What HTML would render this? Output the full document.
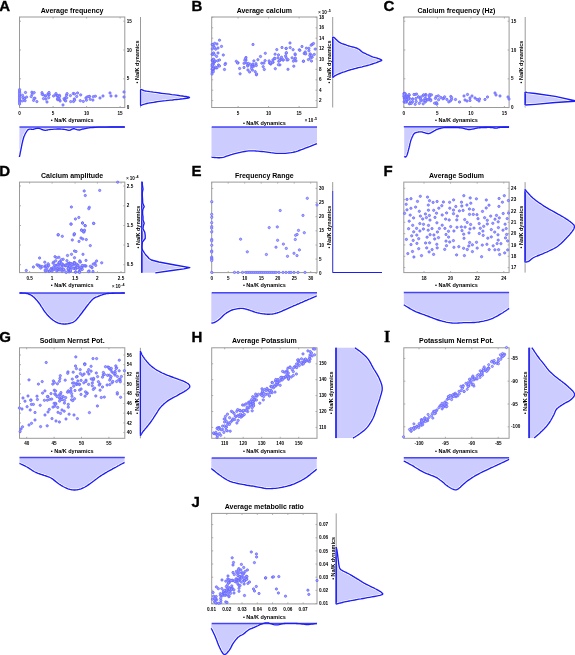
<!DOCTYPE html>
<html><head><meta charset="utf-8"><style>html,body{margin:0;padding:0;background:#fff;width:575px;height:655px;overflow:hidden}svg{display:block;will-change:transform}text{font-family:"Liberation Sans", sans-serif}</style></head>
<body><svg width="575" height="655" viewBox="0 0 575 655" font-family='"Liberation Sans", sans-serif'><text x="-0.80" y="10.80" font-size="15" font-weight="bold" text-anchor="start" fill="#000" stroke="#000" stroke-width="0.35">A</text>
<text x="72.15" y="12.60" font-size="7" font-weight="bold" text-anchor="middle" fill="#000">Average frequency</text>
<rect x="19.5" y="17" width="105.30" height="90.50" fill="none" stroke="#9a9a9a" stroke-width="1"/>
<line x1="19.5" y1="21.20" x2="21.0" y2="21.20" stroke="#9a9a9a" stroke-width="0.8"/>
<line x1="124.8" y1="21.20" x2="123.3" y2="21.20" stroke="#9a9a9a" stroke-width="0.8"/>
<text x="126.80" y="22.80" font-size="4.6" font-weight="bold" text-anchor="start" fill="#000">15</text>
<line x1="19.5" y1="50.00" x2="21.0" y2="50.00" stroke="#9a9a9a" stroke-width="0.8"/>
<line x1="124.8" y1="50.00" x2="123.3" y2="50.00" stroke="#9a9a9a" stroke-width="0.8"/>
<text x="126.80" y="51.60" font-size="4.6" font-weight="bold" text-anchor="start" fill="#000">10</text>
<line x1="19.5" y1="78.80" x2="21.0" y2="78.80" stroke="#9a9a9a" stroke-width="0.8"/>
<line x1="124.8" y1="78.80" x2="123.3" y2="78.80" stroke="#9a9a9a" stroke-width="0.8"/>
<text x="126.80" y="80.40" font-size="4.6" font-weight="bold" text-anchor="start" fill="#000">5</text>
<line x1="19.5" y1="107.60" x2="21.0" y2="107.60" stroke="#9a9a9a" stroke-width="0.8"/>
<line x1="124.8" y1="107.60" x2="123.3" y2="107.60" stroke="#9a9a9a" stroke-width="0.8"/>
<text x="126.80" y="109.20" font-size="4.6" font-weight="bold" text-anchor="start" fill="#000">0</text>
<line x1="19.60" y1="107.5" x2="19.60" y2="106.0" stroke="#9a9a9a" stroke-width="0.8"/>
<line x1="19.60" y1="17" x2="19.60" y2="18.5" stroke="#9a9a9a" stroke-width="0.8"/>
<text x="19.60" y="114.60" font-size="4.6" font-weight="bold" text-anchor="middle" fill="#000">0</text>
<line x1="53.10" y1="107.5" x2="53.10" y2="106.0" stroke="#9a9a9a" stroke-width="0.8"/>
<line x1="53.10" y1="17" x2="53.10" y2="18.5" stroke="#9a9a9a" stroke-width="0.8"/>
<text x="53.10" y="114.60" font-size="4.6" font-weight="bold" text-anchor="middle" fill="#000">5</text>
<line x1="86.60" y1="107.5" x2="86.60" y2="106.0" stroke="#9a9a9a" stroke-width="0.8"/>
<line x1="86.60" y1="17" x2="86.60" y2="18.5" stroke="#9a9a9a" stroke-width="0.8"/>
<text x="86.60" y="114.60" font-size="4.6" font-weight="bold" text-anchor="middle" fill="#000">10</text>
<line x1="120.10" y1="107.5" x2="120.10" y2="106.0" stroke="#9a9a9a" stroke-width="0.8"/>
<line x1="120.10" y1="17" x2="120.10" y2="18.5" stroke="#9a9a9a" stroke-width="0.8"/>
<text x="120.10" y="114.60" font-size="4.6" font-weight="bold" text-anchor="middle" fill="#000">15</text>
<text x="72.15" y="122.20" font-size="5.5" font-weight="bold" text-anchor="middle" fill="#000">• Na/K dynamics</text>
<text x="138.70" y="62.00" font-size="5.5" font-weight="bold" text-anchor="middle" fill="#000" transform="rotate(-90 138.70 62.00)">• Na/K dynamics</text>
<circle cx="19.6" cy="89.6" r="1.15" fill="#a0a0ff" stroke="#6464ff" stroke-width="0.75"/>
<circle cx="19.6" cy="91.0" r="1.15" fill="#a0a0ff" stroke="#6464ff" stroke-width="0.75"/>
<circle cx="19.6" cy="92.3" r="1.15" fill="#a0a0ff" stroke="#6464ff" stroke-width="0.75"/>
<circle cx="19.6" cy="93.6" r="1.15" fill="#a0a0ff" stroke="#6464ff" stroke-width="0.75"/>
<circle cx="19.6" cy="95.0" r="1.15" fill="#a0a0ff" stroke="#6464ff" stroke-width="0.75"/>
<circle cx="19.6" cy="96.2" r="1.15" fill="#a0a0ff" stroke="#6464ff" stroke-width="0.75"/>
<circle cx="19.6" cy="97.5" r="1.15" fill="#a0a0ff" stroke="#6464ff" stroke-width="0.75"/>
<circle cx="19.6" cy="98.8" r="1.15" fill="#a0a0ff" stroke="#6464ff" stroke-width="0.75"/>
<circle cx="19.6" cy="100.0" r="1.15" fill="#a0a0ff" stroke="#6464ff" stroke-width="0.75"/>
<circle cx="19.6" cy="101.3" r="1.15" fill="#a0a0ff" stroke="#6464ff" stroke-width="0.75"/>
<circle cx="19.6" cy="102.5" r="1.15" fill="#a0a0ff" stroke="#6464ff" stroke-width="0.75"/>
<circle cx="19.6" cy="104.0" r="1.15" fill="#a0a0ff" stroke="#6464ff" stroke-width="0.75"/>
<circle cx="24.3" cy="98.2" r="1.15" fill="#a0a0ff" stroke="#6464ff" stroke-width="0.75"/>
<circle cx="26.6" cy="97.1" r="1.15" fill="#a0a0ff" stroke="#6464ff" stroke-width="0.75"/>
<circle cx="24.5" cy="98.5" r="1.15" fill="#a0a0ff" stroke="#6464ff" stroke-width="0.75"/>
<circle cx="22.9" cy="97.6" r="1.15" fill="#a0a0ff" stroke="#6464ff" stroke-width="0.75"/>
<circle cx="25.1" cy="100.7" r="1.15" fill="#a0a0ff" stroke="#6464ff" stroke-width="0.75"/>
<circle cx="22.5" cy="95.3" r="1.15" fill="#a0a0ff" stroke="#6464ff" stroke-width="0.75"/>
<circle cx="22.5" cy="100.9" r="1.15" fill="#a0a0ff" stroke="#6464ff" stroke-width="0.75"/>
<circle cx="25.5" cy="92.5" r="1.15" fill="#a0a0ff" stroke="#6464ff" stroke-width="0.75"/>
<circle cx="36.9" cy="101.6" r="1.15" fill="#a0a0ff" stroke="#6464ff" stroke-width="0.75"/>
<circle cx="34.9" cy="98.2" r="1.15" fill="#a0a0ff" stroke="#6464ff" stroke-width="0.75"/>
<circle cx="31.9" cy="92.2" r="1.15" fill="#a0a0ff" stroke="#6464ff" stroke-width="0.75"/>
<circle cx="34.2" cy="92.6" r="1.15" fill="#a0a0ff" stroke="#6464ff" stroke-width="0.75"/>
<circle cx="32.1" cy="94.4" r="1.15" fill="#a0a0ff" stroke="#6464ff" stroke-width="0.75"/>
<circle cx="31.2" cy="96.6" r="1.15" fill="#a0a0ff" stroke="#6464ff" stroke-width="0.75"/>
<circle cx="33.6" cy="100.4" r="1.15" fill="#a0a0ff" stroke="#6464ff" stroke-width="0.75"/>
<circle cx="34.1" cy="98.4" r="1.15" fill="#a0a0ff" stroke="#6464ff" stroke-width="0.75"/>
<circle cx="43.5" cy="98.6" r="1.15" fill="#a0a0ff" stroke="#6464ff" stroke-width="0.75"/>
<circle cx="43.2" cy="94.8" r="1.15" fill="#a0a0ff" stroke="#6464ff" stroke-width="0.75"/>
<circle cx="47.0" cy="102.0" r="1.15" fill="#a0a0ff" stroke="#6464ff" stroke-width="0.75"/>
<circle cx="45.9" cy="99.1" r="1.15" fill="#a0a0ff" stroke="#6464ff" stroke-width="0.75"/>
<circle cx="42.2" cy="94.3" r="1.15" fill="#a0a0ff" stroke="#6464ff" stroke-width="0.75"/>
<circle cx="42.0" cy="92.7" r="1.15" fill="#a0a0ff" stroke="#6464ff" stroke-width="0.75"/>
<circle cx="45.4" cy="96.0" r="1.15" fill="#a0a0ff" stroke="#6464ff" stroke-width="0.75"/>
<circle cx="45.9" cy="95.9" r="1.15" fill="#a0a0ff" stroke="#6464ff" stroke-width="0.75"/>
<circle cx="57.6" cy="99.6" r="1.15" fill="#a0a0ff" stroke="#6464ff" stroke-width="0.75"/>
<circle cx="48.0" cy="93.9" r="1.15" fill="#a0a0ff" stroke="#6464ff" stroke-width="0.75"/>
<circle cx="57.1" cy="96.2" r="1.15" fill="#a0a0ff" stroke="#6464ff" stroke-width="0.75"/>
<circle cx="57.8" cy="95.6" r="1.15" fill="#a0a0ff" stroke="#6464ff" stroke-width="0.75"/>
<circle cx="48.7" cy="97.7" r="1.15" fill="#a0a0ff" stroke="#6464ff" stroke-width="0.75"/>
<circle cx="55.8" cy="94.4" r="1.15" fill="#a0a0ff" stroke="#6464ff" stroke-width="0.75"/>
<circle cx="48.9" cy="95.0" r="1.15" fill="#a0a0ff" stroke="#6464ff" stroke-width="0.75"/>
<circle cx="57.6" cy="98.8" r="1.15" fill="#a0a0ff" stroke="#6464ff" stroke-width="0.75"/>
<circle cx="49.2" cy="94.2" r="1.15" fill="#a0a0ff" stroke="#6464ff" stroke-width="0.75"/>
<circle cx="49.0" cy="92.5" r="1.15" fill="#a0a0ff" stroke="#6464ff" stroke-width="0.75"/>
<circle cx="56.0" cy="93.6" r="1.15" fill="#a0a0ff" stroke="#6464ff" stroke-width="0.75"/>
<circle cx="53.6" cy="96.0" r="1.15" fill="#a0a0ff" stroke="#6464ff" stroke-width="0.75"/>
<circle cx="59.3" cy="99.6" r="1.15" fill="#a0a0ff" stroke="#6464ff" stroke-width="0.75"/>
<circle cx="58.9" cy="98.8" r="1.15" fill="#a0a0ff" stroke="#6464ff" stroke-width="0.75"/>
<circle cx="58.8" cy="96.8" r="1.15" fill="#a0a0ff" stroke="#6464ff" stroke-width="0.75"/>
<circle cx="59.5" cy="95.4" r="1.15" fill="#a0a0ff" stroke="#6464ff" stroke-width="0.75"/>
<circle cx="64.8" cy="100.2" r="1.15" fill="#a0a0ff" stroke="#6464ff" stroke-width="0.75"/>
<circle cx="60.1" cy="101.0" r="1.15" fill="#a0a0ff" stroke="#6464ff" stroke-width="0.75"/>
<circle cx="59.5" cy="96.5" r="1.15" fill="#a0a0ff" stroke="#6464ff" stroke-width="0.75"/>
<circle cx="64.0" cy="98.8" r="1.15" fill="#a0a0ff" stroke="#6464ff" stroke-width="0.75"/>
<circle cx="63.0" cy="105.0" r="1.15" fill="#a0a0ff" stroke="#6464ff" stroke-width="0.75"/>
<circle cx="65.7" cy="100.9" r="1.15" fill="#a0a0ff" stroke="#6464ff" stroke-width="0.75"/>
<circle cx="66.5" cy="95.1" r="1.15" fill="#a0a0ff" stroke="#6464ff" stroke-width="0.75"/>
<circle cx="70.4" cy="95.6" r="1.15" fill="#a0a0ff" stroke="#6464ff" stroke-width="0.75"/>
<circle cx="67.1" cy="93.6" r="1.15" fill="#a0a0ff" stroke="#6464ff" stroke-width="0.75"/>
<circle cx="65.6" cy="97.7" r="1.15" fill="#a0a0ff" stroke="#6464ff" stroke-width="0.75"/>
<circle cx="66.7" cy="97.8" r="1.15" fill="#a0a0ff" stroke="#6464ff" stroke-width="0.75"/>
<circle cx="76.7" cy="96.5" r="1.15" fill="#a0a0ff" stroke="#6464ff" stroke-width="0.75"/>
<circle cx="87.3" cy="96.8" r="1.15" fill="#a0a0ff" stroke="#6464ff" stroke-width="0.75"/>
<circle cx="80.3" cy="100.7" r="1.15" fill="#a0a0ff" stroke="#6464ff" stroke-width="0.75"/>
<circle cx="73.3" cy="93.5" r="1.15" fill="#a0a0ff" stroke="#6464ff" stroke-width="0.75"/>
<circle cx="86.4" cy="100.2" r="1.15" fill="#a0a0ff" stroke="#6464ff" stroke-width="0.75"/>
<circle cx="74.5" cy="93.9" r="1.15" fill="#a0a0ff" stroke="#6464ff" stroke-width="0.75"/>
<circle cx="83.3" cy="101.4" r="1.15" fill="#a0a0ff" stroke="#6464ff" stroke-width="0.75"/>
<circle cx="73.5" cy="101.5" r="1.15" fill="#a0a0ff" stroke="#6464ff" stroke-width="0.75"/>
<circle cx="85.9" cy="98.0" r="1.15" fill="#a0a0ff" stroke="#6464ff" stroke-width="0.75"/>
<circle cx="77.6" cy="93.0" r="1.15" fill="#a0a0ff" stroke="#6464ff" stroke-width="0.75"/>
<circle cx="70.7" cy="101.6" r="1.15" fill="#a0a0ff" stroke="#6464ff" stroke-width="0.75"/>
<circle cx="74.3" cy="99.0" r="1.15" fill="#a0a0ff" stroke="#6464ff" stroke-width="0.75"/>
<circle cx="74.6" cy="100.2" r="1.15" fill="#a0a0ff" stroke="#6464ff" stroke-width="0.75"/>
<circle cx="80.7" cy="94.9" r="1.15" fill="#a0a0ff" stroke="#6464ff" stroke-width="0.75"/>
<circle cx="90.2" cy="99.3" r="1.15" fill="#a0a0ff" stroke="#6464ff" stroke-width="0.75"/>
<circle cx="89.5" cy="96.4" r="1.15" fill="#a0a0ff" stroke="#6464ff" stroke-width="0.75"/>
<circle cx="92.9" cy="100.1" r="1.15" fill="#a0a0ff" stroke="#6464ff" stroke-width="0.75"/>
<circle cx="93.3" cy="96.7" r="1.15" fill="#a0a0ff" stroke="#6464ff" stroke-width="0.75"/>
<circle cx="95.4" cy="96.2" r="1.15" fill="#a0a0ff" stroke="#6464ff" stroke-width="0.75"/>
<circle cx="89.1" cy="96.6" r="1.15" fill="#a0a0ff" stroke="#6464ff" stroke-width="0.75"/>
<circle cx="100.0" cy="98.0" r="1.15" fill="#a0a0ff" stroke="#6464ff" stroke-width="0.75"/>
<circle cx="103.0" cy="96.0" r="1.15" fill="#a0a0ff" stroke="#6464ff" stroke-width="0.75"/>
<circle cx="110.0" cy="93.0" r="1.15" fill="#a0a0ff" stroke="#6464ff" stroke-width="0.75"/>
<circle cx="111.0" cy="96.0" r="1.15" fill="#a0a0ff" stroke="#6464ff" stroke-width="0.75"/>
<circle cx="116.0" cy="96.0" r="1.15" fill="#a0a0ff" stroke="#6464ff" stroke-width="0.75"/>
<circle cx="124.0" cy="92.0" r="1.15" fill="#a0a0ff" stroke="#6464ff" stroke-width="0.75"/>
<circle cx="124.0" cy="97.0" r="1.15" fill="#a0a0ff" stroke="#6464ff" stroke-width="0.75"/>
<polygon points="140.5,89.4 140.5,89.4 140.6,89.4 140.8,89.5 141.1,89.6 141.3,89.6 141.6,89.7 141.9,89.8 142.2,89.9 142.5,90.0 142.8,90.1 142.9,90.2 143.1,90.3 143.2,90.4 143.5,90.5 144.0,90.7 144.6,90.8 145.5,91.0 146.7,91.2 148.1,91.4 149.7,91.7 151.5,91.9 153.4,92.2 155.4,92.4 157.4,92.7 159.5,93.0 161.7,93.3 164.1,93.6 166.6,93.9 169.2,94.2 171.7,94.6 174.2,94.9 176.5,95.2 178.5,95.5 180.4,95.8 182.4,96.0 184.3,96.3 186.0,96.5 187.5,96.8 188.6,97.0 189.3,97.3 189.5,97.5 189.1,97.8 188.0,98.0 186.6,98.3 184.8,98.5 182.7,98.8 180.6,99.0 178.5,99.3 176.5,99.5 174.5,99.7 172.5,100.0 170.3,100.2 168.1,100.4 165.8,100.7 163.6,100.9 161.5,101.1 159.5,101.4 157.5,101.7 155.6,102.0 153.6,102.3 151.8,102.6 150.0,102.9 148.3,103.2 146.8,103.5 145.5,103.8 144.4,104.1 143.5,104.3 142.7,104.6 142.1,104.8 141.6,105.1 141.2,105.3 140.8,105.5 140.5,105.6 140.5,105.6" fill="#ccccff" stroke="none"/>
<line x1="140.5" y1="17" x2="140.5" y2="107.5" stroke="#9a9a9a" stroke-width="1"/>
<line x1="140.5" y1="89.40" x2="140.5" y2="105.60" stroke="#1c1cf4" stroke-width="1.1"/>
<polyline points="140.5,89.4 140.6,89.4 140.8,89.5 141.1,89.6 141.3,89.6 141.6,89.7 141.9,89.8 142.2,89.9 142.5,90.0 142.8,90.1 142.9,90.2 143.1,90.3 143.2,90.4 143.5,90.5 144.0,90.7 144.6,90.8 145.5,91.0 146.7,91.2 148.1,91.4 149.7,91.7 151.5,91.9 153.4,92.2 155.4,92.4 157.4,92.7 159.5,93.0 161.7,93.3 164.1,93.6 166.6,93.9 169.2,94.2 171.7,94.6 174.2,94.9 176.5,95.2 178.5,95.5 180.4,95.8 182.4,96.0 184.3,96.3 186.0,96.5 187.5,96.8 188.6,97.0 189.3,97.3 189.5,97.5 189.1,97.8 188.0,98.0 186.6,98.3 184.8,98.5 182.7,98.8 180.6,99.0 178.5,99.3 176.5,99.5 174.5,99.7 172.5,100.0 170.3,100.2 168.1,100.4 165.8,100.7 163.6,100.9 161.5,101.1 159.5,101.4 157.5,101.7 155.6,102.0 153.6,102.3 151.8,102.6 150.0,102.9 148.3,103.2 146.8,103.5 145.5,103.8 144.4,104.1 143.5,104.3 142.7,104.6 142.1,104.8 141.6,105.1 141.2,105.3 140.8,105.5 140.5,105.6" fill="none" stroke="#fff" stroke-width="2.8" stroke-linejoin="round"/>
<line x1="140.5" y1="89.40" x2="140.5" y2="105.60" stroke="#1c1cf4" stroke-width="1.1"/>
<polyline points="140.5,89.4 140.6,89.4 140.8,89.5 141.1,89.6 141.3,89.6 141.6,89.7 141.9,89.8 142.2,89.9 142.5,90.0 142.8,90.1 142.9,90.2 143.1,90.3 143.2,90.4 143.5,90.5 144.0,90.7 144.6,90.8 145.5,91.0 146.7,91.2 148.1,91.4 149.7,91.7 151.5,91.9 153.4,92.2 155.4,92.4 157.4,92.7 159.5,93.0 161.7,93.3 164.1,93.6 166.6,93.9 169.2,94.2 171.7,94.6 174.2,94.9 176.5,95.2 178.5,95.5 180.4,95.8 182.4,96.0 184.3,96.3 186.0,96.5 187.5,96.8 188.6,97.0 189.3,97.3 189.5,97.5 189.1,97.8 188.0,98.0 186.6,98.3 184.8,98.5 182.7,98.8 180.6,99.0 178.5,99.3 176.5,99.5 174.5,99.7 172.5,100.0 170.3,100.2 168.1,100.4 165.8,100.7 163.6,100.9 161.5,101.1 159.5,101.4 157.5,101.7 155.6,102.0 153.6,102.3 151.8,102.6 150.0,102.9 148.3,103.2 146.8,103.5 145.5,103.8 144.4,104.1 143.5,104.3 142.7,104.6 142.1,104.8 141.6,105.1 141.2,105.3 140.8,105.5 140.5,105.6" fill="none" stroke="#1c1cf4" stroke-width="1.35" stroke-linejoin="round"/>
<polygon points="19.4,127.0 19.4,157.0 19.5,156.4 19.7,155.6 19.9,154.7 20.1,153.6 20.3,152.5 20.5,151.3 20.8,150.2 21.0,149.0 21.3,147.8 21.5,146.5 21.8,145.1 22.1,143.7 22.4,142.3 22.7,141.0 23.0,139.8 23.3,138.7 23.6,137.8 23.8,137.0 24.1,136.3 24.4,135.7 24.6,135.1 24.9,134.5 25.1,134.0 25.4,133.5 25.7,133.0 25.9,132.5 26.2,132.1 26.4,131.7 26.7,131.3 27.0,130.9 27.2,130.6 27.5,130.3 27.8,130.0 28.0,129.8 28.2,129.6 28.5,129.5 28.7,129.4 29.0,129.3 29.3,129.2 29.6,129.1 30.0,129.1 30.4,129.1 30.8,129.1 31.2,129.2 31.7,129.2 32.1,129.3 32.6,129.3 33.0,129.3 33.4,129.2 33.8,129.2 34.2,129.0 34.5,128.9 34.9,128.8 35.3,128.7 35.6,128.6 36.0,128.5 36.4,128.4 36.8,128.4 37.1,128.3 37.5,128.3 37.9,128.2 38.2,128.2 38.6,128.3 39.0,128.3 39.4,128.4 39.7,128.5 40.1,128.7 40.5,128.8 40.9,129.0 41.2,129.2 41.6,129.4 42.0,129.5 42.4,129.6 42.8,129.8 43.2,129.9 43.5,130.0 43.9,130.1 44.4,130.2 44.8,130.3 45.3,130.3 45.8,130.3 46.3,130.2 46.8,130.1 47.4,130.0 47.9,129.8 48.6,129.7 49.2,129.6 50.0,129.5 50.9,129.4 51.8,129.3 52.8,129.3 53.9,129.2 55.0,129.1 56.1,129.1 57.1,129.0 58.0,129.0 58.9,129.0 59.7,129.0 60.4,129.0 61.2,129.1 61.9,129.1 62.6,129.2 63.3,129.2 64.0,129.3 64.7,129.4 65.4,129.6 66.1,129.7 66.8,129.9 67.4,130.1 68.1,130.2 68.7,130.3 69.3,130.3 69.9,130.2 70.4,130.0 70.9,129.8 71.4,129.5 71.9,129.2 72.4,129.0 72.9,128.8 73.5,128.7 74.1,128.7 74.8,128.9 75.5,129.1 76.3,129.3 77.0,129.6 77.7,129.8 78.4,129.9 79.0,130.0 79.5,130.0 79.9,129.9 80.3,129.8 80.6,129.7 81.0,129.5 81.5,129.4 82.1,129.2 83.0,129.0 84.0,128.8 85.0,128.6 86.1,128.4 87.4,128.1 88.8,127.9 90.6,127.6 92.6,127.5 95.0,127.3 98.1,127.2 101.9,127.1 106.2,127.1 110.7,127.0 115.0,127.0 119.0,127.0 122.4,127.0 124.8,127.0 124.8,127.0" fill="#ccccff" stroke="none"/>
<polyline points="19.4,157.0 19.5,156.4 19.7,155.6 19.9,154.7 20.1,153.6 20.3,152.5 20.5,151.3 20.8,150.2 21.0,149.0 21.3,147.8 21.5,146.5 21.8,145.1 22.1,143.7 22.4,142.3 22.7,141.0 23.0,139.8 23.3,138.7 23.6,137.8 23.8,137.0 24.1,136.3 24.4,135.7 24.6,135.1 24.9,134.5 25.1,134.0 25.4,133.5 25.7,133.0 25.9,132.5 26.2,132.1 26.4,131.7 26.7,131.3 27.0,130.9 27.2,130.6 27.5,130.3 27.8,130.0 28.0,129.8 28.2,129.6 28.5,129.5 28.7,129.4 29.0,129.3 29.3,129.2 29.6,129.1 30.0,129.1 30.4,129.1 30.8,129.1 31.2,129.2 31.7,129.2 32.1,129.3 32.6,129.3 33.0,129.3 33.4,129.2 33.8,129.2 34.2,129.0 34.5,128.9 34.9,128.8 35.3,128.7 35.6,128.6 36.0,128.5 36.4,128.4 36.8,128.4 37.1,128.3 37.5,128.3 37.9,128.2 38.2,128.2 38.6,128.3 39.0,128.3 39.4,128.4 39.7,128.5 40.1,128.7 40.5,128.8 40.9,129.0 41.2,129.2 41.6,129.4 42.0,129.5 42.4,129.6 42.8,129.8 43.2,129.9 43.5,130.0 43.9,130.1 44.4,130.2 44.8,130.3 45.3,130.3 45.8,130.3 46.3,130.2 46.8,130.1 47.4,130.0 47.9,129.8 48.6,129.7 49.2,129.6 50.0,129.5 50.9,129.4 51.8,129.3 52.8,129.3 53.9,129.2 55.0,129.1 56.1,129.1 57.1,129.0 58.0,129.0 58.9,129.0 59.7,129.0 60.4,129.0 61.2,129.1 61.9,129.1 62.6,129.2 63.3,129.2 64.0,129.3 64.7,129.4 65.4,129.6 66.1,129.7 66.8,129.9 67.4,130.1 68.1,130.2 68.7,130.3 69.3,130.3 69.9,130.2 70.4,130.0 70.9,129.8 71.4,129.5 71.9,129.2 72.4,129.0 72.9,128.8 73.5,128.7 74.1,128.7 74.8,128.9 75.5,129.1 76.3,129.3 77.0,129.6 77.7,129.8 78.4,129.9 79.0,130.0 79.5,130.0 79.9,129.9 80.3,129.8 80.6,129.7 81.0,129.5 81.5,129.4 82.1,129.2 83.0,129.0 84.0,128.8 85.0,128.6 86.1,128.4 87.4,128.1 88.8,127.9 90.6,127.6 92.6,127.5 95.0,127.3 98.1,127.2 101.9,127.1 106.2,127.1 110.7,127.0 115.0,127.0 119.0,127.0 122.4,127.0 124.8,127.0" fill="none" stroke="#fff" stroke-width="2.8" stroke-linejoin="round"/>
<line x1="19.5" y1="127" x2="124.8" y2="127" stroke="#1c1cf4" stroke-width="1.5" opacity="0.8"/>
<polyline points="19.4,157.0 19.5,156.4 19.7,155.6 19.9,154.7 20.1,153.6 20.3,152.5 20.5,151.3 20.8,150.2 21.0,149.0 21.3,147.8 21.5,146.5 21.8,145.1 22.1,143.7 22.4,142.3 22.7,141.0 23.0,139.8 23.3,138.7 23.6,137.8 23.8,137.0 24.1,136.3 24.4,135.7 24.6,135.1 24.9,134.5 25.1,134.0 25.4,133.5 25.7,133.0 25.9,132.5 26.2,132.1 26.4,131.7 26.7,131.3 27.0,130.9 27.2,130.6 27.5,130.3 27.8,130.0 28.0,129.8 28.2,129.6 28.5,129.5 28.7,129.4 29.0,129.3 29.3,129.2 29.6,129.1 30.0,129.1 30.4,129.1 30.8,129.1 31.2,129.2 31.7,129.2 32.1,129.3 32.6,129.3 33.0,129.3 33.4,129.2 33.8,129.2 34.2,129.0 34.5,128.9 34.9,128.8 35.3,128.7 35.6,128.6 36.0,128.5 36.4,128.4 36.8,128.4 37.1,128.3 37.5,128.3 37.9,128.2 38.2,128.2 38.6,128.3 39.0,128.3 39.4,128.4 39.7,128.5 40.1,128.7 40.5,128.8 40.9,129.0 41.2,129.2 41.6,129.4 42.0,129.5 42.4,129.6 42.8,129.8 43.2,129.9 43.5,130.0 43.9,130.1 44.4,130.2 44.8,130.3 45.3,130.3 45.8,130.3 46.3,130.2 46.8,130.1 47.4,130.0 47.9,129.8 48.6,129.7 49.2,129.6 50.0,129.5 50.9,129.4 51.8,129.3 52.8,129.3 53.9,129.2 55.0,129.1 56.1,129.1 57.1,129.0 58.0,129.0 58.9,129.0 59.7,129.0 60.4,129.0 61.2,129.1 61.9,129.1 62.6,129.2 63.3,129.2 64.0,129.3 64.7,129.4 65.4,129.6 66.1,129.7 66.8,129.9 67.4,130.1 68.1,130.2 68.7,130.3 69.3,130.3 69.9,130.2 70.4,130.0 70.9,129.8 71.4,129.5 71.9,129.2 72.4,129.0 72.9,128.8 73.5,128.7 74.1,128.7 74.8,128.9 75.5,129.1 76.3,129.3 77.0,129.6 77.7,129.8 78.4,129.9 79.0,130.0 79.5,130.0 79.9,129.9 80.3,129.8 80.6,129.7 81.0,129.5 81.5,129.4 82.1,129.2 83.0,129.0 84.0,128.8 85.0,128.6 86.1,128.4 87.4,128.1 88.8,127.9 90.6,127.6 92.6,127.5 95.0,127.3 98.1,127.2 101.9,127.1 106.2,127.1 110.7,127.0 115.0,127.0 119.0,127.0 122.4,127.0 124.8,127.0" fill="none" stroke="#1c1cf4" stroke-width="1.35" stroke-linejoin="round"/>
<text x="191.40" y="10.80" font-size="15" font-weight="bold" text-anchor="start" fill="#000" stroke="#000" stroke-width="0.35">B</text>
<text x="264.35" y="12.60" font-size="7" font-weight="bold" text-anchor="middle" fill="#000">Average calcium</text>
<rect x="211.7" y="17" width="105.30" height="90.50" fill="none" stroke="#9a9a9a" stroke-width="1"/>
<line x1="211.7" y1="17.40" x2="213.2" y2="17.40" stroke="#9a9a9a" stroke-width="0.8"/>
<line x1="317.0" y1="17.40" x2="315.5" y2="17.40" stroke="#9a9a9a" stroke-width="0.8"/>
<text x="319.00" y="19.00" font-size="4.6" font-weight="bold" text-anchor="start" fill="#000">18</text>
<line x1="211.7" y1="27.80" x2="213.2" y2="27.80" stroke="#9a9a9a" stroke-width="0.8"/>
<line x1="317.0" y1="27.80" x2="315.5" y2="27.80" stroke="#9a9a9a" stroke-width="0.8"/>
<text x="319.00" y="29.40" font-size="4.6" font-weight="bold" text-anchor="start" fill="#000">16</text>
<line x1="211.7" y1="38.20" x2="213.2" y2="38.20" stroke="#9a9a9a" stroke-width="0.8"/>
<line x1="317.0" y1="38.20" x2="315.5" y2="38.20" stroke="#9a9a9a" stroke-width="0.8"/>
<text x="319.00" y="39.80" font-size="4.6" font-weight="bold" text-anchor="start" fill="#000">14</text>
<line x1="211.7" y1="48.60" x2="213.2" y2="48.60" stroke="#9a9a9a" stroke-width="0.8"/>
<line x1="317.0" y1="48.60" x2="315.5" y2="48.60" stroke="#9a9a9a" stroke-width="0.8"/>
<text x="319.00" y="50.20" font-size="4.6" font-weight="bold" text-anchor="start" fill="#000">12</text>
<line x1="211.7" y1="59.00" x2="213.2" y2="59.00" stroke="#9a9a9a" stroke-width="0.8"/>
<line x1="317.0" y1="59.00" x2="315.5" y2="59.00" stroke="#9a9a9a" stroke-width="0.8"/>
<text x="319.00" y="60.60" font-size="4.6" font-weight="bold" text-anchor="start" fill="#000">10</text>
<line x1="211.7" y1="69.40" x2="213.2" y2="69.40" stroke="#9a9a9a" stroke-width="0.8"/>
<line x1="317.0" y1="69.40" x2="315.5" y2="69.40" stroke="#9a9a9a" stroke-width="0.8"/>
<text x="319.00" y="71.00" font-size="4.6" font-weight="bold" text-anchor="start" fill="#000">8</text>
<line x1="211.7" y1="79.80" x2="213.2" y2="79.80" stroke="#9a9a9a" stroke-width="0.8"/>
<line x1="317.0" y1="79.80" x2="315.5" y2="79.80" stroke="#9a9a9a" stroke-width="0.8"/>
<text x="319.00" y="81.40" font-size="4.6" font-weight="bold" text-anchor="start" fill="#000">6</text>
<line x1="211.7" y1="90.20" x2="213.2" y2="90.20" stroke="#9a9a9a" stroke-width="0.8"/>
<line x1="317.0" y1="90.20" x2="315.5" y2="90.20" stroke="#9a9a9a" stroke-width="0.8"/>
<text x="319.00" y="91.80" font-size="4.6" font-weight="bold" text-anchor="start" fill="#000">4</text>
<line x1="211.7" y1="100.60" x2="213.2" y2="100.60" stroke="#9a9a9a" stroke-width="0.8"/>
<line x1="317.0" y1="100.60" x2="315.5" y2="100.60" stroke="#9a9a9a" stroke-width="0.8"/>
<text x="319.00" y="102.20" font-size="4.6" font-weight="bold" text-anchor="start" fill="#000">2</text>
<line x1="238.10" y1="107.5" x2="238.10" y2="106.0" stroke="#9a9a9a" stroke-width="0.8"/>
<line x1="238.10" y1="17" x2="238.10" y2="18.5" stroke="#9a9a9a" stroke-width="0.8"/>
<text x="238.10" y="114.60" font-size="4.6" font-weight="bold" text-anchor="middle" fill="#000">5</text>
<line x1="268.60" y1="107.5" x2="268.60" y2="106.0" stroke="#9a9a9a" stroke-width="0.8"/>
<line x1="268.60" y1="17" x2="268.60" y2="18.5" stroke="#9a9a9a" stroke-width="0.8"/>
<text x="268.60" y="114.60" font-size="4.6" font-weight="bold" text-anchor="middle" fill="#000">10</text>
<line x1="299.10" y1="107.5" x2="299.10" y2="106.0" stroke="#9a9a9a" stroke-width="0.8"/>
<line x1="299.10" y1="17" x2="299.10" y2="18.5" stroke="#9a9a9a" stroke-width="0.8"/>
<text x="299.10" y="114.60" font-size="4.6" font-weight="bold" text-anchor="middle" fill="#000">15</text>
<text x="264.35" y="125.20" font-size="5.5" font-weight="bold" text-anchor="middle" fill="#000">• Na/K dynamics</text>
<text x="330.90" y="62.00" font-size="5.5" font-weight="bold" text-anchor="middle" fill="#000" transform="rotate(-90 330.90 62.00)">• Na/K dynamics</text>
<circle cx="212.3" cy="48.9" r="1.15" fill="#a0a0ff" stroke="#6464ff" stroke-width="0.75"/>
<circle cx="212.1" cy="54.3" r="1.15" fill="#a0a0ff" stroke="#6464ff" stroke-width="0.75"/>
<circle cx="212.5" cy="54.1" r="1.15" fill="#a0a0ff" stroke="#6464ff" stroke-width="0.75"/>
<circle cx="212.2" cy="68.9" r="1.15" fill="#a0a0ff" stroke="#6464ff" stroke-width="0.75"/>
<circle cx="213.5" cy="63.4" r="1.15" fill="#a0a0ff" stroke="#6464ff" stroke-width="0.75"/>
<circle cx="212.2" cy="60.4" r="1.15" fill="#a0a0ff" stroke="#6464ff" stroke-width="0.75"/>
<circle cx="212.2" cy="44.5" r="1.15" fill="#a0a0ff" stroke="#6464ff" stroke-width="0.75"/>
<circle cx="212.2" cy="69.5" r="1.15" fill="#a0a0ff" stroke="#6464ff" stroke-width="0.75"/>
<circle cx="212.8" cy="44.6" r="1.15" fill="#a0a0ff" stroke="#6464ff" stroke-width="0.75"/>
<circle cx="214.4" cy="61.8" r="1.15" fill="#a0a0ff" stroke="#6464ff" stroke-width="0.75"/>
<circle cx="213.6" cy="52.9" r="1.15" fill="#a0a0ff" stroke="#6464ff" stroke-width="0.75"/>
<circle cx="212.2" cy="72.0" r="1.15" fill="#a0a0ff" stroke="#6464ff" stroke-width="0.75"/>
<circle cx="213.1" cy="64.6" r="1.15" fill="#a0a0ff" stroke="#6464ff" stroke-width="0.75"/>
<circle cx="212.6" cy="69.2" r="1.15" fill="#a0a0ff" stroke="#6464ff" stroke-width="0.75"/>
<circle cx="212.1" cy="66.2" r="1.15" fill="#a0a0ff" stroke="#6464ff" stroke-width="0.75"/>
<circle cx="213.6" cy="69.6" r="1.15" fill="#a0a0ff" stroke="#6464ff" stroke-width="0.75"/>
<circle cx="212.9" cy="69.2" r="1.15" fill="#a0a0ff" stroke="#6464ff" stroke-width="0.75"/>
<circle cx="213.2" cy="68.4" r="1.15" fill="#a0a0ff" stroke="#6464ff" stroke-width="0.75"/>
<circle cx="213.5" cy="68.2" r="1.15" fill="#a0a0ff" stroke="#6464ff" stroke-width="0.75"/>
<circle cx="212.9" cy="60.0" r="1.15" fill="#a0a0ff" stroke="#6464ff" stroke-width="0.75"/>
<circle cx="212.7" cy="60.3" r="1.15" fill="#a0a0ff" stroke="#6464ff" stroke-width="0.75"/>
<circle cx="212.7" cy="61.0" r="1.15" fill="#a0a0ff" stroke="#6464ff" stroke-width="0.75"/>
<circle cx="213.3" cy="71.8" r="1.15" fill="#a0a0ff" stroke="#6464ff" stroke-width="0.75"/>
<circle cx="212.7" cy="68.6" r="1.15" fill="#a0a0ff" stroke="#6464ff" stroke-width="0.75"/>
<circle cx="212.1" cy="64.6" r="1.15" fill="#a0a0ff" stroke="#6464ff" stroke-width="0.75"/>
<circle cx="213.0" cy="60.3" r="1.15" fill="#a0a0ff" stroke="#6464ff" stroke-width="0.75"/>
<circle cx="213.8" cy="46.3" r="1.15" fill="#a0a0ff" stroke="#6464ff" stroke-width="0.75"/>
<circle cx="212.7" cy="65.0" r="1.15" fill="#a0a0ff" stroke="#6464ff" stroke-width="0.75"/>
<circle cx="213.6" cy="59.2" r="1.15" fill="#a0a0ff" stroke="#6464ff" stroke-width="0.75"/>
<circle cx="215.7" cy="49.2" r="1.15" fill="#a0a0ff" stroke="#6464ff" stroke-width="0.75"/>
<circle cx="216.6" cy="56.4" r="1.15" fill="#a0a0ff" stroke="#6464ff" stroke-width="0.75"/>
<circle cx="216.3" cy="67.9" r="1.15" fill="#a0a0ff" stroke="#6464ff" stroke-width="0.75"/>
<circle cx="214.7" cy="43.3" r="1.15" fill="#a0a0ff" stroke="#6464ff" stroke-width="0.75"/>
<circle cx="214.9" cy="61.3" r="1.15" fill="#a0a0ff" stroke="#6464ff" stroke-width="0.75"/>
<circle cx="214.4" cy="47.6" r="1.15" fill="#a0a0ff" stroke="#6464ff" stroke-width="0.75"/>
<circle cx="217.6" cy="60.8" r="1.15" fill="#a0a0ff" stroke="#6464ff" stroke-width="0.75"/>
<circle cx="215.5" cy="67.1" r="1.15" fill="#a0a0ff" stroke="#6464ff" stroke-width="0.75"/>
<circle cx="215.0" cy="61.0" r="1.15" fill="#a0a0ff" stroke="#6464ff" stroke-width="0.75"/>
<circle cx="214.4" cy="54.6" r="1.15" fill="#a0a0ff" stroke="#6464ff" stroke-width="0.75"/>
<circle cx="217.1" cy="67.7" r="1.15" fill="#a0a0ff" stroke="#6464ff" stroke-width="0.75"/>
<circle cx="219.5" cy="40.2" r="1.15" fill="#a0a0ff" stroke="#6464ff" stroke-width="0.75"/>
<circle cx="221.5" cy="46.4" r="1.15" fill="#a0a0ff" stroke="#6464ff" stroke-width="0.75"/>
<circle cx="223.3" cy="55.0" r="1.15" fill="#a0a0ff" stroke="#6464ff" stroke-width="0.75"/>
<circle cx="224.5" cy="69.5" r="1.15" fill="#a0a0ff" stroke="#6464ff" stroke-width="0.75"/>
<circle cx="225.5" cy="63.5" r="1.15" fill="#a0a0ff" stroke="#6464ff" stroke-width="0.75"/>
<circle cx="225.0" cy="64.5" r="1.15" fill="#a0a0ff" stroke="#6464ff" stroke-width="0.75"/>
<circle cx="218.0" cy="53.0" r="1.15" fill="#a0a0ff" stroke="#6464ff" stroke-width="0.75"/>
<circle cx="219.5" cy="60.0" r="1.15" fill="#a0a0ff" stroke="#6464ff" stroke-width="0.75"/>
<circle cx="218.5" cy="65.0" r="1.15" fill="#a0a0ff" stroke="#6464ff" stroke-width="0.75"/>
<circle cx="219.5" cy="66.0" r="1.15" fill="#a0a0ff" stroke="#6464ff" stroke-width="0.75"/>
<circle cx="217.0" cy="44.0" r="1.15" fill="#a0a0ff" stroke="#6464ff" stroke-width="0.75"/>
<circle cx="218.0" cy="48.0" r="1.15" fill="#a0a0ff" stroke="#6464ff" stroke-width="0.75"/>
<circle cx="212.0" cy="74.0" r="1.15" fill="#a0a0ff" stroke="#6464ff" stroke-width="0.75"/>
<circle cx="306.4" cy="48.2" r="1.15" fill="#a0a0ff" stroke="#6464ff" stroke-width="0.75"/>
<circle cx="263.2" cy="66.7" r="1.15" fill="#a0a0ff" stroke="#6464ff" stroke-width="0.75"/>
<circle cx="246.0" cy="57.5" r="1.15" fill="#a0a0ff" stroke="#6464ff" stroke-width="0.75"/>
<circle cx="304.9" cy="53.4" r="1.15" fill="#a0a0ff" stroke="#6464ff" stroke-width="0.75"/>
<circle cx="294.7" cy="59.1" r="1.15" fill="#a0a0ff" stroke="#6464ff" stroke-width="0.75"/>
<circle cx="250.3" cy="64.3" r="1.15" fill="#a0a0ff" stroke="#6464ff" stroke-width="0.75"/>
<circle cx="272.9" cy="59.9" r="1.15" fill="#a0a0ff" stroke="#6464ff" stroke-width="0.75"/>
<circle cx="270.8" cy="64.1" r="1.15" fill="#a0a0ff" stroke="#6464ff" stroke-width="0.75"/>
<circle cx="286.2" cy="53.3" r="1.15" fill="#a0a0ff" stroke="#6464ff" stroke-width="0.75"/>
<circle cx="304.2" cy="53.5" r="1.15" fill="#a0a0ff" stroke="#6464ff" stroke-width="0.75"/>
<circle cx="315.2" cy="49.1" r="1.15" fill="#a0a0ff" stroke="#6464ff" stroke-width="0.75"/>
<circle cx="239.6" cy="68.5" r="1.15" fill="#a0a0ff" stroke="#6464ff" stroke-width="0.75"/>
<circle cx="308.4" cy="59.6" r="1.15" fill="#a0a0ff" stroke="#6464ff" stroke-width="0.75"/>
<circle cx="283.1" cy="60.0" r="1.15" fill="#a0a0ff" stroke="#6464ff" stroke-width="0.75"/>
<circle cx="261.8" cy="63.2" r="1.15" fill="#a0a0ff" stroke="#6464ff" stroke-width="0.75"/>
<circle cx="247.7" cy="65.2" r="1.15" fill="#a0a0ff" stroke="#6464ff" stroke-width="0.75"/>
<circle cx="275.3" cy="68.7" r="1.15" fill="#a0a0ff" stroke="#6464ff" stroke-width="0.75"/>
<circle cx="256.3" cy="65.5" r="1.15" fill="#a0a0ff" stroke="#6464ff" stroke-width="0.75"/>
<circle cx="249.6" cy="72.0" r="1.15" fill="#a0a0ff" stroke="#6464ff" stroke-width="0.75"/>
<circle cx="273.1" cy="62.3" r="1.15" fill="#a0a0ff" stroke="#6464ff" stroke-width="0.75"/>
<circle cx="286.4" cy="52.6" r="1.15" fill="#a0a0ff" stroke="#6464ff" stroke-width="0.75"/>
<circle cx="312.2" cy="44.5" r="1.15" fill="#a0a0ff" stroke="#6464ff" stroke-width="0.75"/>
<circle cx="292.1" cy="57.8" r="1.15" fill="#a0a0ff" stroke="#6464ff" stroke-width="0.75"/>
<circle cx="252.4" cy="70.1" r="1.15" fill="#a0a0ff" stroke="#6464ff" stroke-width="0.75"/>
<circle cx="236.3" cy="61.3" r="1.15" fill="#a0a0ff" stroke="#6464ff" stroke-width="0.75"/>
<circle cx="251.6" cy="66.5" r="1.15" fill="#a0a0ff" stroke="#6464ff" stroke-width="0.75"/>
<circle cx="257.9" cy="59.7" r="1.15" fill="#a0a0ff" stroke="#6464ff" stroke-width="0.75"/>
<circle cx="279.9" cy="64.9" r="1.15" fill="#a0a0ff" stroke="#6464ff" stroke-width="0.75"/>
<circle cx="286.2" cy="57.6" r="1.15" fill="#a0a0ff" stroke="#6464ff" stroke-width="0.75"/>
<circle cx="299.3" cy="49.8" r="1.15" fill="#a0a0ff" stroke="#6464ff" stroke-width="0.75"/>
<circle cx="311.5" cy="61.1" r="1.15" fill="#a0a0ff" stroke="#6464ff" stroke-width="0.75"/>
<circle cx="296.0" cy="60.9" r="1.15" fill="#a0a0ff" stroke="#6464ff" stroke-width="0.75"/>
<circle cx="246.0" cy="60.1" r="1.15" fill="#a0a0ff" stroke="#6464ff" stroke-width="0.75"/>
<circle cx="310.2" cy="53.9" r="1.15" fill="#a0a0ff" stroke="#6464ff" stroke-width="0.75"/>
<circle cx="265.3" cy="53.3" r="1.15" fill="#a0a0ff" stroke="#6464ff" stroke-width="0.75"/>
<circle cx="299.9" cy="50.3" r="1.15" fill="#a0a0ff" stroke="#6464ff" stroke-width="0.75"/>
<circle cx="311.1" cy="45.2" r="1.15" fill="#a0a0ff" stroke="#6464ff" stroke-width="0.75"/>
<circle cx="253.7" cy="66.3" r="1.15" fill="#a0a0ff" stroke="#6464ff" stroke-width="0.75"/>
<circle cx="295.4" cy="58.2" r="1.15" fill="#a0a0ff" stroke="#6464ff" stroke-width="0.75"/>
<circle cx="293.1" cy="49.7" r="1.15" fill="#a0a0ff" stroke="#6464ff" stroke-width="0.75"/>
<circle cx="256.4" cy="74.8" r="1.15" fill="#a0a0ff" stroke="#6464ff" stroke-width="0.75"/>
<circle cx="313.5" cy="43.5" r="1.15" fill="#a0a0ff" stroke="#6464ff" stroke-width="0.75"/>
<circle cx="280.2" cy="59.8" r="1.15" fill="#a0a0ff" stroke="#6464ff" stroke-width="0.75"/>
<circle cx="308.9" cy="48.3" r="1.15" fill="#a0a0ff" stroke="#6464ff" stroke-width="0.75"/>
<circle cx="305.2" cy="52.0" r="1.15" fill="#a0a0ff" stroke="#6464ff" stroke-width="0.75"/>
<circle cx="272.6" cy="62.1" r="1.15" fill="#a0a0ff" stroke="#6464ff" stroke-width="0.75"/>
<circle cx="281.2" cy="59.2" r="1.15" fill="#a0a0ff" stroke="#6464ff" stroke-width="0.75"/>
<circle cx="238.1" cy="62.8" r="1.15" fill="#a0a0ff" stroke="#6464ff" stroke-width="0.75"/>
<circle cx="303.4" cy="61.3" r="1.15" fill="#a0a0ff" stroke="#6464ff" stroke-width="0.75"/>
<circle cx="251.5" cy="68.5" r="1.15" fill="#a0a0ff" stroke="#6464ff" stroke-width="0.75"/>
<circle cx="263.9" cy="63.1" r="1.15" fill="#a0a0ff" stroke="#6464ff" stroke-width="0.75"/>
<circle cx="248.4" cy="63.4" r="1.15" fill="#a0a0ff" stroke="#6464ff" stroke-width="0.75"/>
<circle cx="278.0" cy="57.8" r="1.15" fill="#a0a0ff" stroke="#6464ff" stroke-width="0.75"/>
<circle cx="290.2" cy="47.6" r="1.15" fill="#a0a0ff" stroke="#6464ff" stroke-width="0.75"/>
<circle cx="244.0" cy="67.5" r="1.15" fill="#a0a0ff" stroke="#6464ff" stroke-width="0.75"/>
<circle cx="253.9" cy="60.9" r="1.15" fill="#a0a0ff" stroke="#6464ff" stroke-width="0.75"/>
<circle cx="295.2" cy="54.8" r="1.15" fill="#a0a0ff" stroke="#6464ff" stroke-width="0.75"/>
<circle cx="286.2" cy="48.4" r="1.15" fill="#a0a0ff" stroke="#6464ff" stroke-width="0.75"/>
<circle cx="281.5" cy="57.2" r="1.15" fill="#a0a0ff" stroke="#6464ff" stroke-width="0.75"/>
<circle cx="260.5" cy="56.5" r="1.15" fill="#a0a0ff" stroke="#6464ff" stroke-width="0.75"/>
<circle cx="310.4" cy="58.2" r="1.15" fill="#a0a0ff" stroke="#6464ff" stroke-width="0.75"/>
<circle cx="255.2" cy="71.7" r="1.15" fill="#a0a0ff" stroke="#6464ff" stroke-width="0.75"/>
<circle cx="276.8" cy="49.6" r="1.15" fill="#a0a0ff" stroke="#6464ff" stroke-width="0.75"/>
<circle cx="283.2" cy="59.9" r="1.15" fill="#a0a0ff" stroke="#6464ff" stroke-width="0.75"/>
<circle cx="278.4" cy="64.7" r="1.15" fill="#a0a0ff" stroke="#6464ff" stroke-width="0.75"/>
<circle cx="288.0" cy="69.3" r="1.15" fill="#a0a0ff" stroke="#6464ff" stroke-width="0.75"/>
<circle cx="278.7" cy="61.3" r="1.15" fill="#a0a0ff" stroke="#6464ff" stroke-width="0.75"/>
<circle cx="269.5" cy="63.1" r="1.15" fill="#a0a0ff" stroke="#6464ff" stroke-width="0.75"/>
<circle cx="275.1" cy="54.2" r="1.15" fill="#a0a0ff" stroke="#6464ff" stroke-width="0.75"/>
<circle cx="293.4" cy="61.2" r="1.15" fill="#a0a0ff" stroke="#6464ff" stroke-width="0.75"/>
<circle cx="270.6" cy="63.3" r="1.15" fill="#a0a0ff" stroke="#6464ff" stroke-width="0.75"/>
<circle cx="314.3" cy="54.4" r="1.15" fill="#a0a0ff" stroke="#6464ff" stroke-width="0.75"/>
<circle cx="274.5" cy="58.3" r="1.15" fill="#a0a0ff" stroke="#6464ff" stroke-width="0.75"/>
<circle cx="245.5" cy="58.7" r="1.15" fill="#a0a0ff" stroke="#6464ff" stroke-width="0.75"/>
<circle cx="309.8" cy="55.6" r="1.15" fill="#a0a0ff" stroke="#6464ff" stroke-width="0.75"/>
<circle cx="274.9" cy="58.7" r="1.15" fill="#a0a0ff" stroke="#6464ff" stroke-width="0.75"/>
<circle cx="287.0" cy="60.0" r="1.15" fill="#a0a0ff" stroke="#6464ff" stroke-width="0.75"/>
<circle cx="312.2" cy="57.2" r="1.15" fill="#a0a0ff" stroke="#6464ff" stroke-width="0.75"/>
<circle cx="240.1" cy="73.8" r="1.15" fill="#a0a0ff" stroke="#6464ff" stroke-width="0.75"/>
<circle cx="252.7" cy="66.0" r="1.15" fill="#a0a0ff" stroke="#6464ff" stroke-width="0.75"/>
<circle cx="264.3" cy="69.5" r="1.15" fill="#a0a0ff" stroke="#6464ff" stroke-width="0.75"/>
<circle cx="265.1" cy="60.6" r="1.15" fill="#a0a0ff" stroke="#6464ff" stroke-width="0.75"/>
<circle cx="295.1" cy="53.9" r="1.15" fill="#a0a0ff" stroke="#6464ff" stroke-width="0.75"/>
<circle cx="246.1" cy="62.9" r="1.15" fill="#a0a0ff" stroke="#6464ff" stroke-width="0.75"/>
<circle cx="252.8" cy="64.7" r="1.15" fill="#a0a0ff" stroke="#6464ff" stroke-width="0.75"/>
<circle cx="278.5" cy="54.9" r="1.15" fill="#a0a0ff" stroke="#6464ff" stroke-width="0.75"/>
<circle cx="270.5" cy="62.7" r="1.15" fill="#a0a0ff" stroke="#6464ff" stroke-width="0.75"/>
<circle cx="279.7" cy="60.6" r="1.15" fill="#a0a0ff" stroke="#6464ff" stroke-width="0.75"/>
<circle cx="288.1" cy="59.7" r="1.15" fill="#a0a0ff" stroke="#6464ff" stroke-width="0.75"/>
<circle cx="286.1" cy="48.4" r="1.15" fill="#a0a0ff" stroke="#6464ff" stroke-width="0.75"/>
<circle cx="285.6" cy="55.9" r="1.15" fill="#a0a0ff" stroke="#6464ff" stroke-width="0.75"/>
<circle cx="305.7" cy="53.9" r="1.15" fill="#a0a0ff" stroke="#6464ff" stroke-width="0.75"/>
<circle cx="303.5" cy="61.2" r="1.15" fill="#a0a0ff" stroke="#6464ff" stroke-width="0.75"/>
<circle cx="308.9" cy="50.7" r="1.15" fill="#a0a0ff" stroke="#6464ff" stroke-width="0.75"/>
<circle cx="311.6" cy="55.5" r="1.15" fill="#a0a0ff" stroke="#6464ff" stroke-width="0.75"/>
<circle cx="256.6" cy="74.0" r="1.15" fill="#a0a0ff" stroke="#6464ff" stroke-width="0.75"/>
<circle cx="247.7" cy="66.0" r="1.15" fill="#a0a0ff" stroke="#6464ff" stroke-width="0.75"/>
<circle cx="256.0" cy="63.7" r="1.15" fill="#a0a0ff" stroke="#6464ff" stroke-width="0.75"/>
<circle cx="244.0" cy="63.3" r="1.15" fill="#a0a0ff" stroke="#6464ff" stroke-width="0.75"/>
<circle cx="302.0" cy="46.5" r="1.15" fill="#a0a0ff" stroke="#6464ff" stroke-width="0.75"/>
<circle cx="247.9" cy="70.0" r="1.15" fill="#a0a0ff" stroke="#6464ff" stroke-width="0.75"/>
<circle cx="269.1" cy="60.9" r="1.15" fill="#a0a0ff" stroke="#6464ff" stroke-width="0.75"/>
<circle cx="252.9" cy="64.1" r="1.15" fill="#a0a0ff" stroke="#6464ff" stroke-width="0.75"/>
<circle cx="293.8" cy="66.2" r="1.15" fill="#a0a0ff" stroke="#6464ff" stroke-width="0.75"/>
<circle cx="244.8" cy="60.2" r="1.15" fill="#a0a0ff" stroke="#6464ff" stroke-width="0.75"/>
<circle cx="237.5" cy="63.0" r="1.15" fill="#a0a0ff" stroke="#6464ff" stroke-width="0.75"/>
<circle cx="253.0" cy="44.5" r="1.15" fill="#a0a0ff" stroke="#6464ff" stroke-width="0.75"/>
<circle cx="282.0" cy="47.5" r="1.15" fill="#a0a0ff" stroke="#6464ff" stroke-width="0.75"/>
<circle cx="290.0" cy="43.0" r="1.15" fill="#a0a0ff" stroke="#6464ff" stroke-width="0.75"/>
<polygon points="332.7,37.0 332.7,37.0 332.9,37.1 333.1,37.2 333.3,37.3 333.6,37.4 333.9,37.5 334.2,37.7 334.4,37.8 334.7,38.0 334.9,38.2 335.2,38.4 335.4,38.7 335.6,38.9 335.9,39.2 336.1,39.4 336.4,39.7 336.7,40.0 337.0,40.3 337.3,40.6 337.7,40.9 338.0,41.2 338.4,41.6 338.8,41.9 339.2,42.2 339.7,42.5 340.2,42.8 340.8,43.0 341.4,43.3 342.1,43.6 342.7,43.8 343.4,44.0 344.1,44.3 344.7,44.5 345.3,44.7 345.9,44.9 346.5,45.2 347.1,45.4 347.8,45.6 348.4,45.8 349.0,46.0 349.7,46.2 350.4,46.4 351.2,46.6 352.0,46.8 352.8,47.0 353.6,47.2 354.4,47.4 355.1,47.6 355.7,47.8 356.3,48.0 356.8,48.2 357.2,48.4 357.6,48.6 358.0,48.8 358.4,49.0 358.8,49.2 359.2,49.5 359.6,49.8 360.0,50.1 360.3,50.4 360.7,50.7 361.0,51.1 361.4,51.4 361.8,51.7 362.2,52.0 362.6,52.3 363.1,52.5 363.6,52.8 364.0,53.0 364.5,53.2 365.1,53.5 365.6,53.7 366.2,54.0 366.8,54.3 367.4,54.6 368.1,54.9 368.8,55.2 369.5,55.6 370.2,55.9 370.9,56.2 371.7,56.5 372.5,56.8 373.4,57.1 374.4,57.4 375.4,57.7 376.3,57.9 377.2,58.2 378.0,58.5 378.7,58.7 379.3,58.9 379.9,59.1 380.4,59.3 380.8,59.5 381.2,59.7 381.5,59.8 381.6,60.0 381.7,60.2 381.7,60.4 381.5,60.5 381.3,60.7 380.9,60.9 380.5,61.0 380.0,61.2 379.4,61.4 378.7,61.7 377.9,62.0 376.9,62.4 375.8,62.8 374.6,63.2 373.4,63.6 372.2,64.0 370.9,64.4 369.7,64.8 368.5,65.1 367.3,65.5 366.0,65.8 364.8,66.1 363.5,66.4 362.2,66.8 361.0,67.1 359.7,67.4 358.4,67.7 357.2,68.0 355.9,68.3 354.7,68.6 353.4,69.0 352.2,69.3 350.9,69.6 349.7,70.0 348.4,70.4 347.1,70.8 345.7,71.3 344.4,71.8 343.0,72.2 341.8,72.7 340.7,73.1 339.7,73.5 338.9,73.8 338.1,74.2 337.5,74.4 337.0,74.7 336.5,75.0 336.1,75.2 335.6,75.5 335.2,75.7 334.8,75.9 334.4,76.2 334.0,76.4 333.7,76.7 333.4,76.9 333.1,77.1 332.9,77.3 332.7,77.4 332.7,77.4" fill="#ccccff" stroke="none"/>
<line x1="332.7" y1="17" x2="332.7" y2="107.5" stroke="#9a9a9a" stroke-width="1"/>
<line x1="332.7" y1="37.00" x2="332.7" y2="77.40" stroke="#1c1cf4" stroke-width="1.1"/>
<polyline points="332.7,37.0 332.9,37.1 333.1,37.2 333.3,37.3 333.6,37.4 333.9,37.5 334.2,37.7 334.4,37.8 334.7,38.0 334.9,38.2 335.2,38.4 335.4,38.7 335.6,38.9 335.9,39.2 336.1,39.4 336.4,39.7 336.7,40.0 337.0,40.3 337.3,40.6 337.7,40.9 338.0,41.2 338.4,41.6 338.8,41.9 339.2,42.2 339.7,42.5 340.2,42.8 340.8,43.0 341.4,43.3 342.1,43.6 342.7,43.8 343.4,44.0 344.1,44.3 344.7,44.5 345.3,44.7 345.9,44.9 346.5,45.2 347.1,45.4 347.8,45.6 348.4,45.8 349.0,46.0 349.7,46.2 350.4,46.4 351.2,46.6 352.0,46.8 352.8,47.0 353.6,47.2 354.4,47.4 355.1,47.6 355.7,47.8 356.3,48.0 356.8,48.2 357.2,48.4 357.6,48.6 358.0,48.8 358.4,49.0 358.8,49.2 359.2,49.5 359.6,49.8 360.0,50.1 360.3,50.4 360.7,50.7 361.0,51.1 361.4,51.4 361.8,51.7 362.2,52.0 362.6,52.3 363.1,52.5 363.6,52.8 364.0,53.0 364.5,53.2 365.1,53.5 365.6,53.7 366.2,54.0 366.8,54.3 367.4,54.6 368.1,54.9 368.8,55.2 369.5,55.6 370.2,55.9 370.9,56.2 371.7,56.5 372.5,56.8 373.4,57.1 374.4,57.4 375.4,57.7 376.3,57.9 377.2,58.2 378.0,58.5 378.7,58.7 379.3,58.9 379.9,59.1 380.4,59.3 380.8,59.5 381.2,59.7 381.5,59.8 381.6,60.0 381.7,60.2 381.7,60.4 381.5,60.5 381.3,60.7 380.9,60.9 380.5,61.0 380.0,61.2 379.4,61.4 378.7,61.7 377.9,62.0 376.9,62.4 375.8,62.8 374.6,63.2 373.4,63.6 372.2,64.0 370.9,64.4 369.7,64.8 368.5,65.1 367.3,65.5 366.0,65.8 364.8,66.1 363.5,66.4 362.2,66.8 361.0,67.1 359.7,67.4 358.4,67.7 357.2,68.0 355.9,68.3 354.7,68.6 353.4,69.0 352.2,69.3 350.9,69.6 349.7,70.0 348.4,70.4 347.1,70.8 345.7,71.3 344.4,71.8 343.0,72.2 341.8,72.7 340.7,73.1 339.7,73.5 338.9,73.8 338.1,74.2 337.5,74.4 337.0,74.7 336.5,75.0 336.1,75.2 335.6,75.5 335.2,75.7 334.8,75.9 334.4,76.2 334.0,76.4 333.7,76.7 333.4,76.9 333.1,77.1 332.9,77.3 332.7,77.4" fill="none" stroke="#fff" stroke-width="2.8" stroke-linejoin="round"/>
<line x1="332.7" y1="37.00" x2="332.7" y2="77.40" stroke="#1c1cf4" stroke-width="1.1"/>
<polyline points="332.7,37.0 332.9,37.1 333.1,37.2 333.3,37.3 333.6,37.4 333.9,37.5 334.2,37.7 334.4,37.8 334.7,38.0 334.9,38.2 335.2,38.4 335.4,38.7 335.6,38.9 335.9,39.2 336.1,39.4 336.4,39.7 336.7,40.0 337.0,40.3 337.3,40.6 337.7,40.9 338.0,41.2 338.4,41.6 338.8,41.9 339.2,42.2 339.7,42.5 340.2,42.8 340.8,43.0 341.4,43.3 342.1,43.6 342.7,43.8 343.4,44.0 344.1,44.3 344.7,44.5 345.3,44.7 345.9,44.9 346.5,45.2 347.1,45.4 347.8,45.6 348.4,45.8 349.0,46.0 349.7,46.2 350.4,46.4 351.2,46.6 352.0,46.8 352.8,47.0 353.6,47.2 354.4,47.4 355.1,47.6 355.7,47.8 356.3,48.0 356.8,48.2 357.2,48.4 357.6,48.6 358.0,48.8 358.4,49.0 358.8,49.2 359.2,49.5 359.6,49.8 360.0,50.1 360.3,50.4 360.7,50.7 361.0,51.1 361.4,51.4 361.8,51.7 362.2,52.0 362.6,52.3 363.1,52.5 363.6,52.8 364.0,53.0 364.5,53.2 365.1,53.5 365.6,53.7 366.2,54.0 366.8,54.3 367.4,54.6 368.1,54.9 368.8,55.2 369.5,55.6 370.2,55.9 370.9,56.2 371.7,56.5 372.5,56.8 373.4,57.1 374.4,57.4 375.4,57.7 376.3,57.9 377.2,58.2 378.0,58.5 378.7,58.7 379.3,58.9 379.9,59.1 380.4,59.3 380.8,59.5 381.2,59.7 381.5,59.8 381.6,60.0 381.7,60.2 381.7,60.4 381.5,60.5 381.3,60.7 380.9,60.9 380.5,61.0 380.0,61.2 379.4,61.4 378.7,61.7 377.9,62.0 376.9,62.4 375.8,62.8 374.6,63.2 373.4,63.6 372.2,64.0 370.9,64.4 369.7,64.8 368.5,65.1 367.3,65.5 366.0,65.8 364.8,66.1 363.5,66.4 362.2,66.8 361.0,67.1 359.7,67.4 358.4,67.7 357.2,68.0 355.9,68.3 354.7,68.6 353.4,69.0 352.2,69.3 350.9,69.6 349.7,70.0 348.4,70.4 347.1,70.8 345.7,71.3 344.4,71.8 343.0,72.2 341.8,72.7 340.7,73.1 339.7,73.5 338.9,73.8 338.1,74.2 337.5,74.4 337.0,74.7 336.5,75.0 336.1,75.2 335.6,75.5 335.2,75.7 334.8,75.9 334.4,76.2 334.0,76.4 333.7,76.7 333.4,76.9 333.1,77.1 332.9,77.3 332.7,77.4" fill="none" stroke="#1c1cf4" stroke-width="1.35" stroke-linejoin="round"/>
<polygon points="211.5,126.9 211.5,157.2 212.3,157.3 213.3,157.4 214.6,157.5 216.0,157.6 217.4,157.7 218.9,157.7 220.3,157.7 221.7,157.6 222.9,157.4 224.1,157.1 225.3,156.7 226.5,156.2 227.7,155.8 229.1,155.3 230.5,154.8 232.1,154.4 233.9,153.9 235.9,153.4 238.0,152.9 240.2,152.4 242.4,151.9 244.6,151.5 246.8,151.1 248.8,150.9 250.7,150.8 252.6,150.8 254.5,150.8 256.3,151.0 258.1,151.1 259.9,151.3 261.7,151.5 263.5,151.7 265.3,151.9 267.1,152.1 268.9,152.4 270.8,152.7 272.6,152.9 274.4,153.1 276.2,153.3 278.0,153.4 279.8,153.4 281.7,153.4 283.6,153.4 285.5,153.3 287.3,153.1 289.2,152.9 291.0,152.7 292.7,152.4 294.4,152.0 296.0,151.6 297.6,151.1 299.1,150.5 300.7,149.9 302.2,149.4 303.7,148.8 305.2,148.2 306.8,147.6 308.5,147.0 310.2,146.3 311.9,145.6 313.5,145.0 314.9,144.4 316.1,144.0 317.0,143.6 317.0,126.9" fill="#ccccff" stroke="none"/>
<polyline points="211.5,157.2 212.3,157.3 213.3,157.4 214.6,157.5 216.0,157.6 217.4,157.7 218.9,157.7 220.3,157.7 221.7,157.6 222.9,157.4 224.1,157.1 225.3,156.7 226.5,156.2 227.7,155.8 229.1,155.3 230.5,154.8 232.1,154.4 233.9,153.9 235.9,153.4 238.0,152.9 240.2,152.4 242.4,151.9 244.6,151.5 246.8,151.1 248.8,150.9 250.7,150.8 252.6,150.8 254.5,150.8 256.3,151.0 258.1,151.1 259.9,151.3 261.7,151.5 263.5,151.7 265.3,151.9 267.1,152.1 268.9,152.4 270.8,152.7 272.6,152.9 274.4,153.1 276.2,153.3 278.0,153.4 279.8,153.4 281.7,153.4 283.6,153.4 285.5,153.3 287.3,153.1 289.2,152.9 291.0,152.7 292.7,152.4 294.4,152.0 296.0,151.6 297.6,151.1 299.1,150.5 300.7,149.9 302.2,149.4 303.7,148.8 305.2,148.2 306.8,147.6 308.5,147.0 310.2,146.3 311.9,145.6 313.5,145.0 314.9,144.4 316.1,144.0 317.0,143.6" fill="none" stroke="#fff" stroke-width="2.8" stroke-linejoin="round"/>
<line x1="211.7" y1="126.9" x2="317.0" y2="126.9" stroke="#1c1cf4" stroke-width="1.5" opacity="0.8"/>
<polyline points="211.5,157.2 212.3,157.3 213.3,157.4 214.6,157.5 216.0,157.6 217.4,157.7 218.9,157.7 220.3,157.7 221.7,157.6 222.9,157.4 224.1,157.1 225.3,156.7 226.5,156.2 227.7,155.8 229.1,155.3 230.5,154.8 232.1,154.4 233.9,153.9 235.9,153.4 238.0,152.9 240.2,152.4 242.4,151.9 244.6,151.5 246.8,151.1 248.8,150.9 250.7,150.8 252.6,150.8 254.5,150.8 256.3,151.0 258.1,151.1 259.9,151.3 261.7,151.5 263.5,151.7 265.3,151.9 267.1,152.1 268.9,152.4 270.8,152.7 272.6,152.9 274.4,153.1 276.2,153.3 278.0,153.4 279.8,153.4 281.7,153.4 283.6,153.4 285.5,153.3 287.3,153.1 289.2,152.9 291.0,152.7 292.7,152.4 294.4,152.0 296.0,151.6 297.6,151.1 299.1,150.5 300.7,149.9 302.2,149.4 303.7,148.8 305.2,148.2 306.8,147.6 308.5,147.0 310.2,146.3 311.9,145.6 313.5,145.0 314.9,144.4 316.1,144.0 317.0,143.6" fill="none" stroke="#1c1cf4" stroke-width="1.35" stroke-linejoin="round"/>
<text x="318.10" y="14.00" font-size="5.0" font-weight="normal" text-anchor="start" fill="#000">×</text>
<text x="321.80" y="14.00" font-size="4.6" font-weight="bold" text-anchor="start" fill="#000">10</text>
<text x="327.50" y="11.60" font-size="3.6" font-weight="bold" text-anchor="start" fill="#000">-5</text>
<text x="304.50" y="122.30" font-size="5.0" font-weight="normal" text-anchor="start" fill="#000">×</text>
<text x="308.20" y="122.30" font-size="4.6" font-weight="bold" text-anchor="start" fill="#000">10</text>
<text x="313.90" y="119.90" font-size="3.6" font-weight="bold" text-anchor="start" fill="#000">-5</text>
<text x="383.50" y="10.80" font-size="15" font-weight="bold" text-anchor="start" fill="#000" stroke="#000" stroke-width="0.35">C</text>
<text x="456.45" y="12.60" font-size="7" font-weight="bold" text-anchor="middle" fill="#000">Calcium frequency (Hz)</text>
<rect x="403.8" y="17" width="105.30" height="90.50" fill="none" stroke="#9a9a9a" stroke-width="1"/>
<line x1="403.8" y1="21.20" x2="405.3" y2="21.20" stroke="#9a9a9a" stroke-width="0.8"/>
<line x1="509.1" y1="21.20" x2="507.6" y2="21.20" stroke="#9a9a9a" stroke-width="0.8"/>
<text x="511.10" y="22.80" font-size="4.6" font-weight="bold" text-anchor="start" fill="#000">15</text>
<line x1="403.8" y1="50.00" x2="405.3" y2="50.00" stroke="#9a9a9a" stroke-width="0.8"/>
<line x1="509.1" y1="50.00" x2="507.6" y2="50.00" stroke="#9a9a9a" stroke-width="0.8"/>
<text x="511.10" y="51.60" font-size="4.6" font-weight="bold" text-anchor="start" fill="#000">10</text>
<line x1="403.8" y1="78.80" x2="405.3" y2="78.80" stroke="#9a9a9a" stroke-width="0.8"/>
<line x1="509.1" y1="78.80" x2="507.6" y2="78.80" stroke="#9a9a9a" stroke-width="0.8"/>
<text x="511.10" y="80.40" font-size="4.6" font-weight="bold" text-anchor="start" fill="#000">5</text>
<line x1="403.8" y1="107.60" x2="405.3" y2="107.60" stroke="#9a9a9a" stroke-width="0.8"/>
<line x1="509.1" y1="107.60" x2="507.6" y2="107.60" stroke="#9a9a9a" stroke-width="0.8"/>
<text x="511.10" y="109.20" font-size="4.6" font-weight="bold" text-anchor="start" fill="#000">0</text>
<line x1="403.90" y1="107.5" x2="403.90" y2="106.0" stroke="#9a9a9a" stroke-width="0.8"/>
<line x1="403.90" y1="17" x2="403.90" y2="18.5" stroke="#9a9a9a" stroke-width="0.8"/>
<text x="403.90" y="114.60" font-size="4.6" font-weight="bold" text-anchor="middle" fill="#000">0</text>
<line x1="437.40" y1="107.5" x2="437.40" y2="106.0" stroke="#9a9a9a" stroke-width="0.8"/>
<line x1="437.40" y1="17" x2="437.40" y2="18.5" stroke="#9a9a9a" stroke-width="0.8"/>
<text x="437.40" y="114.60" font-size="4.6" font-weight="bold" text-anchor="middle" fill="#000">5</text>
<line x1="470.90" y1="107.5" x2="470.90" y2="106.0" stroke="#9a9a9a" stroke-width="0.8"/>
<line x1="470.90" y1="17" x2="470.90" y2="18.5" stroke="#9a9a9a" stroke-width="0.8"/>
<text x="470.90" y="114.60" font-size="4.6" font-weight="bold" text-anchor="middle" fill="#000">10</text>
<line x1="504.40" y1="107.5" x2="504.40" y2="106.0" stroke="#9a9a9a" stroke-width="0.8"/>
<line x1="504.40" y1="17" x2="504.40" y2="18.5" stroke="#9a9a9a" stroke-width="0.8"/>
<text x="504.40" y="114.60" font-size="4.6" font-weight="bold" text-anchor="middle" fill="#000">15</text>
<text x="456.45" y="122.20" font-size="5.5" font-weight="bold" text-anchor="middle" fill="#000">• Na/K dynamics</text>
<text x="523.30" y="62.00" font-size="5.5" font-weight="bold" text-anchor="middle" fill="#000" transform="rotate(-90 523.30 62.00)">• Na/K dynamics</text>
<circle cx="405.8" cy="100.1" r="1.15" fill="#a0a0ff" stroke="#6464ff" stroke-width="0.75"/>
<circle cx="406.0" cy="99.5" r="1.15" fill="#a0a0ff" stroke="#6464ff" stroke-width="0.75"/>
<circle cx="404.4" cy="98.3" r="1.15" fill="#a0a0ff" stroke="#6464ff" stroke-width="0.75"/>
<circle cx="406.1" cy="100.9" r="1.15" fill="#a0a0ff" stroke="#6464ff" stroke-width="0.75"/>
<circle cx="406.4" cy="98.4" r="1.15" fill="#a0a0ff" stroke="#6464ff" stroke-width="0.75"/>
<circle cx="410.5" cy="101.8" r="1.15" fill="#a0a0ff" stroke="#6464ff" stroke-width="0.75"/>
<circle cx="404.4" cy="102.0" r="1.15" fill="#a0a0ff" stroke="#6464ff" stroke-width="0.75"/>
<circle cx="405.2" cy="98.7" r="1.15" fill="#a0a0ff" stroke="#6464ff" stroke-width="0.75"/>
<circle cx="404.2" cy="93.5" r="1.15" fill="#a0a0ff" stroke="#6464ff" stroke-width="0.75"/>
<circle cx="406.5" cy="102.0" r="1.15" fill="#a0a0ff" stroke="#6464ff" stroke-width="0.75"/>
<circle cx="405.3" cy="95.9" r="1.15" fill="#a0a0ff" stroke="#6464ff" stroke-width="0.75"/>
<circle cx="405.9" cy="100.7" r="1.15" fill="#a0a0ff" stroke="#6464ff" stroke-width="0.75"/>
<circle cx="405.1" cy="99.0" r="1.15" fill="#a0a0ff" stroke="#6464ff" stroke-width="0.75"/>
<circle cx="408.6" cy="95.6" r="1.15" fill="#a0a0ff" stroke="#6464ff" stroke-width="0.75"/>
<circle cx="404.3" cy="93.3" r="1.15" fill="#a0a0ff" stroke="#6464ff" stroke-width="0.75"/>
<circle cx="404.0" cy="96.8" r="1.15" fill="#a0a0ff" stroke="#6464ff" stroke-width="0.75"/>
<circle cx="409.5" cy="98.4" r="1.15" fill="#a0a0ff" stroke="#6464ff" stroke-width="0.75"/>
<circle cx="405.4" cy="93.8" r="1.15" fill="#a0a0ff" stroke="#6464ff" stroke-width="0.75"/>
<circle cx="406.4" cy="96.2" r="1.15" fill="#a0a0ff" stroke="#6464ff" stroke-width="0.75"/>
<circle cx="409.1" cy="95.3" r="1.15" fill="#a0a0ff" stroke="#6464ff" stroke-width="0.75"/>
<circle cx="404.2" cy="94.2" r="1.15" fill="#a0a0ff" stroke="#6464ff" stroke-width="0.75"/>
<circle cx="405.7" cy="96.0" r="1.15" fill="#a0a0ff" stroke="#6464ff" stroke-width="0.75"/>
<circle cx="405.4" cy="97.9" r="1.15" fill="#a0a0ff" stroke="#6464ff" stroke-width="0.75"/>
<circle cx="404.2" cy="101.8" r="1.15" fill="#a0a0ff" stroke="#6464ff" stroke-width="0.75"/>
<circle cx="407.6" cy="99.2" r="1.15" fill="#a0a0ff" stroke="#6464ff" stroke-width="0.75"/>
<circle cx="404.5" cy="96.6" r="1.15" fill="#a0a0ff" stroke="#6464ff" stroke-width="0.75"/>
<circle cx="404.0" cy="95.7" r="1.15" fill="#a0a0ff" stroke="#6464ff" stroke-width="0.75"/>
<circle cx="408.7" cy="99.0" r="1.15" fill="#a0a0ff" stroke="#6464ff" stroke-width="0.75"/>
<circle cx="404.4" cy="94.2" r="1.15" fill="#a0a0ff" stroke="#6464ff" stroke-width="0.75"/>
<circle cx="406.0" cy="98.9" r="1.15" fill="#a0a0ff" stroke="#6464ff" stroke-width="0.75"/>
<circle cx="405.4" cy="102.0" r="1.15" fill="#a0a0ff" stroke="#6464ff" stroke-width="0.75"/>
<circle cx="406.9" cy="99.6" r="1.15" fill="#a0a0ff" stroke="#6464ff" stroke-width="0.75"/>
<circle cx="404.8" cy="100.0" r="1.15" fill="#a0a0ff" stroke="#6464ff" stroke-width="0.75"/>
<circle cx="408.3" cy="98.2" r="1.15" fill="#a0a0ff" stroke="#6464ff" stroke-width="0.75"/>
<circle cx="408.6" cy="98.9" r="1.15" fill="#a0a0ff" stroke="#6464ff" stroke-width="0.75"/>
<circle cx="431.5" cy="94.8" r="1.15" fill="#a0a0ff" stroke="#6464ff" stroke-width="0.75"/>
<circle cx="425.3" cy="102.0" r="1.15" fill="#a0a0ff" stroke="#6464ff" stroke-width="0.75"/>
<circle cx="409.3" cy="103.8" r="1.15" fill="#a0a0ff" stroke="#6464ff" stroke-width="0.75"/>
<circle cx="412.6" cy="99.0" r="1.15" fill="#a0a0ff" stroke="#6464ff" stroke-width="0.75"/>
<circle cx="412.9" cy="99.2" r="1.15" fill="#a0a0ff" stroke="#6464ff" stroke-width="0.75"/>
<circle cx="425.7" cy="94.6" r="1.15" fill="#a0a0ff" stroke="#6464ff" stroke-width="0.75"/>
<circle cx="435.4" cy="98.4" r="1.15" fill="#a0a0ff" stroke="#6464ff" stroke-width="0.75"/>
<circle cx="423.3" cy="100.3" r="1.15" fill="#a0a0ff" stroke="#6464ff" stroke-width="0.75"/>
<circle cx="418.6" cy="97.0" r="1.15" fill="#a0a0ff" stroke="#6464ff" stroke-width="0.75"/>
<circle cx="427.0" cy="99.9" r="1.15" fill="#a0a0ff" stroke="#6464ff" stroke-width="0.75"/>
<circle cx="416.2" cy="101.5" r="1.15" fill="#a0a0ff" stroke="#6464ff" stroke-width="0.75"/>
<circle cx="416.6" cy="94.1" r="1.15" fill="#a0a0ff" stroke="#6464ff" stroke-width="0.75"/>
<circle cx="415.1" cy="94.4" r="1.15" fill="#a0a0ff" stroke="#6464ff" stroke-width="0.75"/>
<circle cx="412.5" cy="101.9" r="1.15" fill="#a0a0ff" stroke="#6464ff" stroke-width="0.75"/>
<circle cx="419.3" cy="103.4" r="1.15" fill="#a0a0ff" stroke="#6464ff" stroke-width="0.75"/>
<circle cx="429.7" cy="94.5" r="1.15" fill="#a0a0ff" stroke="#6464ff" stroke-width="0.75"/>
<circle cx="436.7" cy="103.9" r="1.15" fill="#a0a0ff" stroke="#6464ff" stroke-width="0.75"/>
<circle cx="410.1" cy="103.5" r="1.15" fill="#a0a0ff" stroke="#6464ff" stroke-width="0.75"/>
<circle cx="420.5" cy="99.0" r="1.15" fill="#a0a0ff" stroke="#6464ff" stroke-width="0.75"/>
<circle cx="436.2" cy="96.6" r="1.15" fill="#a0a0ff" stroke="#6464ff" stroke-width="0.75"/>
<circle cx="423.2" cy="103.8" r="1.15" fill="#a0a0ff" stroke="#6464ff" stroke-width="0.75"/>
<circle cx="429.0" cy="98.9" r="1.15" fill="#a0a0ff" stroke="#6464ff" stroke-width="0.75"/>
<circle cx="436.4" cy="102.6" r="1.15" fill="#a0a0ff" stroke="#6464ff" stroke-width="0.75"/>
<circle cx="425.5" cy="95.2" r="1.15" fill="#a0a0ff" stroke="#6464ff" stroke-width="0.75"/>
<circle cx="426.1" cy="98.8" r="1.15" fill="#a0a0ff" stroke="#6464ff" stroke-width="0.75"/>
<circle cx="413.9" cy="94.5" r="1.15" fill="#a0a0ff" stroke="#6464ff" stroke-width="0.75"/>
<circle cx="423.3" cy="95.3" r="1.15" fill="#a0a0ff" stroke="#6464ff" stroke-width="0.75"/>
<circle cx="420.8" cy="101.0" r="1.15" fill="#a0a0ff" stroke="#6464ff" stroke-width="0.75"/>
<circle cx="421.2" cy="96.8" r="1.15" fill="#a0a0ff" stroke="#6464ff" stroke-width="0.75"/>
<circle cx="424.9" cy="98.4" r="1.15" fill="#a0a0ff" stroke="#6464ff" stroke-width="0.75"/>
<circle cx="430.6" cy="99.6" r="1.15" fill="#a0a0ff" stroke="#6464ff" stroke-width="0.75"/>
<circle cx="436.9" cy="104.0" r="1.15" fill="#a0a0ff" stroke="#6464ff" stroke-width="0.75"/>
<circle cx="429.3" cy="96.5" r="1.15" fill="#a0a0ff" stroke="#6464ff" stroke-width="0.75"/>
<circle cx="411.3" cy="103.4" r="1.15" fill="#a0a0ff" stroke="#6464ff" stroke-width="0.75"/>
<circle cx="430.7" cy="100.6" r="1.15" fill="#a0a0ff" stroke="#6464ff" stroke-width="0.75"/>
<circle cx="418.4" cy="96.9" r="1.15" fill="#a0a0ff" stroke="#6464ff" stroke-width="0.75"/>
<circle cx="427.9" cy="99.9" r="1.15" fill="#a0a0ff" stroke="#6464ff" stroke-width="0.75"/>
<circle cx="425.2" cy="100.6" r="1.15" fill="#a0a0ff" stroke="#6464ff" stroke-width="0.75"/>
<circle cx="429.8" cy="96.0" r="1.15" fill="#a0a0ff" stroke="#6464ff" stroke-width="0.75"/>
<circle cx="415.2" cy="104.3" r="1.15" fill="#a0a0ff" stroke="#6464ff" stroke-width="0.75"/>
<circle cx="434.6" cy="103.2" r="1.15" fill="#a0a0ff" stroke="#6464ff" stroke-width="0.75"/>
<circle cx="409.1" cy="94.6" r="1.15" fill="#a0a0ff" stroke="#6464ff" stroke-width="0.75"/>
<circle cx="415.9" cy="98.5" r="1.15" fill="#a0a0ff" stroke="#6464ff" stroke-width="0.75"/>
<circle cx="426.1" cy="95.1" r="1.15" fill="#a0a0ff" stroke="#6464ff" stroke-width="0.75"/>
<circle cx="423.7" cy="94.8" r="1.15" fill="#a0a0ff" stroke="#6464ff" stroke-width="0.75"/>
<circle cx="438.6" cy="99.7" r="1.15" fill="#a0a0ff" stroke="#6464ff" stroke-width="0.75"/>
<circle cx="446.9" cy="99.4" r="1.15" fill="#a0a0ff" stroke="#6464ff" stroke-width="0.75"/>
<circle cx="443.7" cy="98.3" r="1.15" fill="#a0a0ff" stroke="#6464ff" stroke-width="0.75"/>
<circle cx="440.8" cy="97.4" r="1.15" fill="#a0a0ff" stroke="#6464ff" stroke-width="0.75"/>
<circle cx="450.4" cy="100.9" r="1.15" fill="#a0a0ff" stroke="#6464ff" stroke-width="0.75"/>
<circle cx="438.3" cy="95.8" r="1.15" fill="#a0a0ff" stroke="#6464ff" stroke-width="0.75"/>
<circle cx="451.6" cy="99.4" r="1.15" fill="#a0a0ff" stroke="#6464ff" stroke-width="0.75"/>
<circle cx="450.8" cy="96.5" r="1.15" fill="#a0a0ff" stroke="#6464ff" stroke-width="0.75"/>
<circle cx="444.6" cy="96.8" r="1.15" fill="#a0a0ff" stroke="#6464ff" stroke-width="0.75"/>
<circle cx="451.6" cy="97.6" r="1.15" fill="#a0a0ff" stroke="#6464ff" stroke-width="0.75"/>
<circle cx="448.8" cy="101.9" r="1.15" fill="#a0a0ff" stroke="#6464ff" stroke-width="0.75"/>
<circle cx="442.9" cy="98.8" r="1.15" fill="#a0a0ff" stroke="#6464ff" stroke-width="0.75"/>
<circle cx="455.5" cy="99.5" r="1.15" fill="#a0a0ff" stroke="#6464ff" stroke-width="0.75"/>
<circle cx="459.5" cy="102.0" r="1.15" fill="#a0a0ff" stroke="#6464ff" stroke-width="0.75"/>
<circle cx="464.0" cy="96.0" r="1.15" fill="#a0a0ff" stroke="#6464ff" stroke-width="0.75"/>
<circle cx="465.0" cy="100.0" r="1.15" fill="#a0a0ff" stroke="#6464ff" stroke-width="0.75"/>
<circle cx="467.0" cy="101.0" r="1.15" fill="#a0a0ff" stroke="#6464ff" stroke-width="0.75"/>
<circle cx="467.5" cy="94.5" r="1.15" fill="#a0a0ff" stroke="#6464ff" stroke-width="0.75"/>
<circle cx="470.0" cy="98.0" r="1.15" fill="#a0a0ff" stroke="#6464ff" stroke-width="0.75"/>
<circle cx="472.0" cy="96.0" r="1.15" fill="#a0a0ff" stroke="#6464ff" stroke-width="0.75"/>
<circle cx="470.0" cy="100.5" r="1.15" fill="#a0a0ff" stroke="#6464ff" stroke-width="0.75"/>
<circle cx="475.0" cy="98.0" r="1.15" fill="#a0a0ff" stroke="#6464ff" stroke-width="0.75"/>
<circle cx="477.0" cy="99.5" r="1.15" fill="#a0a0ff" stroke="#6464ff" stroke-width="0.75"/>
<circle cx="479.0" cy="101.0" r="1.15" fill="#a0a0ff" stroke="#6464ff" stroke-width="0.75"/>
<circle cx="479.5" cy="99.0" r="1.15" fill="#a0a0ff" stroke="#6464ff" stroke-width="0.75"/>
<circle cx="485.0" cy="99.5" r="1.15" fill="#a0a0ff" stroke="#6464ff" stroke-width="0.75"/>
<circle cx="487.5" cy="97.0" r="1.15" fill="#a0a0ff" stroke="#6464ff" stroke-width="0.75"/>
<circle cx="495.0" cy="93.0" r="1.15" fill="#a0a0ff" stroke="#6464ff" stroke-width="0.75"/>
<circle cx="496.0" cy="95.0" r="1.15" fill="#a0a0ff" stroke="#6464ff" stroke-width="0.75"/>
<circle cx="500.0" cy="96.0" r="1.15" fill="#a0a0ff" stroke="#6464ff" stroke-width="0.75"/>
<circle cx="508.0" cy="97.0" r="1.15" fill="#a0a0ff" stroke="#6464ff" stroke-width="0.75"/>
<circle cx="509.0" cy="99.0" r="1.15" fill="#a0a0ff" stroke="#6464ff" stroke-width="0.75"/>
<polygon points="525.2,92.0 525.2,92.0 527.2,92.6 535.2,93.5 555.2,96.3 575.2,100.8 575.2,101.2 555.2,102.5 535.2,104.3 525.2,105.0 525.2,105.0" fill="#ccccff" stroke="none"/>
<line x1="525.2" y1="17" x2="525.2" y2="107.5" stroke="#9a9a9a" stroke-width="1"/>
<line x1="525.2" y1="92.00" x2="525.2" y2="105.00" stroke="#1c1cf4" stroke-width="1.1"/>
<polyline points="525.2,92.0 527.2,92.6 535.2,93.5 555.2,96.3 575.2,100.8 575.2,101.2 555.2,102.5 535.2,104.3 525.2,105.0" fill="none" stroke="#fff" stroke-width="2.8" stroke-linejoin="round"/>
<line x1="525.2" y1="92.00" x2="525.2" y2="105.00" stroke="#1c1cf4" stroke-width="1.1"/>
<polyline points="525.2,92.0 527.2,92.6 535.2,93.5 555.2,96.3 575.2,100.8 575.2,101.2 555.2,102.5 535.2,104.3 525.2,105.0" fill="none" stroke="#1c1cf4" stroke-width="1.35" stroke-linejoin="round"/>
<polygon points="404.2,126.7 404.2,156.4 404.3,156.5 404.4,156.6 404.6,156.7 404.8,156.8 404.9,156.9 405.1,157.0 405.3,157.0 405.5,157.0 405.7,156.9 405.8,156.8 406.0,156.7 406.2,156.5 406.4,156.2 406.6,155.9 406.8,155.5 407.0,155.0 407.2,154.4 407.5,153.6 407.7,152.8 408.0,151.9 408.2,150.9 408.5,149.9 408.7,149.0 409.0,148.0 409.2,147.0 409.5,146.0 409.7,145.0 409.9,143.9 410.2,142.9 410.4,141.9 410.7,140.9 411.0,140.0 411.3,139.1 411.7,138.2 412.0,137.4 412.4,136.5 412.8,135.8 413.1,135.1 413.5,134.4 413.9,133.9 414.3,133.5 414.6,133.2 415.0,132.9 415.4,132.8 415.8,132.6 416.2,132.5 416.6,132.4 417.0,132.3 417.5,132.2 417.9,132.1 418.4,132.0 418.9,131.9 419.4,131.8 419.9,131.8 420.4,131.8 420.9,131.8 421.4,131.8 421.8,131.9 422.3,132.0 422.7,132.2 423.1,132.3 423.6,132.4 424.0,132.6 424.5,132.7 425.0,132.8 425.5,133.0 426.0,133.1 426.5,133.3 427.0,133.4 427.5,133.5 428.0,133.6 428.5,133.6 429.0,133.5 429.4,133.4 429.8,133.3 430.2,133.1 430.7,132.9 431.1,132.7 431.5,132.4 432.0,132.2 432.5,131.9 433.0,131.6 433.5,131.3 434.1,130.9 434.6,130.6 435.2,130.3 435.7,130.0 436.2,129.7 436.7,129.5 437.2,129.3 437.6,129.1 438.1,129.0 438.5,128.9 439.0,128.7 439.5,128.6 440.0,128.5 440.5,128.4 440.9,128.2 441.4,128.1 441.8,128.0 442.3,127.9 442.9,127.8 443.6,127.7 444.5,127.6 445.5,127.5 446.8,127.5 448.2,127.5 449.6,127.5 451.1,127.5 452.5,127.5 453.8,127.5 455.0,127.5 456.0,127.5 457.0,127.6 457.9,127.6 458.8,127.7 459.6,127.7 460.4,127.8 461.2,127.9 462.0,128.0 462.8,128.2 463.6,128.4 464.4,128.6 465.2,128.8 466.0,129.0 466.8,129.2 467.5,129.4 468.2,129.5 468.9,129.5 469.5,129.5 470.1,129.5 470.7,129.4 471.2,129.3 471.8,129.2 472.4,129.1 473.0,129.0 473.6,128.9 474.2,128.8 474.8,128.6 475.4,128.4 476.0,128.3 476.6,128.1 477.3,128.0 478.0,127.9 478.8,127.8 479.6,127.7 480.5,127.7 481.4,127.6 482.4,127.6 483.3,127.6 484.2,127.5 485.0,127.5 485.8,127.5 486.6,127.5 487.4,127.4 488.1,127.4 488.9,127.4 489.6,127.4 490.3,127.5 491.0,127.5 491.7,127.6 492.3,127.6 492.9,127.7 493.6,127.9 494.2,128.0 494.8,128.0 495.4,128.1 496.0,128.1 496.6,128.1 497.2,128.0 497.7,127.9 498.3,127.7 498.9,127.6 499.5,127.5 500.2,127.4 501.0,127.3 501.9,127.3 503.0,127.2 504.1,127.2 505.3,127.2 506.5,127.2 507.5,127.2 508.4,127.2 509.0,127.2 509.0,126.7" fill="#ccccff" stroke="none"/>
<polyline points="404.2,156.4 404.3,156.5 404.4,156.6 404.6,156.7 404.8,156.8 404.9,156.9 405.1,157.0 405.3,157.0 405.5,157.0 405.7,156.9 405.8,156.8 406.0,156.7 406.2,156.5 406.4,156.2 406.6,155.9 406.8,155.5 407.0,155.0 407.2,154.4 407.5,153.6 407.7,152.8 408.0,151.9 408.2,150.9 408.5,149.9 408.7,149.0 409.0,148.0 409.2,147.0 409.5,146.0 409.7,145.0 409.9,143.9 410.2,142.9 410.4,141.9 410.7,140.9 411.0,140.0 411.3,139.1 411.7,138.2 412.0,137.4 412.4,136.5 412.8,135.8 413.1,135.1 413.5,134.4 413.9,133.9 414.3,133.5 414.6,133.2 415.0,132.9 415.4,132.8 415.8,132.6 416.2,132.5 416.6,132.4 417.0,132.3 417.5,132.2 417.9,132.1 418.4,132.0 418.9,131.9 419.4,131.8 419.9,131.8 420.4,131.8 420.9,131.8 421.4,131.8 421.8,131.9 422.3,132.0 422.7,132.2 423.1,132.3 423.6,132.4 424.0,132.6 424.5,132.7 425.0,132.8 425.5,133.0 426.0,133.1 426.5,133.3 427.0,133.4 427.5,133.5 428.0,133.6 428.5,133.6 429.0,133.5 429.4,133.4 429.8,133.3 430.2,133.1 430.7,132.9 431.1,132.7 431.5,132.4 432.0,132.2 432.5,131.9 433.0,131.6 433.5,131.3 434.1,130.9 434.6,130.6 435.2,130.3 435.7,130.0 436.2,129.7 436.7,129.5 437.2,129.3 437.6,129.1 438.1,129.0 438.5,128.9 439.0,128.7 439.5,128.6 440.0,128.5 440.5,128.4 440.9,128.2 441.4,128.1 441.8,128.0 442.3,127.9 442.9,127.8 443.6,127.7 444.5,127.6 445.5,127.5 446.8,127.5 448.2,127.5 449.6,127.5 451.1,127.5 452.5,127.5 453.8,127.5 455.0,127.5 456.0,127.5 457.0,127.6 457.9,127.6 458.8,127.7 459.6,127.7 460.4,127.8 461.2,127.9 462.0,128.0 462.8,128.2 463.6,128.4 464.4,128.6 465.2,128.8 466.0,129.0 466.8,129.2 467.5,129.4 468.2,129.5 468.9,129.5 469.5,129.5 470.1,129.5 470.7,129.4 471.2,129.3 471.8,129.2 472.4,129.1 473.0,129.0 473.6,128.9 474.2,128.8 474.8,128.6 475.4,128.4 476.0,128.3 476.6,128.1 477.3,128.0 478.0,127.9 478.8,127.8 479.6,127.7 480.5,127.7 481.4,127.6 482.4,127.6 483.3,127.6 484.2,127.5 485.0,127.5 485.8,127.5 486.6,127.5 487.4,127.4 488.1,127.4 488.9,127.4 489.6,127.4 490.3,127.5 491.0,127.5 491.7,127.6 492.3,127.6 492.9,127.7 493.6,127.9 494.2,128.0 494.8,128.0 495.4,128.1 496.0,128.1 496.6,128.1 497.2,128.0 497.7,127.9 498.3,127.7 498.9,127.6 499.5,127.5 500.2,127.4 501.0,127.3 501.9,127.3 503.0,127.2 504.1,127.2 505.3,127.2 506.5,127.2 507.5,127.2 508.4,127.2 509.0,127.2" fill="none" stroke="#fff" stroke-width="2.8" stroke-linejoin="round"/>
<line x1="403.8" y1="126.7" x2="509.1" y2="126.7" stroke="#1c1cf4" stroke-width="1.5" opacity="0.8"/>
<polyline points="404.2,156.4 404.3,156.5 404.4,156.6 404.6,156.7 404.8,156.8 404.9,156.9 405.1,157.0 405.3,157.0 405.5,157.0 405.7,156.9 405.8,156.8 406.0,156.7 406.2,156.5 406.4,156.2 406.6,155.9 406.8,155.5 407.0,155.0 407.2,154.4 407.5,153.6 407.7,152.8 408.0,151.9 408.2,150.9 408.5,149.9 408.7,149.0 409.0,148.0 409.2,147.0 409.5,146.0 409.7,145.0 409.9,143.9 410.2,142.9 410.4,141.9 410.7,140.9 411.0,140.0 411.3,139.1 411.7,138.2 412.0,137.4 412.4,136.5 412.8,135.8 413.1,135.1 413.5,134.4 413.9,133.9 414.3,133.5 414.6,133.2 415.0,132.9 415.4,132.8 415.8,132.6 416.2,132.5 416.6,132.4 417.0,132.3 417.5,132.2 417.9,132.1 418.4,132.0 418.9,131.9 419.4,131.8 419.9,131.8 420.4,131.8 420.9,131.8 421.4,131.8 421.8,131.9 422.3,132.0 422.7,132.2 423.1,132.3 423.6,132.4 424.0,132.6 424.5,132.7 425.0,132.8 425.5,133.0 426.0,133.1 426.5,133.3 427.0,133.4 427.5,133.5 428.0,133.6 428.5,133.6 429.0,133.5 429.4,133.4 429.8,133.3 430.2,133.1 430.7,132.9 431.1,132.7 431.5,132.4 432.0,132.2 432.5,131.9 433.0,131.6 433.5,131.3 434.1,130.9 434.6,130.6 435.2,130.3 435.7,130.0 436.2,129.7 436.7,129.5 437.2,129.3 437.6,129.1 438.1,129.0 438.5,128.9 439.0,128.7 439.5,128.6 440.0,128.5 440.5,128.4 440.9,128.2 441.4,128.1 441.8,128.0 442.3,127.9 442.9,127.8 443.6,127.7 444.5,127.6 445.5,127.5 446.8,127.5 448.2,127.5 449.6,127.5 451.1,127.5 452.5,127.5 453.8,127.5 455.0,127.5 456.0,127.5 457.0,127.6 457.9,127.6 458.8,127.7 459.6,127.7 460.4,127.8 461.2,127.9 462.0,128.0 462.8,128.2 463.6,128.4 464.4,128.6 465.2,128.8 466.0,129.0 466.8,129.2 467.5,129.4 468.2,129.5 468.9,129.5 469.5,129.5 470.1,129.5 470.7,129.4 471.2,129.3 471.8,129.2 472.4,129.1 473.0,129.0 473.6,128.9 474.2,128.8 474.8,128.6 475.4,128.4 476.0,128.3 476.6,128.1 477.3,128.0 478.0,127.9 478.8,127.8 479.6,127.7 480.5,127.7 481.4,127.6 482.4,127.6 483.3,127.6 484.2,127.5 485.0,127.5 485.8,127.5 486.6,127.5 487.4,127.4 488.1,127.4 488.9,127.4 489.6,127.4 490.3,127.5 491.0,127.5 491.7,127.6 492.3,127.6 492.9,127.7 493.6,127.9 494.2,128.0 494.8,128.0 495.4,128.1 496.0,128.1 496.6,128.1 497.2,128.0 497.7,127.9 498.3,127.7 498.9,127.6 499.5,127.5 500.2,127.4 501.0,127.3 501.9,127.3 503.0,127.2 504.1,127.2 505.3,127.2 506.5,127.2 507.5,127.2 508.4,127.2 509.0,127.2" fill="none" stroke="#1c1cf4" stroke-width="1.35" stroke-linejoin="round"/>
<text x="-0.80" y="175.90" font-size="15" font-weight="bold" text-anchor="start" fill="#000" stroke="#000" stroke-width="0.35">D</text>
<text x="72.15" y="177.70" font-size="7" font-weight="bold" text-anchor="middle" fill="#000">Calcium amplitude</text>
<rect x="19.5" y="182.1" width="105.30" height="90.50" fill="none" stroke="#9a9a9a" stroke-width="1"/>
<line x1="19.5" y1="186.00" x2="21.0" y2="186.00" stroke="#9a9a9a" stroke-width="0.8"/>
<line x1="124.8" y1="186.00" x2="123.3" y2="186.00" stroke="#9a9a9a" stroke-width="0.8"/>
<text x="126.80" y="187.60" font-size="4.6" font-weight="bold" text-anchor="start" fill="#000">2.5</text>
<line x1="19.5" y1="205.80" x2="21.0" y2="205.80" stroke="#9a9a9a" stroke-width="0.8"/>
<line x1="124.8" y1="205.80" x2="123.3" y2="205.80" stroke="#9a9a9a" stroke-width="0.8"/>
<text x="126.80" y="207.40" font-size="4.6" font-weight="bold" text-anchor="start" fill="#000">2</text>
<line x1="19.5" y1="225.50" x2="21.0" y2="225.50" stroke="#9a9a9a" stroke-width="0.8"/>
<line x1="124.8" y1="225.50" x2="123.3" y2="225.50" stroke="#9a9a9a" stroke-width="0.8"/>
<text x="126.80" y="227.10" font-size="4.6" font-weight="bold" text-anchor="start" fill="#000">1.5</text>
<line x1="19.5" y1="245.00" x2="21.0" y2="245.00" stroke="#9a9a9a" stroke-width="0.8"/>
<line x1="124.8" y1="245.00" x2="123.3" y2="245.00" stroke="#9a9a9a" stroke-width="0.8"/>
<text x="126.80" y="246.60" font-size="4.6" font-weight="bold" text-anchor="start" fill="#000">1</text>
<line x1="19.5" y1="264.70" x2="21.0" y2="264.70" stroke="#9a9a9a" stroke-width="0.8"/>
<line x1="124.8" y1="264.70" x2="123.3" y2="264.70" stroke="#9a9a9a" stroke-width="0.8"/>
<text x="126.80" y="266.30" font-size="4.6" font-weight="bold" text-anchor="start" fill="#000">0.5</text>
<line x1="29.60" y1="272.6" x2="29.60" y2="271.1" stroke="#9a9a9a" stroke-width="0.8"/>
<line x1="29.60" y1="182.1" x2="29.60" y2="183.6" stroke="#9a9a9a" stroke-width="0.8"/>
<text x="29.60" y="279.70" font-size="4.6" font-weight="bold" text-anchor="middle" fill="#000">0.5</text>
<line x1="52.10" y1="272.6" x2="52.10" y2="271.1" stroke="#9a9a9a" stroke-width="0.8"/>
<line x1="52.10" y1="182.1" x2="52.10" y2="183.6" stroke="#9a9a9a" stroke-width="0.8"/>
<text x="52.10" y="279.70" font-size="4.6" font-weight="bold" text-anchor="middle" fill="#000">1</text>
<line x1="75.10" y1="272.6" x2="75.10" y2="271.1" stroke="#9a9a9a" stroke-width="0.8"/>
<line x1="75.10" y1="182.1" x2="75.10" y2="183.6" stroke="#9a9a9a" stroke-width="0.8"/>
<text x="75.10" y="279.70" font-size="4.6" font-weight="bold" text-anchor="middle" fill="#000">1.5</text>
<line x1="97.40" y1="272.6" x2="97.40" y2="271.1" stroke="#9a9a9a" stroke-width="0.8"/>
<line x1="97.40" y1="182.1" x2="97.40" y2="183.6" stroke="#9a9a9a" stroke-width="0.8"/>
<text x="97.40" y="279.70" font-size="4.6" font-weight="bold" text-anchor="middle" fill="#000">2</text>
<line x1="121.00" y1="272.6" x2="121.00" y2="271.1" stroke="#9a9a9a" stroke-width="0.8"/>
<line x1="121.00" y1="182.1" x2="121.00" y2="183.6" stroke="#9a9a9a" stroke-width="0.8"/>
<text x="121.00" y="279.70" font-size="4.6" font-weight="bold" text-anchor="middle" fill="#000">2.5</text>
<text x="72.15" y="287.30" font-size="5.5" font-weight="bold" text-anchor="middle" fill="#000">• Na/K dynamics</text>
<text x="140.20" y="227.10" font-size="5.5" font-weight="bold" text-anchor="middle" fill="#000" transform="rotate(-90 140.20 227.10)">• Na/K dynamics</text>
<circle cx="63.2" cy="259.3" r="1.15" fill="#a0a0ff" stroke="#6464ff" stroke-width="0.75"/>
<circle cx="51.1" cy="268.4" r="1.15" fill="#a0a0ff" stroke="#6464ff" stroke-width="0.75"/>
<circle cx="89.1" cy="271.0" r="1.15" fill="#a0a0ff" stroke="#6464ff" stroke-width="0.75"/>
<circle cx="69.5" cy="267.7" r="1.15" fill="#a0a0ff" stroke="#6464ff" stroke-width="0.75"/>
<circle cx="48.1" cy="265.5" r="1.15" fill="#a0a0ff" stroke="#6464ff" stroke-width="0.75"/>
<circle cx="59.0" cy="264.4" r="1.15" fill="#a0a0ff" stroke="#6464ff" stroke-width="0.75"/>
<circle cx="65.0" cy="265.7" r="1.15" fill="#a0a0ff" stroke="#6464ff" stroke-width="0.75"/>
<circle cx="69.1" cy="271.9" r="1.15" fill="#a0a0ff" stroke="#6464ff" stroke-width="0.75"/>
<circle cx="75.1" cy="268.4" r="1.15" fill="#a0a0ff" stroke="#6464ff" stroke-width="0.75"/>
<circle cx="60.4" cy="261.8" r="1.15" fill="#a0a0ff" stroke="#6464ff" stroke-width="0.75"/>
<circle cx="62.3" cy="268.8" r="1.15" fill="#a0a0ff" stroke="#6464ff" stroke-width="0.75"/>
<circle cx="48.9" cy="271.3" r="1.15" fill="#a0a0ff" stroke="#6464ff" stroke-width="0.75"/>
<circle cx="59.0" cy="268.3" r="1.15" fill="#a0a0ff" stroke="#6464ff" stroke-width="0.75"/>
<circle cx="59.1" cy="262.7" r="1.15" fill="#a0a0ff" stroke="#6464ff" stroke-width="0.75"/>
<circle cx="95.0" cy="263.1" r="1.15" fill="#a0a0ff" stroke="#6464ff" stroke-width="0.75"/>
<circle cx="77.8" cy="265.1" r="1.15" fill="#a0a0ff" stroke="#6464ff" stroke-width="0.75"/>
<circle cx="68.2" cy="264.3" r="1.15" fill="#a0a0ff" stroke="#6464ff" stroke-width="0.75"/>
<circle cx="57.8" cy="270.1" r="1.15" fill="#a0a0ff" stroke="#6464ff" stroke-width="0.75"/>
<circle cx="93.2" cy="264.1" r="1.15" fill="#a0a0ff" stroke="#6464ff" stroke-width="0.75"/>
<circle cx="64.2" cy="270.2" r="1.15" fill="#a0a0ff" stroke="#6464ff" stroke-width="0.75"/>
<circle cx="54.5" cy="269.4" r="1.15" fill="#a0a0ff" stroke="#6464ff" stroke-width="0.75"/>
<circle cx="52.2" cy="269.1" r="1.15" fill="#a0a0ff" stroke="#6464ff" stroke-width="0.75"/>
<circle cx="70.5" cy="271.1" r="1.15" fill="#a0a0ff" stroke="#6464ff" stroke-width="0.75"/>
<circle cx="69.5" cy="262.9" r="1.15" fill="#a0a0ff" stroke="#6464ff" stroke-width="0.75"/>
<circle cx="74.0" cy="263.3" r="1.15" fill="#a0a0ff" stroke="#6464ff" stroke-width="0.75"/>
<circle cx="75.3" cy="272.1" r="1.15" fill="#a0a0ff" stroke="#6464ff" stroke-width="0.75"/>
<circle cx="72.9" cy="265.1" r="1.15" fill="#a0a0ff" stroke="#6464ff" stroke-width="0.75"/>
<circle cx="81.9" cy="267.6" r="1.15" fill="#a0a0ff" stroke="#6464ff" stroke-width="0.75"/>
<circle cx="45.3" cy="265.8" r="1.15" fill="#a0a0ff" stroke="#6464ff" stroke-width="0.75"/>
<circle cx="85.3" cy="266.0" r="1.15" fill="#a0a0ff" stroke="#6464ff" stroke-width="0.75"/>
<circle cx="65.8" cy="265.8" r="1.15" fill="#a0a0ff" stroke="#6464ff" stroke-width="0.75"/>
<circle cx="38.7" cy="265.3" r="1.15" fill="#a0a0ff" stroke="#6464ff" stroke-width="0.75"/>
<circle cx="69.3" cy="267.7" r="1.15" fill="#a0a0ff" stroke="#6464ff" stroke-width="0.75"/>
<circle cx="61.4" cy="259.7" r="1.15" fill="#a0a0ff" stroke="#6464ff" stroke-width="0.75"/>
<circle cx="82.3" cy="269.4" r="1.15" fill="#a0a0ff" stroke="#6464ff" stroke-width="0.75"/>
<circle cx="79.4" cy="271.4" r="1.15" fill="#a0a0ff" stroke="#6464ff" stroke-width="0.75"/>
<circle cx="57.3" cy="264.9" r="1.15" fill="#a0a0ff" stroke="#6464ff" stroke-width="0.75"/>
<circle cx="38.7" cy="266.2" r="1.15" fill="#a0a0ff" stroke="#6464ff" stroke-width="0.75"/>
<circle cx="53.3" cy="268.9" r="1.15" fill="#a0a0ff" stroke="#6464ff" stroke-width="0.75"/>
<circle cx="86.0" cy="266.0" r="1.15" fill="#a0a0ff" stroke="#6464ff" stroke-width="0.75"/>
<circle cx="45.4" cy="267.2" r="1.15" fill="#a0a0ff" stroke="#6464ff" stroke-width="0.75"/>
<circle cx="59.7" cy="261.8" r="1.15" fill="#a0a0ff" stroke="#6464ff" stroke-width="0.75"/>
<circle cx="77.3" cy="265.2" r="1.15" fill="#a0a0ff" stroke="#6464ff" stroke-width="0.75"/>
<circle cx="74.2" cy="262.5" r="1.15" fill="#a0a0ff" stroke="#6464ff" stroke-width="0.75"/>
<circle cx="80.4" cy="262.1" r="1.15" fill="#a0a0ff" stroke="#6464ff" stroke-width="0.75"/>
<circle cx="79.8" cy="260.8" r="1.15" fill="#a0a0ff" stroke="#6464ff" stroke-width="0.75"/>
<circle cx="84.7" cy="265.7" r="1.15" fill="#a0a0ff" stroke="#6464ff" stroke-width="0.75"/>
<circle cx="40.7" cy="266.2" r="1.15" fill="#a0a0ff" stroke="#6464ff" stroke-width="0.75"/>
<circle cx="69.1" cy="263.6" r="1.15" fill="#a0a0ff" stroke="#6464ff" stroke-width="0.75"/>
<circle cx="56.6" cy="267.9" r="1.15" fill="#a0a0ff" stroke="#6464ff" stroke-width="0.75"/>
<circle cx="57.6" cy="268.5" r="1.15" fill="#a0a0ff" stroke="#6464ff" stroke-width="0.75"/>
<circle cx="68.5" cy="270.4" r="1.15" fill="#a0a0ff" stroke="#6464ff" stroke-width="0.75"/>
<circle cx="76.0" cy="268.1" r="1.15" fill="#a0a0ff" stroke="#6464ff" stroke-width="0.75"/>
<circle cx="80.3" cy="270.2" r="1.15" fill="#a0a0ff" stroke="#6464ff" stroke-width="0.75"/>
<circle cx="65.5" cy="264.9" r="1.15" fill="#a0a0ff" stroke="#6464ff" stroke-width="0.75"/>
<circle cx="79.4" cy="268.4" r="1.15" fill="#a0a0ff" stroke="#6464ff" stroke-width="0.75"/>
<circle cx="71.0" cy="267.4" r="1.15" fill="#a0a0ff" stroke="#6464ff" stroke-width="0.75"/>
<circle cx="68.2" cy="269.2" r="1.15" fill="#a0a0ff" stroke="#6464ff" stroke-width="0.75"/>
<circle cx="66.2" cy="272.4" r="1.15" fill="#a0a0ff" stroke="#6464ff" stroke-width="0.75"/>
<circle cx="55.2" cy="265.6" r="1.15" fill="#a0a0ff" stroke="#6464ff" stroke-width="0.75"/>
<circle cx="68.8" cy="269.5" r="1.15" fill="#a0a0ff" stroke="#6464ff" stroke-width="0.75"/>
<circle cx="75.8" cy="272.1" r="1.15" fill="#a0a0ff" stroke="#6464ff" stroke-width="0.75"/>
<circle cx="56.8" cy="271.0" r="1.15" fill="#a0a0ff" stroke="#6464ff" stroke-width="0.75"/>
<circle cx="71.0" cy="263.5" r="1.15" fill="#a0a0ff" stroke="#6464ff" stroke-width="0.75"/>
<circle cx="75.8" cy="265.4" r="1.15" fill="#a0a0ff" stroke="#6464ff" stroke-width="0.75"/>
<circle cx="53.5" cy="267.3" r="1.15" fill="#a0a0ff" stroke="#6464ff" stroke-width="0.75"/>
<circle cx="68.7" cy="263.8" r="1.15" fill="#a0a0ff" stroke="#6464ff" stroke-width="0.75"/>
<circle cx="46.2" cy="266.3" r="1.15" fill="#a0a0ff" stroke="#6464ff" stroke-width="0.75"/>
<circle cx="57.9" cy="264.9" r="1.15" fill="#a0a0ff" stroke="#6464ff" stroke-width="0.75"/>
<circle cx="80.9" cy="267.3" r="1.15" fill="#a0a0ff" stroke="#6464ff" stroke-width="0.75"/>
<circle cx="45.5" cy="271.4" r="1.15" fill="#a0a0ff" stroke="#6464ff" stroke-width="0.75"/>
<circle cx="59.3" cy="262.5" r="1.15" fill="#a0a0ff" stroke="#6464ff" stroke-width="0.75"/>
<circle cx="68.8" cy="268.7" r="1.15" fill="#a0a0ff" stroke="#6464ff" stroke-width="0.75"/>
<circle cx="58.9" cy="269.4" r="1.15" fill="#a0a0ff" stroke="#6464ff" stroke-width="0.75"/>
<circle cx="76.3" cy="264.0" r="1.15" fill="#a0a0ff" stroke="#6464ff" stroke-width="0.75"/>
<circle cx="62.1" cy="271.2" r="1.15" fill="#a0a0ff" stroke="#6464ff" stroke-width="0.75"/>
<circle cx="79.0" cy="271.7" r="1.15" fill="#a0a0ff" stroke="#6464ff" stroke-width="0.75"/>
<circle cx="91.8" cy="267.1" r="1.15" fill="#a0a0ff" stroke="#6464ff" stroke-width="0.75"/>
<circle cx="79.8" cy="261.8" r="1.15" fill="#a0a0ff" stroke="#6464ff" stroke-width="0.75"/>
<circle cx="74.3" cy="268.3" r="1.15" fill="#a0a0ff" stroke="#6464ff" stroke-width="0.75"/>
<circle cx="62.6" cy="265.5" r="1.15" fill="#a0a0ff" stroke="#6464ff" stroke-width="0.75"/>
<circle cx="47.3" cy="267.5" r="1.15" fill="#a0a0ff" stroke="#6464ff" stroke-width="0.75"/>
<circle cx="83.2" cy="265.8" r="1.15" fill="#a0a0ff" stroke="#6464ff" stroke-width="0.75"/>
<circle cx="72.0" cy="264.7" r="1.15" fill="#a0a0ff" stroke="#6464ff" stroke-width="0.75"/>
<circle cx="67.8" cy="263.6" r="1.15" fill="#a0a0ff" stroke="#6464ff" stroke-width="0.75"/>
<circle cx="69.7" cy="266.3" r="1.15" fill="#a0a0ff" stroke="#6464ff" stroke-width="0.75"/>
<circle cx="68.7" cy="264.9" r="1.15" fill="#a0a0ff" stroke="#6464ff" stroke-width="0.75"/>
<circle cx="46.4" cy="265.9" r="1.15" fill="#a0a0ff" stroke="#6464ff" stroke-width="0.75"/>
<circle cx="79.5" cy="272.4" r="1.15" fill="#a0a0ff" stroke="#6464ff" stroke-width="0.75"/>
<circle cx="59.1" cy="269.7" r="1.15" fill="#a0a0ff" stroke="#6464ff" stroke-width="0.75"/>
<circle cx="75.4" cy="268.3" r="1.15" fill="#a0a0ff" stroke="#6464ff" stroke-width="0.75"/>
<circle cx="40.7" cy="268.1" r="1.15" fill="#a0a0ff" stroke="#6464ff" stroke-width="0.75"/>
<circle cx="49.5" cy="271.0" r="1.15" fill="#a0a0ff" stroke="#6464ff" stroke-width="0.75"/>
<circle cx="75.8" cy="269.1" r="1.15" fill="#a0a0ff" stroke="#6464ff" stroke-width="0.75"/>
<circle cx="74.5" cy="262.7" r="1.15" fill="#a0a0ff" stroke="#6464ff" stroke-width="0.75"/>
<circle cx="78.6" cy="267.3" r="1.15" fill="#a0a0ff" stroke="#6464ff" stroke-width="0.75"/>
<circle cx="61.3" cy="264.6" r="1.15" fill="#a0a0ff" stroke="#6464ff" stroke-width="0.75"/>
<circle cx="48.7" cy="265.5" r="1.15" fill="#a0a0ff" stroke="#6464ff" stroke-width="0.75"/>
<circle cx="67.1" cy="264.8" r="1.15" fill="#a0a0ff" stroke="#6464ff" stroke-width="0.75"/>
<circle cx="54.7" cy="265.1" r="1.15" fill="#a0a0ff" stroke="#6464ff" stroke-width="0.75"/>
<circle cx="50.7" cy="270.0" r="1.15" fill="#a0a0ff" stroke="#6464ff" stroke-width="0.75"/>
<circle cx="59.9" cy="269.9" r="1.15" fill="#a0a0ff" stroke="#6464ff" stroke-width="0.75"/>
<circle cx="46.7" cy="270.2" r="1.15" fill="#a0a0ff" stroke="#6464ff" stroke-width="0.75"/>
<circle cx="63.6" cy="269.3" r="1.15" fill="#a0a0ff" stroke="#6464ff" stroke-width="0.75"/>
<circle cx="62.4" cy="264.0" r="1.15" fill="#a0a0ff" stroke="#6464ff" stroke-width="0.75"/>
<circle cx="82.2" cy="265.5" r="1.15" fill="#a0a0ff" stroke="#6464ff" stroke-width="0.75"/>
<circle cx="61.8" cy="264.0" r="1.15" fill="#a0a0ff" stroke="#6464ff" stroke-width="0.75"/>
<circle cx="67.1" cy="265.7" r="1.15" fill="#a0a0ff" stroke="#6464ff" stroke-width="0.75"/>
<circle cx="68.2" cy="268.2" r="1.15" fill="#a0a0ff" stroke="#6464ff" stroke-width="0.75"/>
<circle cx="53.7" cy="262.2" r="1.15" fill="#a0a0ff" stroke="#6464ff" stroke-width="0.75"/>
<circle cx="70.5" cy="270.1" r="1.15" fill="#a0a0ff" stroke="#6464ff" stroke-width="0.75"/>
<circle cx="74.4" cy="263.1" r="1.15" fill="#a0a0ff" stroke="#6464ff" stroke-width="0.75"/>
<circle cx="73.1" cy="268.3" r="1.15" fill="#a0a0ff" stroke="#6464ff" stroke-width="0.75"/>
<circle cx="68.3" cy="268.5" r="1.15" fill="#a0a0ff" stroke="#6464ff" stroke-width="0.75"/>
<circle cx="59.1" cy="267.7" r="1.15" fill="#a0a0ff" stroke="#6464ff" stroke-width="0.75"/>
<circle cx="77.9" cy="265.3" r="1.15" fill="#a0a0ff" stroke="#6464ff" stroke-width="0.75"/>
<circle cx="42.4" cy="266.6" r="1.15" fill="#a0a0ff" stroke="#6464ff" stroke-width="0.75"/>
<circle cx="66.9" cy="260.7" r="1.15" fill="#a0a0ff" stroke="#6464ff" stroke-width="0.75"/>
<circle cx="53.9" cy="269.0" r="1.15" fill="#a0a0ff" stroke="#6464ff" stroke-width="0.75"/>
<circle cx="61.7" cy="267.3" r="1.15" fill="#a0a0ff" stroke="#6464ff" stroke-width="0.75"/>
<circle cx="45.1" cy="270.1" r="1.15" fill="#a0a0ff" stroke="#6464ff" stroke-width="0.75"/>
<circle cx="90.3" cy="266.3" r="1.15" fill="#a0a0ff" stroke="#6464ff" stroke-width="0.75"/>
<circle cx="53.0" cy="263.1" r="1.15" fill="#a0a0ff" stroke="#6464ff" stroke-width="0.75"/>
<circle cx="77.4" cy="267.4" r="1.15" fill="#a0a0ff" stroke="#6464ff" stroke-width="0.75"/>
<circle cx="52.1" cy="271.1" r="1.15" fill="#a0a0ff" stroke="#6464ff" stroke-width="0.75"/>
<circle cx="26.3" cy="270.5" r="1.15" fill="#a0a0ff" stroke="#6464ff" stroke-width="0.75"/>
<circle cx="33.4" cy="267.0" r="1.15" fill="#a0a0ff" stroke="#6464ff" stroke-width="0.75"/>
<circle cx="37.0" cy="264.8" r="1.15" fill="#a0a0ff" stroke="#6464ff" stroke-width="0.75"/>
<circle cx="39.6" cy="258.0" r="1.15" fill="#a0a0ff" stroke="#6464ff" stroke-width="0.75"/>
<circle cx="44.8" cy="262.2" r="1.15" fill="#a0a0ff" stroke="#6464ff" stroke-width="0.75"/>
<circle cx="48.2" cy="263.8" r="1.15" fill="#a0a0ff" stroke="#6464ff" stroke-width="0.75"/>
<circle cx="55.0" cy="256.7" r="1.15" fill="#a0a0ff" stroke="#6464ff" stroke-width="0.75"/>
<circle cx="56.7" cy="257.7" r="1.15" fill="#a0a0ff" stroke="#6464ff" stroke-width="0.75"/>
<circle cx="58.9" cy="257.3" r="1.15" fill="#a0a0ff" stroke="#6464ff" stroke-width="0.75"/>
<circle cx="55.7" cy="260.8" r="1.15" fill="#a0a0ff" stroke="#6464ff" stroke-width="0.75"/>
<circle cx="58.1" cy="235.0" r="1.15" fill="#a0a0ff" stroke="#6464ff" stroke-width="0.75"/>
<circle cx="62.3" cy="236.3" r="1.15" fill="#a0a0ff" stroke="#6464ff" stroke-width="0.75"/>
<circle cx="72.3" cy="240.0" r="1.15" fill="#a0a0ff" stroke="#6464ff" stroke-width="0.75"/>
<circle cx="74.0" cy="235.0" r="1.15" fill="#a0a0ff" stroke="#6464ff" stroke-width="0.75"/>
<circle cx="71.0" cy="224.0" r="1.15" fill="#a0a0ff" stroke="#6464ff" stroke-width="0.75"/>
<circle cx="82.5" cy="223.0" r="1.15" fill="#a0a0ff" stroke="#6464ff" stroke-width="0.75"/>
<circle cx="85.0" cy="225.5" r="1.15" fill="#a0a0ff" stroke="#6464ff" stroke-width="0.75"/>
<circle cx="93.7" cy="223.4" r="1.15" fill="#a0a0ff" stroke="#6464ff" stroke-width="0.75"/>
<circle cx="81.5" cy="230.0" r="1.15" fill="#a0a0ff" stroke="#6464ff" stroke-width="0.75"/>
<circle cx="84.0" cy="231.0" r="1.15" fill="#a0a0ff" stroke="#6464ff" stroke-width="0.75"/>
<circle cx="84.0" cy="232.0" r="1.15" fill="#a0a0ff" stroke="#6464ff" stroke-width="0.75"/>
<circle cx="74.3" cy="234.0" r="1.15" fill="#a0a0ff" stroke="#6464ff" stroke-width="0.75"/>
<circle cx="81.0" cy="238.0" r="1.15" fill="#a0a0ff" stroke="#6464ff" stroke-width="0.75"/>
<circle cx="82.8" cy="239.0" r="1.15" fill="#a0a0ff" stroke="#6464ff" stroke-width="0.75"/>
<circle cx="79.0" cy="241.4" r="1.15" fill="#a0a0ff" stroke="#6464ff" stroke-width="0.75"/>
<circle cx="86.3" cy="239.6" r="1.15" fill="#a0a0ff" stroke="#6464ff" stroke-width="0.75"/>
<circle cx="90.3" cy="245.6" r="1.15" fill="#a0a0ff" stroke="#6464ff" stroke-width="0.75"/>
<circle cx="74.5" cy="251.0" r="1.15" fill="#a0a0ff" stroke="#6464ff" stroke-width="0.75"/>
<circle cx="76.0" cy="251.5" r="1.15" fill="#a0a0ff" stroke="#6464ff" stroke-width="0.75"/>
<circle cx="67.5" cy="255.5" r="1.15" fill="#a0a0ff" stroke="#6464ff" stroke-width="0.75"/>
<circle cx="71.5" cy="254.3" r="1.15" fill="#a0a0ff" stroke="#6464ff" stroke-width="0.75"/>
<circle cx="83.0" cy="254.3" r="1.15" fill="#a0a0ff" stroke="#6464ff" stroke-width="0.75"/>
<circle cx="74.5" cy="257.7" r="1.15" fill="#a0a0ff" stroke="#6464ff" stroke-width="0.75"/>
<circle cx="86.0" cy="260.4" r="1.15" fill="#a0a0ff" stroke="#6464ff" stroke-width="0.75"/>
<circle cx="96.6" cy="261.0" r="1.15" fill="#a0a0ff" stroke="#6464ff" stroke-width="0.75"/>
<circle cx="101.7" cy="262.8" r="1.15" fill="#a0a0ff" stroke="#6464ff" stroke-width="0.75"/>
<circle cx="95.7" cy="265.4" r="1.15" fill="#a0a0ff" stroke="#6464ff" stroke-width="0.75"/>
<circle cx="92.0" cy="267.8" r="1.15" fill="#a0a0ff" stroke="#6464ff" stroke-width="0.75"/>
<circle cx="93.0" cy="271.5" r="1.15" fill="#a0a0ff" stroke="#6464ff" stroke-width="0.75"/>
<circle cx="88.5" cy="271.5" r="1.15" fill="#a0a0ff" stroke="#6464ff" stroke-width="0.75"/>
<circle cx="84.2" cy="191.0" r="1.15" fill="#a0a0ff" stroke="#6464ff" stroke-width="0.75"/>
<circle cx="85.3" cy="195.5" r="1.15" fill="#a0a0ff" stroke="#6464ff" stroke-width="0.75"/>
<circle cx="99.7" cy="190.4" r="1.15" fill="#a0a0ff" stroke="#6464ff" stroke-width="0.75"/>
<circle cx="117.7" cy="182.2" r="1.15" fill="#a0a0ff" stroke="#6464ff" stroke-width="0.75"/>
<circle cx="71.4" cy="207.0" r="1.15" fill="#a0a0ff" stroke="#6464ff" stroke-width="0.75"/>
<circle cx="89.3" cy="207.3" r="1.15" fill="#a0a0ff" stroke="#6464ff" stroke-width="0.75"/>
<circle cx="88.8" cy="208.7" r="1.15" fill="#a0a0ff" stroke="#6464ff" stroke-width="0.75"/>
<circle cx="75.4" cy="219.0" r="1.15" fill="#a0a0ff" stroke="#6464ff" stroke-width="0.75"/>
<circle cx="78.8" cy="217.5" r="1.15" fill="#a0a0ff" stroke="#6464ff" stroke-width="0.75"/>
<circle cx="71.1" cy="224.2" r="1.15" fill="#a0a0ff" stroke="#6464ff" stroke-width="0.75"/>
<circle cx="82.5" cy="223.0" r="1.15" fill="#a0a0ff" stroke="#6464ff" stroke-width="0.75"/>
<circle cx="85.3" cy="225.8" r="1.15" fill="#a0a0ff" stroke="#6464ff" stroke-width="0.75"/>
<circle cx="93.6" cy="223.4" r="1.15" fill="#a0a0ff" stroke="#6464ff" stroke-width="0.75"/>
<circle cx="81.5" cy="230.3" r="1.15" fill="#a0a0ff" stroke="#6464ff" stroke-width="0.75"/>
<circle cx="84.5" cy="230.2" r="1.15" fill="#a0a0ff" stroke="#6464ff" stroke-width="0.75"/>
<circle cx="83.3" cy="231.8" r="1.15" fill="#a0a0ff" stroke="#6464ff" stroke-width="0.75"/>
<circle cx="58.3" cy="234.6" r="1.15" fill="#a0a0ff" stroke="#6464ff" stroke-width="0.75"/>
<circle cx="74.4" cy="233.8" r="1.15" fill="#a0a0ff" stroke="#6464ff" stroke-width="0.75"/>
<polygon points="141.8,181.8 142.2,181.8 142.4,185.0 143.0,189.0 142.4,192.0 142.3,195.0 142.6,200.0 142.7,203.0 144.2,206.8 143.0,209.0 142.6,211.0 142.6,214.0 143.0,216.6 143.0,220.0 144.2,223.3 143.3,226.0 143.0,228.8 144.8,232.4 145.2,235.5 145.2,238.5 143.6,240.5 142.4,242.2 142.1,245.0 142.0,248.3 142.7,250.5 143.8,252.0 145.4,254.5 147.6,256.8 149.0,258.5 151.3,260.0 158.8,262.0 174.8,265.0 189.8,267.6 183.8,268.8 171.8,270.5 155.3,272.8 141.8,272.8" fill="#ccccff" stroke="none"/>
<line x1="141.8" y1="182.1" x2="141.8" y2="272.6" stroke="#9a9a9a" stroke-width="1"/>
<line x1="141.8" y1="181.80" x2="141.8" y2="272.80" stroke="#1c1cf4" stroke-width="1.1"/>
<polyline points="142.2,181.8 142.4,185.0 143.0,189.0 142.4,192.0 142.3,195.0 142.6,200.0 142.7,203.0 144.2,206.8 143.0,209.0 142.6,211.0 142.6,214.0 143.0,216.6 143.0,220.0 144.2,223.3 143.3,226.0 143.0,228.8 144.8,232.4 145.2,235.5 145.2,238.5 143.6,240.5 142.4,242.2 142.1,245.0 142.0,248.3 142.7,250.5 143.8,252.0 145.4,254.5 147.6,256.8 149.0,258.5 151.3,260.0 158.8,262.0 174.8,265.0 189.8,267.6 183.8,268.8 171.8,270.5 155.3,272.8" fill="none" stroke="#fff" stroke-width="2.8" stroke-linejoin="round"/>
<line x1="141.8" y1="181.80" x2="141.8" y2="272.80" stroke="#1c1cf4" stroke-width="1.1"/>
<polyline points="142.2,181.8 142.4,185.0 143.0,189.0 142.4,192.0 142.3,195.0 142.6,200.0 142.7,203.0 144.2,206.8 143.0,209.0 142.6,211.0 142.6,214.0 143.0,216.6 143.0,220.0 144.2,223.3 143.3,226.0 143.0,228.8 144.8,232.4 145.2,235.5 145.2,238.5 143.6,240.5 142.4,242.2 142.1,245.0 142.0,248.3 142.7,250.5 143.8,252.0 145.4,254.5 147.6,256.8 149.0,258.5 151.3,260.0 158.8,262.0 174.8,265.0 189.8,267.6 183.8,268.8 171.8,270.5 155.3,272.8" fill="none" stroke="#1c1cf4" stroke-width="1.35" stroke-linejoin="round"/>
<polygon points="19.5,293.0 19.5,293.0 20.1,293.0 20.9,293.0 21.8,293.0 22.9,293.1 24.0,293.1 25.1,293.2 26.1,293.3 27.0,293.5 27.8,293.7 28.6,294.0 29.4,294.3 30.1,294.6 30.8,295.0 31.5,295.4 32.3,295.9 33.0,296.5 33.8,297.1 34.5,297.8 35.2,298.6 36.0,299.4 36.8,300.2 37.5,301.1 38.2,302.0 39.0,303.0 39.8,304.0 40.5,305.1 41.2,306.3 42.0,307.5 42.8,308.7 43.5,309.9 44.2,311.0 45.0,312.0 45.8,312.9 46.5,313.9 47.2,314.7 48.0,315.6 48.8,316.4 49.5,317.1 50.2,317.8 51.0,318.5 51.8,319.1 52.5,319.7 53.2,320.3 54.0,320.8 54.8,321.3 55.5,321.7 56.2,322.1 57.0,322.5 57.8,322.8 58.5,323.1 59.2,323.3 60.0,323.5 60.8,323.7 61.5,323.8 62.2,323.9 63.0,324.0 63.8,324.0 64.5,324.1 65.2,324.0 66.0,324.0 66.8,323.9 67.5,323.8 68.2,323.7 69.0,323.5 69.8,323.3 70.5,323.1 71.2,322.9 72.0,322.7 72.8,322.4 73.5,322.0 74.2,321.5 75.0,321.0 75.8,320.3 76.5,319.6 77.2,318.7 78.0,317.8 78.8,316.9 79.5,315.9 80.2,315.0 81.0,314.0 81.8,313.0 82.5,312.0 83.2,311.0 84.0,310.0 84.8,309.0 85.5,308.0 86.2,307.0 87.0,306.0 87.8,305.0 88.5,304.1 89.2,303.1 90.0,302.2 90.8,301.3 91.5,300.4 92.2,299.7 93.0,299.0 93.8,298.4 94.5,297.9 95.2,297.5 96.0,297.2 96.8,296.9 97.5,296.6 98.2,296.3 99.0,296.0 99.8,295.7 100.5,295.4 101.2,295.1 102.0,294.9 102.8,294.6 103.5,294.4 104.2,294.2 105.0,294.0 105.7,293.8 106.3,293.7 106.9,293.6 107.5,293.5 108.2,293.5 109.0,293.4 109.9,293.4 111.0,293.3 112.4,293.2 114.2,293.2 116.2,293.1 118.3,293.1 120.3,293.1 122.1,293.0 123.7,293.0 124.8,293.0 124.8,293.0" fill="#ccccff" stroke="none"/>
<polyline points="19.5,293.0 20.1,293.0 20.9,293.0 21.8,293.0 22.9,293.1 24.0,293.1 25.1,293.2 26.1,293.3 27.0,293.5 27.8,293.7 28.6,294.0 29.4,294.3 30.1,294.6 30.8,295.0 31.5,295.4 32.3,295.9 33.0,296.5 33.8,297.1 34.5,297.8 35.2,298.6 36.0,299.4 36.8,300.2 37.5,301.1 38.2,302.0 39.0,303.0 39.8,304.0 40.5,305.1 41.2,306.3 42.0,307.5 42.8,308.7 43.5,309.9 44.2,311.0 45.0,312.0 45.8,312.9 46.5,313.9 47.2,314.7 48.0,315.6 48.8,316.4 49.5,317.1 50.2,317.8 51.0,318.5 51.8,319.1 52.5,319.7 53.2,320.3 54.0,320.8 54.8,321.3 55.5,321.7 56.2,322.1 57.0,322.5 57.8,322.8 58.5,323.1 59.2,323.3 60.0,323.5 60.8,323.7 61.5,323.8 62.2,323.9 63.0,324.0 63.8,324.0 64.5,324.1 65.2,324.0 66.0,324.0 66.8,323.9 67.5,323.8 68.2,323.7 69.0,323.5 69.8,323.3 70.5,323.1 71.2,322.9 72.0,322.7 72.8,322.4 73.5,322.0 74.2,321.5 75.0,321.0 75.8,320.3 76.5,319.6 77.2,318.7 78.0,317.8 78.8,316.9 79.5,315.9 80.2,315.0 81.0,314.0 81.8,313.0 82.5,312.0 83.2,311.0 84.0,310.0 84.8,309.0 85.5,308.0 86.2,307.0 87.0,306.0 87.8,305.0 88.5,304.1 89.2,303.1 90.0,302.2 90.8,301.3 91.5,300.4 92.2,299.7 93.0,299.0 93.8,298.4 94.5,297.9 95.2,297.5 96.0,297.2 96.8,296.9 97.5,296.6 98.2,296.3 99.0,296.0 99.8,295.7 100.5,295.4 101.2,295.1 102.0,294.9 102.8,294.6 103.5,294.4 104.2,294.2 105.0,294.0 105.7,293.8 106.3,293.7 106.9,293.6 107.5,293.5 108.2,293.5 109.0,293.4 109.9,293.4 111.0,293.3 112.4,293.2 114.2,293.2 116.2,293.1 118.3,293.1 120.3,293.1 122.1,293.0 123.7,293.0 124.8,293.0" fill="none" stroke="#fff" stroke-width="2.8" stroke-linejoin="round"/>
<line x1="19.5" y1="293.0" x2="124.8" y2="293.0" stroke="#1c1cf4" stroke-width="1.5" opacity="0.8"/>
<polyline points="19.5,293.0 20.1,293.0 20.9,293.0 21.8,293.0 22.9,293.1 24.0,293.1 25.1,293.2 26.1,293.3 27.0,293.5 27.8,293.7 28.6,294.0 29.4,294.3 30.1,294.6 30.8,295.0 31.5,295.4 32.3,295.9 33.0,296.5 33.8,297.1 34.5,297.8 35.2,298.6 36.0,299.4 36.8,300.2 37.5,301.1 38.2,302.0 39.0,303.0 39.8,304.0 40.5,305.1 41.2,306.3 42.0,307.5 42.8,308.7 43.5,309.9 44.2,311.0 45.0,312.0 45.8,312.9 46.5,313.9 47.2,314.7 48.0,315.6 48.8,316.4 49.5,317.1 50.2,317.8 51.0,318.5 51.8,319.1 52.5,319.7 53.2,320.3 54.0,320.8 54.8,321.3 55.5,321.7 56.2,322.1 57.0,322.5 57.8,322.8 58.5,323.1 59.2,323.3 60.0,323.5 60.8,323.7 61.5,323.8 62.2,323.9 63.0,324.0 63.8,324.0 64.5,324.1 65.2,324.0 66.0,324.0 66.8,323.9 67.5,323.8 68.2,323.7 69.0,323.5 69.8,323.3 70.5,323.1 71.2,322.9 72.0,322.7 72.8,322.4 73.5,322.0 74.2,321.5 75.0,321.0 75.8,320.3 76.5,319.6 77.2,318.7 78.0,317.8 78.8,316.9 79.5,315.9 80.2,315.0 81.0,314.0 81.8,313.0 82.5,312.0 83.2,311.0 84.0,310.0 84.8,309.0 85.5,308.0 86.2,307.0 87.0,306.0 87.8,305.0 88.5,304.1 89.2,303.1 90.0,302.2 90.8,301.3 91.5,300.4 92.2,299.7 93.0,299.0 93.8,298.4 94.5,297.9 95.2,297.5 96.0,297.2 96.8,296.9 97.5,296.6 98.2,296.3 99.0,296.0 99.8,295.7 100.5,295.4 101.2,295.1 102.0,294.9 102.8,294.6 103.5,294.4 104.2,294.2 105.0,294.0 105.7,293.8 106.3,293.7 106.9,293.6 107.5,293.5 108.2,293.5 109.0,293.4 109.9,293.4 111.0,293.3 112.4,293.2 114.2,293.2 116.2,293.1 118.3,293.1 120.3,293.1 122.1,293.0 123.7,293.0 124.8,293.0" fill="none" stroke="#1c1cf4" stroke-width="1.35" stroke-linejoin="round"/>
<text x="126.00" y="180.40" font-size="5.0" font-weight="normal" text-anchor="start" fill="#000">×</text>
<text x="129.70" y="180.40" font-size="4.6" font-weight="bold" text-anchor="start" fill="#000">10</text>
<text x="135.40" y="178.00" font-size="3.6" font-weight="bold" text-anchor="start" fill="#000">-4</text>
<text x="111.80" y="288.00" font-size="5.0" font-weight="normal" text-anchor="start" fill="#000">×</text>
<text x="115.50" y="288.00" font-size="4.6" font-weight="bold" text-anchor="start" fill="#000">10</text>
<text x="121.20" y="285.60" font-size="3.6" font-weight="bold" text-anchor="start" fill="#000">-4</text>
<text x="191.40" y="175.90" font-size="15" font-weight="bold" text-anchor="start" fill="#000" stroke="#000" stroke-width="0.35">E</text>
<text x="264.35" y="177.70" font-size="7" font-weight="bold" text-anchor="middle" fill="#000">Frequency Range</text>
<rect x="211.7" y="182.1" width="105.30" height="90.50" fill="none" stroke="#9a9a9a" stroke-width="1"/>
<line x1="211.7" y1="188.40" x2="213.2" y2="188.40" stroke="#9a9a9a" stroke-width="0.8"/>
<line x1="317.0" y1="188.40" x2="315.5" y2="188.40" stroke="#9a9a9a" stroke-width="0.8"/>
<text x="319.00" y="190.00" font-size="4.6" font-weight="bold" text-anchor="start" fill="#000">30</text>
<line x1="211.7" y1="202.55" x2="213.2" y2="202.55" stroke="#9a9a9a" stroke-width="0.8"/>
<line x1="317.0" y1="202.55" x2="315.5" y2="202.55" stroke="#9a9a9a" stroke-width="0.8"/>
<text x="319.00" y="204.15" font-size="4.6" font-weight="bold" text-anchor="start" fill="#000">25</text>
<line x1="211.7" y1="216.70" x2="213.2" y2="216.70" stroke="#9a9a9a" stroke-width="0.8"/>
<line x1="317.0" y1="216.70" x2="315.5" y2="216.70" stroke="#9a9a9a" stroke-width="0.8"/>
<text x="319.00" y="218.30" font-size="4.6" font-weight="bold" text-anchor="start" fill="#000">20</text>
<line x1="211.7" y1="230.85" x2="213.2" y2="230.85" stroke="#9a9a9a" stroke-width="0.8"/>
<line x1="317.0" y1="230.85" x2="315.5" y2="230.85" stroke="#9a9a9a" stroke-width="0.8"/>
<text x="319.00" y="232.45" font-size="4.6" font-weight="bold" text-anchor="start" fill="#000">15</text>
<line x1="211.7" y1="245.00" x2="213.2" y2="245.00" stroke="#9a9a9a" stroke-width="0.8"/>
<line x1="317.0" y1="245.00" x2="315.5" y2="245.00" stroke="#9a9a9a" stroke-width="0.8"/>
<text x="319.00" y="246.60" font-size="4.6" font-weight="bold" text-anchor="start" fill="#000">10</text>
<line x1="211.7" y1="259.15" x2="213.2" y2="259.15" stroke="#9a9a9a" stroke-width="0.8"/>
<line x1="317.0" y1="259.15" x2="315.5" y2="259.15" stroke="#9a9a9a" stroke-width="0.8"/>
<text x="319.00" y="260.75" font-size="4.6" font-weight="bold" text-anchor="start" fill="#000">5</text>
<line x1="211.7" y1="273.30" x2="213.2" y2="273.30" stroke="#9a9a9a" stroke-width="0.8"/>
<line x1="317.0" y1="273.30" x2="315.5" y2="273.30" stroke="#9a9a9a" stroke-width="0.8"/>
<text x="319.00" y="274.90" font-size="4.6" font-weight="bold" text-anchor="start" fill="#000">0</text>
<line x1="211.70" y1="272.6" x2="211.70" y2="271.1" stroke="#9a9a9a" stroke-width="0.8"/>
<line x1="211.70" y1="182.1" x2="211.70" y2="183.6" stroke="#9a9a9a" stroke-width="0.8"/>
<text x="211.70" y="279.70" font-size="4.6" font-weight="bold" text-anchor="middle" fill="#000">0</text>
<line x1="228.20" y1="272.6" x2="228.20" y2="271.1" stroke="#9a9a9a" stroke-width="0.8"/>
<line x1="228.20" y1="182.1" x2="228.20" y2="183.6" stroke="#9a9a9a" stroke-width="0.8"/>
<text x="228.20" y="279.70" font-size="4.6" font-weight="bold" text-anchor="middle" fill="#000">5</text>
<line x1="244.70" y1="272.6" x2="244.70" y2="271.1" stroke="#9a9a9a" stroke-width="0.8"/>
<line x1="244.70" y1="182.1" x2="244.70" y2="183.6" stroke="#9a9a9a" stroke-width="0.8"/>
<text x="244.70" y="279.70" font-size="4.6" font-weight="bold" text-anchor="middle" fill="#000">10</text>
<line x1="261.20" y1="272.6" x2="261.20" y2="271.1" stroke="#9a9a9a" stroke-width="0.8"/>
<line x1="261.20" y1="182.1" x2="261.20" y2="183.6" stroke="#9a9a9a" stroke-width="0.8"/>
<text x="261.20" y="279.70" font-size="4.6" font-weight="bold" text-anchor="middle" fill="#000">15</text>
<line x1="277.70" y1="272.6" x2="277.70" y2="271.1" stroke="#9a9a9a" stroke-width="0.8"/>
<line x1="277.70" y1="182.1" x2="277.70" y2="183.6" stroke="#9a9a9a" stroke-width="0.8"/>
<text x="277.70" y="279.70" font-size="4.6" font-weight="bold" text-anchor="middle" fill="#000">20</text>
<line x1="294.20" y1="272.6" x2="294.20" y2="271.1" stroke="#9a9a9a" stroke-width="0.8"/>
<line x1="294.20" y1="182.1" x2="294.20" y2="183.6" stroke="#9a9a9a" stroke-width="0.8"/>
<text x="294.20" y="279.70" font-size="4.6" font-weight="bold" text-anchor="middle" fill="#000">25</text>
<line x1="310.70" y1="272.6" x2="310.70" y2="271.1" stroke="#9a9a9a" stroke-width="0.8"/>
<line x1="310.70" y1="182.1" x2="310.70" y2="183.6" stroke="#9a9a9a" stroke-width="0.8"/>
<text x="310.70" y="279.70" font-size="4.6" font-weight="bold" text-anchor="middle" fill="#000">30</text>
<text x="264.35" y="287.30" font-size="5.5" font-weight="bold" text-anchor="middle" fill="#000">• Na/K dynamics</text>
<text x="331.10" y="227.10" font-size="5.5" font-weight="bold" text-anchor="middle" fill="#000" transform="rotate(-90 331.10 227.10)">• Na/K dynamics</text>
<circle cx="211.7" cy="201.7" r="1.15" fill="#b0b0ff" stroke="#6464ff" stroke-width="0.75"/>
<circle cx="211.7" cy="214.4" r="1.15" fill="#b0b0ff" stroke="#6464ff" stroke-width="0.75"/>
<circle cx="211.7" cy="217.4" r="1.15" fill="#b0b0ff" stroke="#6464ff" stroke-width="0.75"/>
<circle cx="211.7" cy="222.7" r="1.15" fill="#b0b0ff" stroke="#6464ff" stroke-width="0.75"/>
<circle cx="211.7" cy="226.6" r="1.15" fill="#b0b0ff" stroke="#6464ff" stroke-width="0.75"/>
<circle cx="211.7" cy="228.1" r="1.15" fill="#b0b0ff" stroke="#6464ff" stroke-width="0.75"/>
<circle cx="211.7" cy="231.9" r="1.15" fill="#b0b0ff" stroke="#6464ff" stroke-width="0.75"/>
<circle cx="211.7" cy="239.5" r="1.15" fill="#b0b0ff" stroke="#6464ff" stroke-width="0.75"/>
<circle cx="211.7" cy="240.8" r="1.15" fill="#b0b0ff" stroke="#6464ff" stroke-width="0.75"/>
<circle cx="211.7" cy="245.3" r="1.15" fill="#b0b0ff" stroke="#6464ff" stroke-width="0.75"/>
<circle cx="211.7" cy="251.0" r="1.15" fill="#b0b0ff" stroke="#6464ff" stroke-width="0.75"/>
<circle cx="211.7" cy="252.0" r="1.15" fill="#b0b0ff" stroke="#6464ff" stroke-width="0.75"/>
<circle cx="211.7" cy="257.1" r="1.15" fill="#b0b0ff" stroke="#6464ff" stroke-width="0.75"/>
<circle cx="211.7" cy="258.2" r="1.15" fill="#b0b0ff" stroke="#6464ff" stroke-width="0.75"/>
<circle cx="211.7" cy="259.4" r="1.15" fill="#b0b0ff" stroke="#6464ff" stroke-width="0.75"/>
<circle cx="211.7" cy="260.6" r="1.15" fill="#b0b0ff" stroke="#6464ff" stroke-width="0.75"/>
<circle cx="211.7" cy="272.4" r="1.15" fill="#b0b0ff" stroke="#6464ff" stroke-width="0.75"/>
<circle cx="234.5" cy="272.4" r="1.15" fill="#b0b0ff" stroke="#6464ff" stroke-width="0.75"/>
<circle cx="238.0" cy="272.4" r="1.15" fill="#b0b0ff" stroke="#6464ff" stroke-width="0.75"/>
<circle cx="242.5" cy="272.4" r="1.15" fill="#b0b0ff" stroke="#6464ff" stroke-width="0.75"/>
<circle cx="246.0" cy="272.4" r="1.15" fill="#b0b0ff" stroke="#6464ff" stroke-width="0.75"/>
<circle cx="248.0" cy="272.4" r="1.15" fill="#b0b0ff" stroke="#6464ff" stroke-width="0.75"/>
<circle cx="250.0" cy="272.4" r="1.15" fill="#b0b0ff" stroke="#6464ff" stroke-width="0.75"/>
<circle cx="252.0" cy="272.4" r="1.15" fill="#b0b0ff" stroke="#6464ff" stroke-width="0.75"/>
<circle cx="254.0" cy="272.4" r="1.15" fill="#b0b0ff" stroke="#6464ff" stroke-width="0.75"/>
<circle cx="256.0" cy="272.4" r="1.15" fill="#b0b0ff" stroke="#6464ff" stroke-width="0.75"/>
<circle cx="258.0" cy="272.4" r="1.15" fill="#b0b0ff" stroke="#6464ff" stroke-width="0.75"/>
<circle cx="260.0" cy="272.4" r="1.15" fill="#b0b0ff" stroke="#6464ff" stroke-width="0.75"/>
<circle cx="262.0" cy="272.4" r="1.15" fill="#b0b0ff" stroke="#6464ff" stroke-width="0.75"/>
<circle cx="264.0" cy="272.4" r="1.15" fill="#b0b0ff" stroke="#6464ff" stroke-width="0.75"/>
<circle cx="266.0" cy="272.4" r="1.15" fill="#b0b0ff" stroke="#6464ff" stroke-width="0.75"/>
<circle cx="268.0" cy="272.4" r="1.15" fill="#b0b0ff" stroke="#6464ff" stroke-width="0.75"/>
<circle cx="270.0" cy="272.4" r="1.15" fill="#b0b0ff" stroke="#6464ff" stroke-width="0.75"/>
<circle cx="272.0" cy="272.4" r="1.15" fill="#b0b0ff" stroke="#6464ff" stroke-width="0.75"/>
<circle cx="274.0" cy="272.4" r="1.15" fill="#b0b0ff" stroke="#6464ff" stroke-width="0.75"/>
<circle cx="276.0" cy="272.4" r="1.15" fill="#b0b0ff" stroke="#6464ff" stroke-width="0.75"/>
<circle cx="279.0" cy="272.4" r="1.15" fill="#b0b0ff" stroke="#6464ff" stroke-width="0.75"/>
<circle cx="283.0" cy="272.4" r="1.15" fill="#b0b0ff" stroke="#6464ff" stroke-width="0.75"/>
<circle cx="286.0" cy="272.4" r="1.15" fill="#b0b0ff" stroke="#6464ff" stroke-width="0.75"/>
<circle cx="289.0" cy="272.4" r="1.15" fill="#b0b0ff" stroke="#6464ff" stroke-width="0.75"/>
<circle cx="291.0" cy="272.4" r="1.15" fill="#b0b0ff" stroke="#6464ff" stroke-width="0.75"/>
<circle cx="294.0" cy="272.4" r="1.15" fill="#b0b0ff" stroke="#6464ff" stroke-width="0.75"/>
<circle cx="298.0" cy="272.4" r="1.15" fill="#b0b0ff" stroke="#6464ff" stroke-width="0.75"/>
<circle cx="305.0" cy="272.4" r="1.15" fill="#b0b0ff" stroke="#6464ff" stroke-width="0.75"/>
<circle cx="240.6" cy="239.2" r="1.15" fill="#b0b0ff" stroke="#6464ff" stroke-width="0.75"/>
<circle cx="247.3" cy="251.8" r="1.15" fill="#b0b0ff" stroke="#6464ff" stroke-width="0.75"/>
<circle cx="269.2" cy="227.6" r="1.15" fill="#b0b0ff" stroke="#6464ff" stroke-width="0.75"/>
<circle cx="266.4" cy="254.5" r="1.15" fill="#b0b0ff" stroke="#6464ff" stroke-width="0.75"/>
<circle cx="277.3" cy="226.9" r="1.15" fill="#b0b0ff" stroke="#6464ff" stroke-width="0.75"/>
<circle cx="280.2" cy="210.5" r="1.15" fill="#b0b0ff" stroke="#6464ff" stroke-width="0.75"/>
<circle cx="277.6" cy="240.3" r="1.15" fill="#b0b0ff" stroke="#6464ff" stroke-width="0.75"/>
<circle cx="276.0" cy="247.2" r="1.15" fill="#b0b0ff" stroke="#6464ff" stroke-width="0.75"/>
<circle cx="283.4" cy="244.1" r="1.15" fill="#b0b0ff" stroke="#6464ff" stroke-width="0.75"/>
<circle cx="286.3" cy="248.4" r="1.15" fill="#b0b0ff" stroke="#6464ff" stroke-width="0.75"/>
<circle cx="287.5" cy="256.3" r="1.15" fill="#b0b0ff" stroke="#6464ff" stroke-width="0.75"/>
<circle cx="294.0" cy="253.3" r="1.15" fill="#b0b0ff" stroke="#6464ff" stroke-width="0.75"/>
<circle cx="297.0" cy="255.6" r="1.15" fill="#b0b0ff" stroke="#6464ff" stroke-width="0.75"/>
<circle cx="299.4" cy="249.9" r="1.15" fill="#b0b0ff" stroke="#6464ff" stroke-width="0.75"/>
<circle cx="295.3" cy="239.5" r="1.15" fill="#b0b0ff" stroke="#6464ff" stroke-width="0.75"/>
<circle cx="295.6" cy="235.3" r="1.15" fill="#b0b0ff" stroke="#6464ff" stroke-width="0.75"/>
<circle cx="297.1" cy="234.5" r="1.15" fill="#b0b0ff" stroke="#6464ff" stroke-width="0.75"/>
<circle cx="298.5" cy="230.4" r="1.15" fill="#b0b0ff" stroke="#6464ff" stroke-width="0.75"/>
<circle cx="304.3" cy="232.7" r="1.15" fill="#b0b0ff" stroke="#6464ff" stroke-width="0.75"/>
<circle cx="303.0" cy="215.4" r="1.15" fill="#b0b0ff" stroke="#6464ff" stroke-width="0.75"/>
<circle cx="307.3" cy="198.3" r="1.15" fill="#b0b0ff" stroke="#6464ff" stroke-width="0.75"/>
<circle cx="317.0" cy="204.9" r="1.15" fill="#b0b0ff" stroke="#6464ff" stroke-width="0.75"/>
<line x1="332.7" y1="182.1" x2="332.7" y2="272.6" stroke="#9a9a9a" stroke-width="1"/>
<polygon points="211.3,292.7 211.3,323.2 211.6,323.1 211.9,323.1 212.4,323.0 212.8,322.9 213.4,322.8 213.9,322.6 214.5,322.5 215.0,322.2 215.6,321.9 216.2,321.5 216.8,321.1 217.4,320.7 218.1,320.2 218.7,319.7 219.4,319.2 220.0,318.7 220.6,318.2 221.2,317.6 221.8,317.0 222.4,316.4 223.0,315.8 223.6,315.2 224.3,314.6 225.0,314.0 225.8,313.5 226.6,312.9 227.4,312.3 228.3,311.8 229.2,311.3 230.1,310.8 231.1,310.4 232.1,310.0 233.2,309.7 234.4,309.4 235.6,309.1 236.8,308.9 238.1,308.7 239.3,308.5 240.4,308.4 241.5,308.4 242.4,308.4 243.3,308.5 244.1,308.6 244.9,308.8 245.6,309.0 246.4,309.2 247.2,309.5 248.0,309.7 248.9,310.0 249.7,310.2 250.6,310.6 251.5,310.9 252.4,311.2 253.3,311.5 254.2,311.8 255.1,312.1 256.0,312.3 256.8,312.6 257.7,312.8 258.5,313.0 259.4,313.2 260.2,313.4 261.1,313.6 262.0,313.7 262.9,313.8 263.9,313.9 264.8,314.0 265.8,314.1 266.8,314.2 267.8,314.2 268.8,314.2 269.7,314.2 270.6,314.1 271.6,314.1 272.5,314.0 273.4,313.8 274.3,313.7 275.2,313.5 276.1,313.2 277.0,313.0 277.9,312.7 278.8,312.4 279.7,312.0 280.6,311.7 281.5,311.3 282.4,310.8 283.3,310.4 284.3,310.0 285.3,309.6 286.4,309.1 287.5,308.6 288.6,308.1 289.7,307.6 290.8,307.1 291.9,306.7 293.0,306.2 294.0,305.7 295.0,305.3 296.1,304.9 297.0,304.4 298.0,304.0 299.0,303.6 300.0,303.1 301.0,302.7 302.0,302.3 303.0,301.8 304.0,301.4 305.0,300.9 306.0,300.5 307.0,300.1 308.0,299.6 309.0,299.2 310.0,298.8 311.1,298.3 312.2,297.8 313.4,297.3 314.4,296.9 315.3,296.5 316.1,296.2 316.7,295.9 316.7,292.7" fill="#ccccff" stroke="none"/>
<polyline points="211.3,323.2 211.6,323.1 211.9,323.1 212.4,323.0 212.8,322.9 213.4,322.8 213.9,322.6 214.5,322.5 215.0,322.2 215.6,321.9 216.2,321.5 216.8,321.1 217.4,320.7 218.1,320.2 218.7,319.7 219.4,319.2 220.0,318.7 220.6,318.2 221.2,317.6 221.8,317.0 222.4,316.4 223.0,315.8 223.6,315.2 224.3,314.6 225.0,314.0 225.8,313.5 226.6,312.9 227.4,312.3 228.3,311.8 229.2,311.3 230.1,310.8 231.1,310.4 232.1,310.0 233.2,309.7 234.4,309.4 235.6,309.1 236.8,308.9 238.1,308.7 239.3,308.5 240.4,308.4 241.5,308.4 242.4,308.4 243.3,308.5 244.1,308.6 244.9,308.8 245.6,309.0 246.4,309.2 247.2,309.5 248.0,309.7 248.9,310.0 249.7,310.2 250.6,310.6 251.5,310.9 252.4,311.2 253.3,311.5 254.2,311.8 255.1,312.1 256.0,312.3 256.8,312.6 257.7,312.8 258.5,313.0 259.4,313.2 260.2,313.4 261.1,313.6 262.0,313.7 262.9,313.8 263.9,313.9 264.8,314.0 265.8,314.1 266.8,314.2 267.8,314.2 268.8,314.2 269.7,314.2 270.6,314.1 271.6,314.1 272.5,314.0 273.4,313.8 274.3,313.7 275.2,313.5 276.1,313.2 277.0,313.0 277.9,312.7 278.8,312.4 279.7,312.0 280.6,311.7 281.5,311.3 282.4,310.8 283.3,310.4 284.3,310.0 285.3,309.6 286.4,309.1 287.5,308.6 288.6,308.1 289.7,307.6 290.8,307.1 291.9,306.7 293.0,306.2 294.0,305.7 295.0,305.3 296.1,304.9 297.0,304.4 298.0,304.0 299.0,303.6 300.0,303.1 301.0,302.7 302.0,302.3 303.0,301.8 304.0,301.4 305.0,300.9 306.0,300.5 307.0,300.1 308.0,299.6 309.0,299.2 310.0,298.8 311.1,298.3 312.2,297.8 313.4,297.3 314.4,296.9 315.3,296.5 316.1,296.2 316.7,295.9" fill="none" stroke="#fff" stroke-width="2.8" stroke-linejoin="round"/>
<line x1="211.7" y1="292.7" x2="317.0" y2="292.7" stroke="#1c1cf4" stroke-width="1.5" opacity="0.8"/>
<polyline points="211.3,323.2 211.6,323.1 211.9,323.1 212.4,323.0 212.8,322.9 213.4,322.8 213.9,322.6 214.5,322.5 215.0,322.2 215.6,321.9 216.2,321.5 216.8,321.1 217.4,320.7 218.1,320.2 218.7,319.7 219.4,319.2 220.0,318.7 220.6,318.2 221.2,317.6 221.8,317.0 222.4,316.4 223.0,315.8 223.6,315.2 224.3,314.6 225.0,314.0 225.8,313.5 226.6,312.9 227.4,312.3 228.3,311.8 229.2,311.3 230.1,310.8 231.1,310.4 232.1,310.0 233.2,309.7 234.4,309.4 235.6,309.1 236.8,308.9 238.1,308.7 239.3,308.5 240.4,308.4 241.5,308.4 242.4,308.4 243.3,308.5 244.1,308.6 244.9,308.8 245.6,309.0 246.4,309.2 247.2,309.5 248.0,309.7 248.9,310.0 249.7,310.2 250.6,310.6 251.5,310.9 252.4,311.2 253.3,311.5 254.2,311.8 255.1,312.1 256.0,312.3 256.8,312.6 257.7,312.8 258.5,313.0 259.4,313.2 260.2,313.4 261.1,313.6 262.0,313.7 262.9,313.8 263.9,313.9 264.8,314.0 265.8,314.1 266.8,314.2 267.8,314.2 268.8,314.2 269.7,314.2 270.6,314.1 271.6,314.1 272.5,314.0 273.4,313.8 274.3,313.7 275.2,313.5 276.1,313.2 277.0,313.0 277.9,312.7 278.8,312.4 279.7,312.0 280.6,311.7 281.5,311.3 282.4,310.8 283.3,310.4 284.3,310.0 285.3,309.6 286.4,309.1 287.5,308.6 288.6,308.1 289.7,307.6 290.8,307.1 291.9,306.7 293.0,306.2 294.0,305.7 295.0,305.3 296.1,304.9 297.0,304.4 298.0,304.0 299.0,303.6 300.0,303.1 301.0,302.7 302.0,302.3 303.0,301.8 304.0,301.4 305.0,300.9 306.0,300.5 307.0,300.1 308.0,299.6 309.0,299.2 310.0,298.8 311.1,298.3 312.2,297.8 313.4,297.3 314.4,296.9 315.3,296.5 316.1,296.2 316.7,295.9" fill="none" stroke="#1c1cf4" stroke-width="1.35" stroke-linejoin="round"/>
<polyline points="332.7,191 332.7,272.5" fill="none" stroke="#1c1cf4" stroke-width="0.9" opacity="0.8"/>
<polyline points="332.7,272.5 382,272.5" fill="none" stroke="#1c1cf4" stroke-width="1.0"/>
<text x="383.50" y="175.90" font-size="15" font-weight="bold" text-anchor="start" fill="#000" stroke="#000" stroke-width="0.35">F</text>
<text x="456.45" y="177.70" font-size="7" font-weight="bold" text-anchor="middle" fill="#000">Average Sodium</text>
<rect x="403.8" y="182.1" width="105.30" height="90.50" fill="none" stroke="#9a9a9a" stroke-width="1"/>
<line x1="403.8" y1="188.30" x2="405.3" y2="188.30" stroke="#9a9a9a" stroke-width="0.8"/>
<line x1="509.1" y1="188.30" x2="507.6" y2="188.30" stroke="#9a9a9a" stroke-width="0.8"/>
<text x="511.10" y="189.90" font-size="4.6" font-weight="bold" text-anchor="start" fill="#000">24</text>
<line x1="403.8" y1="199.63" x2="405.3" y2="199.63" stroke="#9a9a9a" stroke-width="0.8"/>
<line x1="509.1" y1="199.63" x2="507.6" y2="199.63" stroke="#9a9a9a" stroke-width="0.8"/>
<text x="511.10" y="201.23" font-size="4.6" font-weight="bold" text-anchor="start" fill="#000">23</text>
<line x1="403.8" y1="210.96" x2="405.3" y2="210.96" stroke="#9a9a9a" stroke-width="0.8"/>
<line x1="509.1" y1="210.96" x2="507.6" y2="210.96" stroke="#9a9a9a" stroke-width="0.8"/>
<text x="511.10" y="212.56" font-size="4.6" font-weight="bold" text-anchor="start" fill="#000">22</text>
<line x1="403.8" y1="222.29" x2="405.3" y2="222.29" stroke="#9a9a9a" stroke-width="0.8"/>
<line x1="509.1" y1="222.29" x2="507.6" y2="222.29" stroke="#9a9a9a" stroke-width="0.8"/>
<text x="511.10" y="223.89" font-size="4.6" font-weight="bold" text-anchor="start" fill="#000">21</text>
<line x1="403.8" y1="233.62" x2="405.3" y2="233.62" stroke="#9a9a9a" stroke-width="0.8"/>
<line x1="509.1" y1="233.62" x2="507.6" y2="233.62" stroke="#9a9a9a" stroke-width="0.8"/>
<text x="511.10" y="235.22" font-size="4.6" font-weight="bold" text-anchor="start" fill="#000">20</text>
<line x1="403.8" y1="244.95" x2="405.3" y2="244.95" stroke="#9a9a9a" stroke-width="0.8"/>
<line x1="509.1" y1="244.95" x2="507.6" y2="244.95" stroke="#9a9a9a" stroke-width="0.8"/>
<text x="511.10" y="246.55" font-size="4.6" font-weight="bold" text-anchor="start" fill="#000">19</text>
<line x1="403.8" y1="256.28" x2="405.3" y2="256.28" stroke="#9a9a9a" stroke-width="0.8"/>
<line x1="509.1" y1="256.28" x2="507.6" y2="256.28" stroke="#9a9a9a" stroke-width="0.8"/>
<text x="511.10" y="257.88" font-size="4.6" font-weight="bold" text-anchor="start" fill="#000">18</text>
<line x1="403.8" y1="267.61" x2="405.3" y2="267.61" stroke="#9a9a9a" stroke-width="0.8"/>
<line x1="509.1" y1="267.61" x2="507.6" y2="267.61" stroke="#9a9a9a" stroke-width="0.8"/>
<text x="511.10" y="269.21" font-size="4.6" font-weight="bold" text-anchor="start" fill="#000">17</text>
<line x1="424.00" y1="272.6" x2="424.00" y2="271.1" stroke="#9a9a9a" stroke-width="0.8"/>
<line x1="424.00" y1="182.1" x2="424.00" y2="183.6" stroke="#9a9a9a" stroke-width="0.8"/>
<text x="424.00" y="279.70" font-size="4.6" font-weight="bold" text-anchor="middle" fill="#000">18</text>
<line x1="450.60" y1="272.6" x2="450.60" y2="271.1" stroke="#9a9a9a" stroke-width="0.8"/>
<line x1="450.60" y1="182.1" x2="450.60" y2="183.6" stroke="#9a9a9a" stroke-width="0.8"/>
<text x="450.60" y="279.70" font-size="4.6" font-weight="bold" text-anchor="middle" fill="#000">20</text>
<line x1="477.20" y1="272.6" x2="477.20" y2="271.1" stroke="#9a9a9a" stroke-width="0.8"/>
<line x1="477.20" y1="182.1" x2="477.20" y2="183.6" stroke="#9a9a9a" stroke-width="0.8"/>
<text x="477.20" y="279.70" font-size="4.6" font-weight="bold" text-anchor="middle" fill="#000">22</text>
<line x1="503.80" y1="272.6" x2="503.80" y2="271.1" stroke="#9a9a9a" stroke-width="0.8"/>
<line x1="503.80" y1="182.1" x2="503.80" y2="183.6" stroke="#9a9a9a" stroke-width="0.8"/>
<text x="503.80" y="279.70" font-size="4.6" font-weight="bold" text-anchor="middle" fill="#000">24</text>
<text x="456.45" y="287.30" font-size="5.5" font-weight="bold" text-anchor="middle" fill="#000">• Na/K dynamics</text>
<text x="522.80" y="227.10" font-size="5.5" font-weight="bold" text-anchor="middle" fill="#000" transform="rotate(-90 522.80 227.10)">• Na/K dynamics</text>
<circle cx="415.6" cy="207.1" r="1.15" fill="#a0a0ff" stroke="#6464ff" stroke-width="0.75"/>
<circle cx="486.9" cy="244.3" r="1.15" fill="#a0a0ff" stroke="#6464ff" stroke-width="0.75"/>
<circle cx="490.7" cy="216.1" r="1.15" fill="#a0a0ff" stroke="#6464ff" stroke-width="0.75"/>
<circle cx="484.6" cy="217.7" r="1.15" fill="#a0a0ff" stroke="#6464ff" stroke-width="0.75"/>
<circle cx="498.9" cy="206.4" r="1.15" fill="#a0a0ff" stroke="#6464ff" stroke-width="0.75"/>
<circle cx="456.8" cy="219.9" r="1.15" fill="#a0a0ff" stroke="#6464ff" stroke-width="0.75"/>
<circle cx="419.3" cy="211.3" r="1.15" fill="#a0a0ff" stroke="#6464ff" stroke-width="0.75"/>
<circle cx="479.3" cy="233.5" r="1.15" fill="#a0a0ff" stroke="#6464ff" stroke-width="0.75"/>
<circle cx="503.2" cy="213.5" r="1.15" fill="#a0a0ff" stroke="#6464ff" stroke-width="0.75"/>
<circle cx="470.0" cy="228.9" r="1.15" fill="#a0a0ff" stroke="#6464ff" stroke-width="0.75"/>
<circle cx="430.1" cy="234.7" r="1.15" fill="#a0a0ff" stroke="#6464ff" stroke-width="0.75"/>
<circle cx="464.7" cy="219.6" r="1.15" fill="#a0a0ff" stroke="#6464ff" stroke-width="0.75"/>
<circle cx="442.2" cy="215.0" r="1.15" fill="#a0a0ff" stroke="#6464ff" stroke-width="0.75"/>
<circle cx="506.2" cy="228.6" r="1.15" fill="#a0a0ff" stroke="#6464ff" stroke-width="0.75"/>
<circle cx="418.7" cy="248.7" r="1.15" fill="#a0a0ff" stroke="#6464ff" stroke-width="0.75"/>
<circle cx="463.1" cy="210.4" r="1.15" fill="#a0a0ff" stroke="#6464ff" stroke-width="0.75"/>
<circle cx="434.7" cy="239.0" r="1.15" fill="#a0a0ff" stroke="#6464ff" stroke-width="0.75"/>
<circle cx="491.3" cy="236.9" r="1.15" fill="#a0a0ff" stroke="#6464ff" stroke-width="0.75"/>
<circle cx="412.5" cy="251.5" r="1.15" fill="#a0a0ff" stroke="#6464ff" stroke-width="0.75"/>
<circle cx="407.8" cy="253.6" r="1.15" fill="#a0a0ff" stroke="#6464ff" stroke-width="0.75"/>
<circle cx="473.3" cy="214.4" r="1.15" fill="#a0a0ff" stroke="#6464ff" stroke-width="0.75"/>
<circle cx="481.6" cy="256.7" r="1.15" fill="#a0a0ff" stroke="#6464ff" stroke-width="0.75"/>
<circle cx="406.2" cy="204.3" r="1.15" fill="#a0a0ff" stroke="#6464ff" stroke-width="0.75"/>
<circle cx="425.4" cy="214.0" r="1.15" fill="#a0a0ff" stroke="#6464ff" stroke-width="0.75"/>
<circle cx="444.9" cy="228.4" r="1.15" fill="#a0a0ff" stroke="#6464ff" stroke-width="0.75"/>
<circle cx="464.0" cy="238.3" r="1.15" fill="#a0a0ff" stroke="#6464ff" stroke-width="0.75"/>
<circle cx="432.1" cy="249.6" r="1.15" fill="#a0a0ff" stroke="#6464ff" stroke-width="0.75"/>
<circle cx="453.6" cy="199.9" r="1.15" fill="#a0a0ff" stroke="#6464ff" stroke-width="0.75"/>
<circle cx="476.5" cy="242.3" r="1.15" fill="#a0a0ff" stroke="#6464ff" stroke-width="0.75"/>
<circle cx="483.7" cy="226.3" r="1.15" fill="#a0a0ff" stroke="#6464ff" stroke-width="0.75"/>
<circle cx="508.4" cy="200.6" r="1.15" fill="#a0a0ff" stroke="#6464ff" stroke-width="0.75"/>
<circle cx="449.8" cy="208.2" r="1.15" fill="#a0a0ff" stroke="#6464ff" stroke-width="0.75"/>
<circle cx="463.6" cy="248.3" r="1.15" fill="#a0a0ff" stroke="#6464ff" stroke-width="0.75"/>
<circle cx="459.4" cy="210.9" r="1.15" fill="#a0a0ff" stroke="#6464ff" stroke-width="0.75"/>
<circle cx="449.7" cy="242.0" r="1.15" fill="#a0a0ff" stroke="#6464ff" stroke-width="0.75"/>
<circle cx="410.2" cy="215.1" r="1.15" fill="#a0a0ff" stroke="#6464ff" stroke-width="0.75"/>
<circle cx="466.9" cy="205.0" r="1.15" fill="#a0a0ff" stroke="#6464ff" stroke-width="0.75"/>
<circle cx="417.5" cy="201.4" r="1.15" fill="#a0a0ff" stroke="#6464ff" stroke-width="0.75"/>
<circle cx="446.0" cy="234.5" r="1.15" fill="#a0a0ff" stroke="#6464ff" stroke-width="0.75"/>
<circle cx="429.5" cy="200.7" r="1.15" fill="#a0a0ff" stroke="#6464ff" stroke-width="0.75"/>
<circle cx="436.5" cy="213.2" r="1.15" fill="#a0a0ff" stroke="#6464ff" stroke-width="0.75"/>
<circle cx="411.7" cy="235.8" r="1.15" fill="#a0a0ff" stroke="#6464ff" stroke-width="0.75"/>
<circle cx="495.0" cy="219.2" r="1.15" fill="#a0a0ff" stroke="#6464ff" stroke-width="0.75"/>
<circle cx="448.5" cy="231.3" r="1.15" fill="#a0a0ff" stroke="#6464ff" stroke-width="0.75"/>
<circle cx="482.5" cy="211.4" r="1.15" fill="#a0a0ff" stroke="#6464ff" stroke-width="0.75"/>
<circle cx="463.7" cy="234.2" r="1.15" fill="#a0a0ff" stroke="#6464ff" stroke-width="0.75"/>
<circle cx="487.3" cy="220.3" r="1.15" fill="#a0a0ff" stroke="#6464ff" stroke-width="0.75"/>
<circle cx="404.6" cy="213.4" r="1.15" fill="#a0a0ff" stroke="#6464ff" stroke-width="0.75"/>
<circle cx="430.0" cy="220.1" r="1.15" fill="#a0a0ff" stroke="#6464ff" stroke-width="0.75"/>
<circle cx="411.0" cy="244.6" r="1.15" fill="#a0a0ff" stroke="#6464ff" stroke-width="0.75"/>
<circle cx="498.0" cy="234.8" r="1.15" fill="#a0a0ff" stroke="#6464ff" stroke-width="0.75"/>
<circle cx="441.8" cy="205.7" r="1.15" fill="#a0a0ff" stroke="#6464ff" stroke-width="0.75"/>
<circle cx="498.4" cy="227.6" r="1.15" fill="#a0a0ff" stroke="#6464ff" stroke-width="0.75"/>
<circle cx="453.9" cy="231.0" r="1.15" fill="#a0a0ff" stroke="#6464ff" stroke-width="0.75"/>
<circle cx="500.9" cy="243.7" r="1.15" fill="#a0a0ff" stroke="#6464ff" stroke-width="0.75"/>
<circle cx="498.2" cy="240.1" r="1.15" fill="#a0a0ff" stroke="#6464ff" stroke-width="0.75"/>
<circle cx="453.9" cy="247.3" r="1.15" fill="#a0a0ff" stroke="#6464ff" stroke-width="0.75"/>
<circle cx="496.5" cy="215.4" r="1.15" fill="#a0a0ff" stroke="#6464ff" stroke-width="0.75"/>
<circle cx="437.2" cy="247.9" r="1.15" fill="#a0a0ff" stroke="#6464ff" stroke-width="0.75"/>
<circle cx="498.6" cy="249.7" r="1.15" fill="#a0a0ff" stroke="#6464ff" stroke-width="0.75"/>
<circle cx="477.2" cy="248.1" r="1.15" fill="#a0a0ff" stroke="#6464ff" stroke-width="0.75"/>
<circle cx="423.4" cy="229.0" r="1.15" fill="#a0a0ff" stroke="#6464ff" stroke-width="0.75"/>
<circle cx="443.4" cy="202.0" r="1.15" fill="#a0a0ff" stroke="#6464ff" stroke-width="0.75"/>
<circle cx="428.4" cy="210.2" r="1.15" fill="#a0a0ff" stroke="#6464ff" stroke-width="0.75"/>
<circle cx="507.2" cy="218.6" r="1.15" fill="#a0a0ff" stroke="#6464ff" stroke-width="0.75"/>
<circle cx="409.2" cy="221.2" r="1.15" fill="#a0a0ff" stroke="#6464ff" stroke-width="0.75"/>
<circle cx="467.2" cy="222.4" r="1.15" fill="#a0a0ff" stroke="#6464ff" stroke-width="0.75"/>
<circle cx="413.6" cy="217.9" r="1.15" fill="#a0a0ff" stroke="#6464ff" stroke-width="0.75"/>
<circle cx="498.2" cy="221.8" r="1.15" fill="#a0a0ff" stroke="#6464ff" stroke-width="0.75"/>
<circle cx="507.7" cy="249.9" r="1.15" fill="#a0a0ff" stroke="#6464ff" stroke-width="0.75"/>
<circle cx="482.9" cy="231.1" r="1.15" fill="#a0a0ff" stroke="#6464ff" stroke-width="0.75"/>
<circle cx="444.7" cy="249.4" r="1.15" fill="#a0a0ff" stroke="#6464ff" stroke-width="0.75"/>
<circle cx="473.3" cy="209.6" r="1.15" fill="#a0a0ff" stroke="#6464ff" stroke-width="0.75"/>
<circle cx="486.3" cy="200.0" r="1.15" fill="#a0a0ff" stroke="#6464ff" stroke-width="0.75"/>
<circle cx="492.8" cy="223.3" r="1.15" fill="#a0a0ff" stroke="#6464ff" stroke-width="0.75"/>
<circle cx="422.7" cy="219.0" r="1.15" fill="#a0a0ff" stroke="#6464ff" stroke-width="0.75"/>
<circle cx="429.1" cy="251.9" r="1.15" fill="#a0a0ff" stroke="#6464ff" stroke-width="0.75"/>
<circle cx="465.1" cy="227.1" r="1.15" fill="#a0a0ff" stroke="#6464ff" stroke-width="0.75"/>
<circle cx="456.6" cy="254.9" r="1.15" fill="#a0a0ff" stroke="#6464ff" stroke-width="0.75"/>
<circle cx="420.4" cy="216.1" r="1.15" fill="#a0a0ff" stroke="#6464ff" stroke-width="0.75"/>
<circle cx="450.7" cy="226.6" r="1.15" fill="#a0a0ff" stroke="#6464ff" stroke-width="0.75"/>
<circle cx="432.0" cy="228.6" r="1.15" fill="#a0a0ff" stroke="#6464ff" stroke-width="0.75"/>
<circle cx="499.3" cy="217.9" r="1.15" fill="#a0a0ff" stroke="#6464ff" stroke-width="0.75"/>
<circle cx="429.4" cy="215.5" r="1.15" fill="#a0a0ff" stroke="#6464ff" stroke-width="0.75"/>
<circle cx="419.8" cy="223.6" r="1.15" fill="#a0a0ff" stroke="#6464ff" stroke-width="0.75"/>
<circle cx="437.4" cy="232.0" r="1.15" fill="#a0a0ff" stroke="#6464ff" stroke-width="0.75"/>
<circle cx="469.4" cy="209.0" r="1.15" fill="#a0a0ff" stroke="#6464ff" stroke-width="0.75"/>
<circle cx="413.7" cy="231.8" r="1.15" fill="#a0a0ff" stroke="#6464ff" stroke-width="0.75"/>
<circle cx="410.9" cy="208.3" r="1.15" fill="#a0a0ff" stroke="#6464ff" stroke-width="0.75"/>
<circle cx="427.1" cy="237.2" r="1.15" fill="#a0a0ff" stroke="#6464ff" stroke-width="0.75"/>
<circle cx="507.6" cy="240.9" r="1.15" fill="#a0a0ff" stroke="#6464ff" stroke-width="0.75"/>
<circle cx="482.3" cy="245.1" r="1.15" fill="#a0a0ff" stroke="#6464ff" stroke-width="0.75"/>
<circle cx="408.6" cy="228.7" r="1.15" fill="#a0a0ff" stroke="#6464ff" stroke-width="0.75"/>
<circle cx="445.6" cy="219.1" r="1.15" fill="#a0a0ff" stroke="#6464ff" stroke-width="0.75"/>
<circle cx="428.5" cy="225.4" r="1.15" fill="#a0a0ff" stroke="#6464ff" stroke-width="0.75"/>
<circle cx="472.4" cy="244.8" r="1.15" fill="#a0a0ff" stroke="#6464ff" stroke-width="0.75"/>
<circle cx="486.2" cy="208.0" r="1.15" fill="#a0a0ff" stroke="#6464ff" stroke-width="0.75"/>
<circle cx="453.4" cy="240.6" r="1.15" fill="#a0a0ff" stroke="#6464ff" stroke-width="0.75"/>
<circle cx="494.7" cy="232.1" r="1.15" fill="#a0a0ff" stroke="#6464ff" stroke-width="0.75"/>
<circle cx="406.4" cy="239.4" r="1.15" fill="#a0a0ff" stroke="#6464ff" stroke-width="0.75"/>
<circle cx="423.5" cy="224.3" r="1.15" fill="#a0a0ff" stroke="#6464ff" stroke-width="0.75"/>
<circle cx="479.2" cy="223.6" r="1.15" fill="#a0a0ff" stroke="#6464ff" stroke-width="0.75"/>
<circle cx="502.4" cy="202.2" r="1.15" fill="#a0a0ff" stroke="#6464ff" stroke-width="0.75"/>
<circle cx="413.2" cy="240.4" r="1.15" fill="#a0a0ff" stroke="#6464ff" stroke-width="0.75"/>
<circle cx="458.8" cy="246.7" r="1.15" fill="#a0a0ff" stroke="#6464ff" stroke-width="0.75"/>
<circle cx="437.1" cy="201.5" r="1.15" fill="#a0a0ff" stroke="#6464ff" stroke-width="0.75"/>
<circle cx="418.7" cy="238.7" r="1.15" fill="#a0a0ff" stroke="#6464ff" stroke-width="0.75"/>
<circle cx="419.9" cy="231.0" r="1.15" fill="#a0a0ff" stroke="#6464ff" stroke-width="0.75"/>
<circle cx="435.0" cy="217.4" r="1.15" fill="#a0a0ff" stroke="#6464ff" stroke-width="0.75"/>
<circle cx="489.0" cy="205.2" r="1.15" fill="#a0a0ff" stroke="#6464ff" stroke-width="0.75"/>
<circle cx="504.3" cy="195.7" r="1.15" fill="#a0a0ff" stroke="#6464ff" stroke-width="0.75"/>
<circle cx="413.9" cy="257.0" r="1.15" fill="#a0a0ff" stroke="#6464ff" stroke-width="0.75"/>
<circle cx="449.2" cy="220.0" r="1.15" fill="#a0a0ff" stroke="#6464ff" stroke-width="0.75"/>
<circle cx="438.8" cy="208.2" r="1.15" fill="#a0a0ff" stroke="#6464ff" stroke-width="0.75"/>
<circle cx="446.6" cy="212.9" r="1.15" fill="#a0a0ff" stroke="#6464ff" stroke-width="0.75"/>
<circle cx="474.0" cy="228.1" r="1.15" fill="#a0a0ff" stroke="#6464ff" stroke-width="0.75"/>
<circle cx="429.6" cy="242.8" r="1.15" fill="#a0a0ff" stroke="#6464ff" stroke-width="0.75"/>
<circle cx="448.6" cy="237.1" r="1.15" fill="#a0a0ff" stroke="#6464ff" stroke-width="0.75"/>
<circle cx="420.3" cy="196.3" r="1.15" fill="#a0a0ff" stroke="#6464ff" stroke-width="0.75"/>
<circle cx="407.0" cy="199.4" r="1.15" fill="#a0a0ff" stroke="#6464ff" stroke-width="0.75"/>
<circle cx="453.5" cy="213.7" r="1.15" fill="#a0a0ff" stroke="#6464ff" stroke-width="0.75"/>
<circle cx="468.8" cy="246.0" r="1.15" fill="#a0a0ff" stroke="#6464ff" stroke-width="0.75"/>
<circle cx="503.0" cy="230.2" r="1.15" fill="#a0a0ff" stroke="#6464ff" stroke-width="0.75"/>
<circle cx="442.2" cy="225.2" r="1.15" fill="#a0a0ff" stroke="#6464ff" stroke-width="0.75"/>
<circle cx="506.6" cy="234.5" r="1.15" fill="#a0a0ff" stroke="#6464ff" stroke-width="0.75"/>
<circle cx="461.3" cy="226.9" r="1.15" fill="#a0a0ff" stroke="#6464ff" stroke-width="0.75"/>
<circle cx="472.4" cy="251.6" r="1.15" fill="#a0a0ff" stroke="#6464ff" stroke-width="0.75"/>
<circle cx="461.8" cy="206.0" r="1.15" fill="#a0a0ff" stroke="#6464ff" stroke-width="0.75"/>
<circle cx="497.1" cy="243.6" r="1.15" fill="#a0a0ff" stroke="#6464ff" stroke-width="0.75"/>
<circle cx="469.5" cy="214.4" r="1.15" fill="#a0a0ff" stroke="#6464ff" stroke-width="0.75"/>
<circle cx="455.8" cy="206.5" r="1.15" fill="#a0a0ff" stroke="#6464ff" stroke-width="0.75"/>
<circle cx="438.5" cy="237.6" r="1.15" fill="#a0a0ff" stroke="#6464ff" stroke-width="0.75"/>
<circle cx="421.5" cy="255.6" r="1.15" fill="#a0a0ff" stroke="#6464ff" stroke-width="0.75"/>
<circle cx="439.4" cy="228.5" r="1.15" fill="#a0a0ff" stroke="#6464ff" stroke-width="0.75"/>
<circle cx="463.8" cy="195.7" r="1.15" fill="#a0a0ff" stroke="#6464ff" stroke-width="0.75"/>
<circle cx="469.6" cy="242.5" r="1.15" fill="#a0a0ff" stroke="#6464ff" stroke-width="0.75"/>
<circle cx="491.3" cy="229.6" r="1.15" fill="#a0a0ff" stroke="#6464ff" stroke-width="0.75"/>
<circle cx="476.4" cy="198.8" r="1.15" fill="#a0a0ff" stroke="#6464ff" stroke-width="0.75"/>
<circle cx="446.0" cy="241.1" r="1.15" fill="#a0a0ff" stroke="#6464ff" stroke-width="0.75"/>
<circle cx="416.9" cy="243.4" r="1.15" fill="#a0a0ff" stroke="#6464ff" stroke-width="0.75"/>
<circle cx="428.3" cy="205.1" r="1.15" fill="#a0a0ff" stroke="#6464ff" stroke-width="0.75"/>
<circle cx="436.8" cy="244.3" r="1.15" fill="#a0a0ff" stroke="#6464ff" stroke-width="0.75"/>
<circle cx="425.6" cy="243.0" r="1.15" fill="#a0a0ff" stroke="#6464ff" stroke-width="0.75"/>
<circle cx="462.0" cy="230.6" r="1.15" fill="#a0a0ff" stroke="#6464ff" stroke-width="0.75"/>
<circle cx="494.9" cy="249.8" r="1.15" fill="#a0a0ff" stroke="#6464ff" stroke-width="0.75"/>
<circle cx="480.3" cy="228.3" r="1.15" fill="#a0a0ff" stroke="#6464ff" stroke-width="0.75"/>
<circle cx="483.2" cy="235.4" r="1.15" fill="#a0a0ff" stroke="#6464ff" stroke-width="0.75"/>
<circle cx="436.9" cy="222.8" r="1.15" fill="#a0a0ff" stroke="#6464ff" stroke-width="0.75"/>
<circle cx="504.7" cy="252.9" r="1.15" fill="#a0a0ff" stroke="#6464ff" stroke-width="0.75"/>
<circle cx="487.3" cy="224.0" r="1.15" fill="#a0a0ff" stroke="#6464ff" stroke-width="0.75"/>
<circle cx="499.6" cy="254.5" r="1.15" fill="#a0a0ff" stroke="#6464ff" stroke-width="0.75"/>
<circle cx="428.2" cy="230.2" r="1.15" fill="#a0a0ff" stroke="#6464ff" stroke-width="0.75"/>
<circle cx="489.2" cy="249.6" r="1.15" fill="#a0a0ff" stroke="#6464ff" stroke-width="0.75"/>
<circle cx="433.7" cy="210.3" r="1.15" fill="#a0a0ff" stroke="#6464ff" stroke-width="0.75"/>
<circle cx="457.0" cy="227.3" r="1.15" fill="#a0a0ff" stroke="#6464ff" stroke-width="0.75"/>
<circle cx="505.1" cy="224.2" r="1.15" fill="#a0a0ff" stroke="#6464ff" stroke-width="0.75"/>
<circle cx="427.5" cy="197.1" r="1.15" fill="#a0a0ff" stroke="#6464ff" stroke-width="0.75"/>
<circle cx="433.1" cy="202.4" r="1.15" fill="#a0a0ff" stroke="#6464ff" stroke-width="0.75"/>
<circle cx="470.8" cy="203.2" r="1.15" fill="#a0a0ff" stroke="#6464ff" stroke-width="0.75"/>
<circle cx="426.7" cy="247.9" r="1.15" fill="#a0a0ff" stroke="#6464ff" stroke-width="0.75"/>
<circle cx="470.2" cy="197.9" r="1.15" fill="#a0a0ff" stroke="#6464ff" stroke-width="0.75"/>
<circle cx="457.3" cy="216.1" r="1.15" fill="#a0a0ff" stroke="#6464ff" stroke-width="0.75"/>
<circle cx="464.4" cy="255.6" r="1.15" fill="#a0a0ff" stroke="#6464ff" stroke-width="0.75"/>
<circle cx="499.1" cy="198.5" r="1.15" fill="#a0a0ff" stroke="#6464ff" stroke-width="0.75"/>
<circle cx="487.8" cy="238.2" r="1.15" fill="#a0a0ff" stroke="#6464ff" stroke-width="0.75"/>
<circle cx="416.8" cy="235.1" r="1.15" fill="#a0a0ff" stroke="#6464ff" stroke-width="0.75"/>
<circle cx="493.2" cy="245.8" r="1.15" fill="#a0a0ff" stroke="#6464ff" stroke-width="0.75"/>
<circle cx="469.0" cy="232.9" r="1.15" fill="#a0a0ff" stroke="#6464ff" stroke-width="0.75"/>
<circle cx="433.6" cy="254.4" r="1.15" fill="#a0a0ff" stroke="#6464ff" stroke-width="0.75"/>
<circle cx="477.0" cy="214.7" r="1.15" fill="#a0a0ff" stroke="#6464ff" stroke-width="0.75"/>
<circle cx="416.6" cy="228.4" r="1.15" fill="#a0a0ff" stroke="#6464ff" stroke-width="0.75"/>
<circle cx="508.5" cy="213.1" r="1.15" fill="#a0a0ff" stroke="#6464ff" stroke-width="0.75"/>
<circle cx="478.0" cy="218.7" r="1.15" fill="#a0a0ff" stroke="#6464ff" stroke-width="0.75"/>
<circle cx="467.3" cy="249.5" r="1.15" fill="#a0a0ff" stroke="#6464ff" stroke-width="0.75"/>
<circle cx="433.9" cy="235.0" r="1.15" fill="#a0a0ff" stroke="#6464ff" stroke-width="0.75"/>
<circle cx="461.5" cy="202.2" r="1.15" fill="#a0a0ff" stroke="#6464ff" stroke-width="0.75"/>
<circle cx="470.6" cy="224.5" r="1.15" fill="#a0a0ff" stroke="#6464ff" stroke-width="0.75"/>
<circle cx="453.5" cy="210.1" r="1.15" fill="#a0a0ff" stroke="#6464ff" stroke-width="0.75"/>
<circle cx="426.4" cy="217.6" r="1.15" fill="#a0a0ff" stroke="#6464ff" stroke-width="0.75"/>
<circle cx="407.0" cy="209.8" r="1.15" fill="#a0a0ff" stroke="#6464ff" stroke-width="0.75"/>
<circle cx="505.5" cy="237.9" r="1.15" fill="#a0a0ff" stroke="#6464ff" stroke-width="0.75"/>
<circle cx="412.7" cy="225.3" r="1.15" fill="#a0a0ff" stroke="#6464ff" stroke-width="0.75"/>
<circle cx="411.0" cy="198.7" r="1.15" fill="#a0a0ff" stroke="#6464ff" stroke-width="0.75"/>
<circle cx="446.5" cy="245.7" r="1.15" fill="#a0a0ff" stroke="#6464ff" stroke-width="0.75"/>
<circle cx="449.6" cy="202.3" r="1.15" fill="#a0a0ff" stroke="#6464ff" stroke-width="0.75"/>
<polygon points="525.1,189.4 525.1,189.4 525.3,189.7 525.6,190.0 525.8,190.4 526.2,190.8 526.6,191.3 527.0,191.9 527.5,192.4 528.0,193.0 528.6,193.6 529.1,194.3 529.8,194.9 530.4,195.7 531.2,196.4 532.0,197.2 532.8,198.0 533.8,198.8 534.9,199.7 536.0,200.6 537.3,201.5 538.6,202.5 540.0,203.4 541.4,204.3 542.7,205.2 544.0,206.1 545.3,206.9 546.5,207.7 547.8,208.4 549.0,209.1 550.3,209.8 551.6,210.5 552.8,211.2 554.1,211.9 555.4,212.6 556.7,213.4 558.0,214.1 559.4,214.8 560.7,215.6 562.0,216.3 563.2,217.0 564.3,217.7 565.4,218.4 566.4,219.1 567.4,219.7 568.4,220.4 569.2,221.0 570.1,221.6 570.8,222.2 571.5,222.8 572.1,223.3 572.6,223.8 573.1,224.2 573.5,224.6 573.9,225.0 574.1,225.4 574.3,225.9 574.4,226.4 574.4,226.9 574.3,227.5 574.1,228.1 573.9,228.7 573.6,229.3 573.2,230.0 572.7,230.7 572.2,231.4 571.6,232.2 570.9,233.0 570.2,233.9 569.4,234.9 568.5,235.8 567.6,236.8 566.6,237.7 565.7,238.7 564.7,239.7 563.8,240.7 562.8,241.7 561.8,242.7 560.7,243.8 559.5,244.8 558.3,245.8 557.0,246.7 555.6,247.6 554.0,248.5 552.3,249.3 550.6,250.2 548.9,251.0 547.2,251.8 545.5,252.5 544.0,253.2 542.6,253.8 541.1,254.4 539.7,255.0 538.4,255.5 537.1,256.0 535.9,256.5 534.8,257.0 533.8,257.5 532.9,258.0 532.2,258.5 531.5,259.1 530.9,259.6 530.4,260.0 529.8,260.5 529.3,260.9 528.8,261.2 528.2,261.5 527.7,261.7 527.2,261.8 526.6,261.9 526.2,262.0 525.7,262.1 525.4,262.1 525.1,262.2 525.1,262.2" fill="#ccccff" stroke="none"/>
<line x1="525.1" y1="182.1" x2="525.1" y2="272.6" stroke="#9a9a9a" stroke-width="1"/>
<line x1="525.1" y1="189.40" x2="525.1" y2="262.20" stroke="#1c1cf4" stroke-width="1.1"/>
<polyline points="525.1,189.4 525.3,189.7 525.6,190.0 525.8,190.4 526.2,190.8 526.6,191.3 527.0,191.9 527.5,192.4 528.0,193.0 528.6,193.6 529.1,194.3 529.8,194.9 530.4,195.7 531.2,196.4 532.0,197.2 532.8,198.0 533.8,198.8 534.9,199.7 536.0,200.6 537.3,201.5 538.6,202.5 540.0,203.4 541.4,204.3 542.7,205.2 544.0,206.1 545.3,206.9 546.5,207.7 547.8,208.4 549.0,209.1 550.3,209.8 551.6,210.5 552.8,211.2 554.1,211.9 555.4,212.6 556.7,213.4 558.0,214.1 559.4,214.8 560.7,215.6 562.0,216.3 563.2,217.0 564.3,217.7 565.4,218.4 566.4,219.1 567.4,219.7 568.4,220.4 569.2,221.0 570.1,221.6 570.8,222.2 571.5,222.8 572.1,223.3 572.6,223.8 573.1,224.2 573.5,224.6 573.9,225.0 574.1,225.4 574.3,225.9 574.4,226.4 574.4,226.9 574.3,227.5 574.1,228.1 573.9,228.7 573.6,229.3 573.2,230.0 572.7,230.7 572.2,231.4 571.6,232.2 570.9,233.0 570.2,233.9 569.4,234.9 568.5,235.8 567.6,236.8 566.6,237.7 565.7,238.7 564.7,239.7 563.8,240.7 562.8,241.7 561.8,242.7 560.7,243.8 559.5,244.8 558.3,245.8 557.0,246.7 555.6,247.6 554.0,248.5 552.3,249.3 550.6,250.2 548.9,251.0 547.2,251.8 545.5,252.5 544.0,253.2 542.6,253.8 541.1,254.4 539.7,255.0 538.4,255.5 537.1,256.0 535.9,256.5 534.8,257.0 533.8,257.5 532.9,258.0 532.2,258.5 531.5,259.1 530.9,259.6 530.4,260.0 529.8,260.5 529.3,260.9 528.8,261.2 528.2,261.5 527.7,261.7 527.2,261.8 526.6,261.9 526.2,262.0 525.7,262.1 525.4,262.1 525.1,262.2" fill="none" stroke="#fff" stroke-width="2.8" stroke-linejoin="round"/>
<line x1="525.1" y1="189.40" x2="525.1" y2="262.20" stroke="#1c1cf4" stroke-width="1.1"/>
<polyline points="525.1,189.4 525.3,189.7 525.6,190.0 525.8,190.4 526.2,190.8 526.6,191.3 527.0,191.9 527.5,192.4 528.0,193.0 528.6,193.6 529.1,194.3 529.8,194.9 530.4,195.7 531.2,196.4 532.0,197.2 532.8,198.0 533.8,198.8 534.9,199.7 536.0,200.6 537.3,201.5 538.6,202.5 540.0,203.4 541.4,204.3 542.7,205.2 544.0,206.1 545.3,206.9 546.5,207.7 547.8,208.4 549.0,209.1 550.3,209.8 551.6,210.5 552.8,211.2 554.1,211.9 555.4,212.6 556.7,213.4 558.0,214.1 559.4,214.8 560.7,215.6 562.0,216.3 563.2,217.0 564.3,217.7 565.4,218.4 566.4,219.1 567.4,219.7 568.4,220.4 569.2,221.0 570.1,221.6 570.8,222.2 571.5,222.8 572.1,223.3 572.6,223.8 573.1,224.2 573.5,224.6 573.9,225.0 574.1,225.4 574.3,225.9 574.4,226.4 574.4,226.9 574.3,227.5 574.1,228.1 573.9,228.7 573.6,229.3 573.2,230.0 572.7,230.7 572.2,231.4 571.6,232.2 570.9,233.0 570.2,233.9 569.4,234.9 568.5,235.8 567.6,236.8 566.6,237.7 565.7,238.7 564.7,239.7 563.8,240.7 562.8,241.7 561.8,242.7 560.7,243.8 559.5,244.8 558.3,245.8 557.0,246.7 555.6,247.6 554.0,248.5 552.3,249.3 550.6,250.2 548.9,251.0 547.2,251.8 545.5,252.5 544.0,253.2 542.6,253.8 541.1,254.4 539.7,255.0 538.4,255.5 537.1,256.0 535.9,256.5 534.8,257.0 533.8,257.5 532.9,258.0 532.2,258.5 531.5,259.1 530.9,259.6 530.4,260.0 529.8,260.5 529.3,260.9 528.8,261.2 528.2,261.5 527.7,261.7 527.2,261.8 526.6,261.9 526.2,262.0 525.7,262.1 525.4,262.1 525.1,262.2" fill="none" stroke="#1c1cf4" stroke-width="1.35" stroke-linejoin="round"/>
<polygon points="403.8,292.5 403.8,304.8 404.6,305.3 405.7,306.0 407.0,306.8 408.5,307.7 410.0,308.6 411.6,309.5 413.2,310.3 414.7,311.1 416.2,311.8 417.7,312.4 419.3,313.0 420.8,313.6 422.4,314.2 424.0,314.7 425.6,315.3 427.2,315.9 428.8,316.5 430.3,317.1 431.9,317.7 433.5,318.3 435.1,318.9 436.7,319.5 438.2,320.0 439.8,320.5 441.4,320.9 442.9,321.3 444.5,321.7 446.1,322.1 447.6,322.4 449.2,322.6 450.7,322.8 452.3,323.0 453.9,323.1 455.4,323.1 457.0,323.1 458.6,323.0 460.1,322.9 461.7,322.8 463.2,322.7 464.8,322.6 466.4,322.6 467.9,322.6 469.5,322.6 471.0,322.6 472.6,322.5 474.2,322.5 475.7,322.4 477.3,322.2 478.9,322.0 480.5,321.7 482.1,321.4 483.7,321.1 485.3,320.7 486.9,320.3 488.4,319.9 489.9,319.4 491.3,318.9 492.7,318.3 494.0,317.7 495.3,317.0 496.6,316.3 497.9,315.6 499.1,314.9 500.3,314.2 501.5,313.5 502.8,312.7 504.1,311.8 505.4,311.0 506.5,310.2 507.6,309.5 508.4,308.9 509.1,308.4 509.1,292.5" fill="#ccccff" stroke="none"/>
<polyline points="403.8,304.8 404.6,305.3 405.7,306.0 407.0,306.8 408.5,307.7 410.0,308.6 411.6,309.5 413.2,310.3 414.7,311.1 416.2,311.8 417.7,312.4 419.3,313.0 420.8,313.6 422.4,314.2 424.0,314.7 425.6,315.3 427.2,315.9 428.8,316.5 430.3,317.1 431.9,317.7 433.5,318.3 435.1,318.9 436.7,319.5 438.2,320.0 439.8,320.5 441.4,320.9 442.9,321.3 444.5,321.7 446.1,322.1 447.6,322.4 449.2,322.6 450.7,322.8 452.3,323.0 453.9,323.1 455.4,323.1 457.0,323.1 458.6,323.0 460.1,322.9 461.7,322.8 463.2,322.7 464.8,322.6 466.4,322.6 467.9,322.6 469.5,322.6 471.0,322.6 472.6,322.5 474.2,322.5 475.7,322.4 477.3,322.2 478.9,322.0 480.5,321.7 482.1,321.4 483.7,321.1 485.3,320.7 486.9,320.3 488.4,319.9 489.9,319.4 491.3,318.9 492.7,318.3 494.0,317.7 495.3,317.0 496.6,316.3 497.9,315.6 499.1,314.9 500.3,314.2 501.5,313.5 502.8,312.7 504.1,311.8 505.4,311.0 506.5,310.2 507.6,309.5 508.4,308.9 509.1,308.4" fill="none" stroke="#fff" stroke-width="2.8" stroke-linejoin="round"/>
<line x1="403.8" y1="292.5" x2="509.1" y2="292.5" stroke="#1c1cf4" stroke-width="1.5" opacity="0.8"/>
<polyline points="403.8,304.8 404.6,305.3 405.7,306.0 407.0,306.8 408.5,307.7 410.0,308.6 411.6,309.5 413.2,310.3 414.7,311.1 416.2,311.8 417.7,312.4 419.3,313.0 420.8,313.6 422.4,314.2 424.0,314.7 425.6,315.3 427.2,315.9 428.8,316.5 430.3,317.1 431.9,317.7 433.5,318.3 435.1,318.9 436.7,319.5 438.2,320.0 439.8,320.5 441.4,320.9 442.9,321.3 444.5,321.7 446.1,322.1 447.6,322.4 449.2,322.6 450.7,322.8 452.3,323.0 453.9,323.1 455.4,323.1 457.0,323.1 458.6,323.0 460.1,322.9 461.7,322.8 463.2,322.7 464.8,322.6 466.4,322.6 467.9,322.6 469.5,322.6 471.0,322.6 472.6,322.5 474.2,322.5 475.7,322.4 477.3,322.2 478.9,322.0 480.5,321.7 482.1,321.4 483.7,321.1 485.3,320.7 486.9,320.3 488.4,319.9 489.9,319.4 491.3,318.9 492.7,318.3 494.0,317.7 495.3,317.0 496.6,316.3 497.9,315.6 499.1,314.9 500.3,314.2 501.5,313.5 502.8,312.7 504.1,311.8 505.4,311.0 506.5,310.2 507.6,309.5 508.4,308.9 509.1,308.4" fill="none" stroke="#1c1cf4" stroke-width="1.35" stroke-linejoin="round"/>
<text x="-0.80" y="341.60" font-size="15" font-weight="bold" text-anchor="start" fill="#000" stroke="#000" stroke-width="0.35">G</text>
<text x="72.15" y="343.40" font-size="7" font-weight="bold" text-anchor="middle" fill="#000">Sodium Nernst Pot.</text>
<rect x="19.5" y="347.8" width="105.30" height="90.50" fill="none" stroke="#9a9a9a" stroke-width="1"/>
<line x1="19.5" y1="355.00" x2="21.0" y2="355.00" stroke="#9a9a9a" stroke-width="0.8"/>
<line x1="124.8" y1="355.00" x2="123.3" y2="355.00" stroke="#9a9a9a" stroke-width="0.8"/>
<text x="126.80" y="356.60" font-size="4.6" font-weight="bold" text-anchor="start" fill="#000">56</text>
<line x1="19.5" y1="364.70" x2="21.0" y2="364.70" stroke="#9a9a9a" stroke-width="0.8"/>
<line x1="124.8" y1="364.70" x2="123.3" y2="364.70" stroke="#9a9a9a" stroke-width="0.8"/>
<text x="126.80" y="366.30" font-size="4.6" font-weight="bold" text-anchor="start" fill="#000">54</text>
<line x1="19.5" y1="374.40" x2="21.0" y2="374.40" stroke="#9a9a9a" stroke-width="0.8"/>
<line x1="124.8" y1="374.40" x2="123.3" y2="374.40" stroke="#9a9a9a" stroke-width="0.8"/>
<text x="126.80" y="376.00" font-size="4.6" font-weight="bold" text-anchor="start" fill="#000">52</text>
<line x1="19.5" y1="384.10" x2="21.0" y2="384.10" stroke="#9a9a9a" stroke-width="0.8"/>
<line x1="124.8" y1="384.10" x2="123.3" y2="384.10" stroke="#9a9a9a" stroke-width="0.8"/>
<text x="126.80" y="385.70" font-size="4.6" font-weight="bold" text-anchor="start" fill="#000">50</text>
<line x1="19.5" y1="393.80" x2="21.0" y2="393.80" stroke="#9a9a9a" stroke-width="0.8"/>
<line x1="124.8" y1="393.80" x2="123.3" y2="393.80" stroke="#9a9a9a" stroke-width="0.8"/>
<text x="126.80" y="395.40" font-size="4.6" font-weight="bold" text-anchor="start" fill="#000">48</text>
<line x1="19.5" y1="403.50" x2="21.0" y2="403.50" stroke="#9a9a9a" stroke-width="0.8"/>
<line x1="124.8" y1="403.50" x2="123.3" y2="403.50" stroke="#9a9a9a" stroke-width="0.8"/>
<text x="126.80" y="405.10" font-size="4.6" font-weight="bold" text-anchor="start" fill="#000">46</text>
<line x1="19.5" y1="413.20" x2="21.0" y2="413.20" stroke="#9a9a9a" stroke-width="0.8"/>
<line x1="124.8" y1="413.20" x2="123.3" y2="413.20" stroke="#9a9a9a" stroke-width="0.8"/>
<text x="126.80" y="414.80" font-size="4.6" font-weight="bold" text-anchor="start" fill="#000">44</text>
<line x1="19.5" y1="422.90" x2="21.0" y2="422.90" stroke="#9a9a9a" stroke-width="0.8"/>
<line x1="124.8" y1="422.90" x2="123.3" y2="422.90" stroke="#9a9a9a" stroke-width="0.8"/>
<text x="126.80" y="424.50" font-size="4.6" font-weight="bold" text-anchor="start" fill="#000">42</text>
<line x1="19.5" y1="432.60" x2="21.0" y2="432.60" stroke="#9a9a9a" stroke-width="0.8"/>
<line x1="124.8" y1="432.60" x2="123.3" y2="432.60" stroke="#9a9a9a" stroke-width="0.8"/>
<text x="126.80" y="434.20" font-size="4.6" font-weight="bold" text-anchor="start" fill="#000">40</text>
<line x1="26.70" y1="438.3" x2="26.70" y2="436.8" stroke="#9a9a9a" stroke-width="0.8"/>
<line x1="26.70" y1="347.8" x2="26.70" y2="349.3" stroke="#9a9a9a" stroke-width="0.8"/>
<text x="26.70" y="445.40" font-size="4.6" font-weight="bold" text-anchor="middle" fill="#000">40</text>
<line x1="54.10" y1="438.3" x2="54.10" y2="436.8" stroke="#9a9a9a" stroke-width="0.8"/>
<line x1="54.10" y1="347.8" x2="54.10" y2="349.3" stroke="#9a9a9a" stroke-width="0.8"/>
<text x="54.10" y="445.40" font-size="4.6" font-weight="bold" text-anchor="middle" fill="#000">45</text>
<line x1="81.50" y1="438.3" x2="81.50" y2="436.8" stroke="#9a9a9a" stroke-width="0.8"/>
<line x1="81.50" y1="347.8" x2="81.50" y2="349.3" stroke="#9a9a9a" stroke-width="0.8"/>
<text x="81.50" y="445.40" font-size="4.6" font-weight="bold" text-anchor="middle" fill="#000">50</text>
<line x1="108.90" y1="438.3" x2="108.90" y2="436.8" stroke="#9a9a9a" stroke-width="0.8"/>
<line x1="108.90" y1="347.8" x2="108.90" y2="349.3" stroke="#9a9a9a" stroke-width="0.8"/>
<text x="108.90" y="445.40" font-size="4.6" font-weight="bold" text-anchor="middle" fill="#000">55</text>
<text x="72.15" y="453.00" font-size="5.5" font-weight="bold" text-anchor="middle" fill="#000">• Na/K dynamics</text>
<text x="138.60" y="392.80" font-size="5.5" font-weight="bold" text-anchor="middle" fill="#000" transform="rotate(-90 138.60 392.80)">• Na/K dynamics</text>
<circle cx="93.0" cy="358.6" r="1.15" fill="#a0a0ff" stroke="#6464ff" stroke-width="0.75"/>
<circle cx="96.6" cy="358.6" r="1.15" fill="#a0a0ff" stroke="#6464ff" stroke-width="0.75"/>
<circle cx="85.0" cy="364.0" r="1.15" fill="#a0a0ff" stroke="#6464ff" stroke-width="0.75"/>
<circle cx="75.5" cy="366.0" r="1.15" fill="#a0a0ff" stroke="#6464ff" stroke-width="0.75"/>
<circle cx="108.0" cy="367.0" r="1.15" fill="#a0a0ff" stroke="#6464ff" stroke-width="0.75"/>
<circle cx="112.0" cy="372.0" r="1.15" fill="#a0a0ff" stroke="#6464ff" stroke-width="0.75"/>
<circle cx="21.0" cy="429.0" r="1.15" fill="#a0a0ff" stroke="#6464ff" stroke-width="0.75"/>
<circle cx="29.0" cy="425.0" r="1.15" fill="#a0a0ff" stroke="#6464ff" stroke-width="0.75"/>
<circle cx="40.6" cy="426.6" r="1.15" fill="#a0a0ff" stroke="#6464ff" stroke-width="0.75"/>
<circle cx="52.0" cy="418.6" r="1.15" fill="#a0a0ff" stroke="#6464ff" stroke-width="0.75"/>
<circle cx="56.0" cy="421.0" r="1.15" fill="#a0a0ff" stroke="#6464ff" stroke-width="0.75"/>
<circle cx="59.4" cy="422.0" r="1.15" fill="#a0a0ff" stroke="#6464ff" stroke-width="0.75"/>
<circle cx="66.0" cy="419.0" r="1.15" fill="#a0a0ff" stroke="#6464ff" stroke-width="0.75"/>
<circle cx="74.0" cy="415.0" r="1.15" fill="#a0a0ff" stroke="#6464ff" stroke-width="0.75"/>
<circle cx="77.4" cy="418.6" r="1.15" fill="#a0a0ff" stroke="#6464ff" stroke-width="0.75"/>
<circle cx="89.4" cy="412.6" r="1.15" fill="#a0a0ff" stroke="#6464ff" stroke-width="0.75"/>
<circle cx="97.4" cy="406.0" r="1.15" fill="#a0a0ff" stroke="#6464ff" stroke-width="0.75"/>
<circle cx="19.4" cy="408.0" r="1.15" fill="#a0a0ff" stroke="#6464ff" stroke-width="0.75"/>
<circle cx="22.0" cy="409.0" r="1.15" fill="#a0a0ff" stroke="#6464ff" stroke-width="0.75"/>
<circle cx="23.0" cy="398.0" r="1.15" fill="#a0a0ff" stroke="#6464ff" stroke-width="0.75"/>
<circle cx="28.0" cy="396.0" r="1.15" fill="#a0a0ff" stroke="#6464ff" stroke-width="0.75"/>
<circle cx="31.0" cy="400.0" r="1.15" fill="#a0a0ff" stroke="#6464ff" stroke-width="0.75"/>
<circle cx="35.0" cy="420.0" r="1.15" fill="#a0a0ff" stroke="#6464ff" stroke-width="0.75"/>
<circle cx="45.0" cy="415.0" r="1.15" fill="#a0a0ff" stroke="#6464ff" stroke-width="0.75"/>
<circle cx="48.0" cy="412.0" r="1.15" fill="#a0a0ff" stroke="#6464ff" stroke-width="0.75"/>
<circle cx="62.0" cy="410.0" r="1.15" fill="#a0a0ff" stroke="#6464ff" stroke-width="0.75"/>
<circle cx="71.6" cy="399.8" r="1.15" fill="#a0a0ff" stroke="#6464ff" stroke-width="0.75"/>
<circle cx="60.5" cy="394.5" r="1.15" fill="#a0a0ff" stroke="#6464ff" stroke-width="0.75"/>
<circle cx="37.4" cy="399.5" r="1.15" fill="#a0a0ff" stroke="#6464ff" stroke-width="0.75"/>
<circle cx="81.0" cy="394.4" r="1.15" fill="#a0a0ff" stroke="#6464ff" stroke-width="0.75"/>
<circle cx="57.7" cy="407.4" r="1.15" fill="#a0a0ff" stroke="#6464ff" stroke-width="0.75"/>
<circle cx="53.0" cy="407.1" r="1.15" fill="#a0a0ff" stroke="#6464ff" stroke-width="0.75"/>
<circle cx="57.4" cy="383.8" r="1.15" fill="#a0a0ff" stroke="#6464ff" stroke-width="0.75"/>
<circle cx="54.3" cy="390.2" r="1.15" fill="#a0a0ff" stroke="#6464ff" stroke-width="0.75"/>
<circle cx="44.4" cy="400.3" r="1.15" fill="#a0a0ff" stroke="#6464ff" stroke-width="0.75"/>
<circle cx="110.5" cy="378.4" r="1.15" fill="#a0a0ff" stroke="#6464ff" stroke-width="0.75"/>
<circle cx="59.5" cy="398.3" r="1.15" fill="#a0a0ff" stroke="#6464ff" stroke-width="0.75"/>
<circle cx="65.2" cy="380.2" r="1.15" fill="#a0a0ff" stroke="#6464ff" stroke-width="0.75"/>
<circle cx="115.1" cy="371.5" r="1.15" fill="#a0a0ff" stroke="#6464ff" stroke-width="0.75"/>
<circle cx="59.1" cy="395.0" r="1.15" fill="#a0a0ff" stroke="#6464ff" stroke-width="0.75"/>
<circle cx="30.7" cy="400.3" r="1.15" fill="#a0a0ff" stroke="#6464ff" stroke-width="0.75"/>
<circle cx="115.0" cy="375.1" r="1.15" fill="#a0a0ff" stroke="#6464ff" stroke-width="0.75"/>
<circle cx="48.0" cy="396.7" r="1.15" fill="#a0a0ff" stroke="#6464ff" stroke-width="0.75"/>
<circle cx="99.9" cy="383.9" r="1.15" fill="#a0a0ff" stroke="#6464ff" stroke-width="0.75"/>
<circle cx="30.2" cy="410.0" r="1.15" fill="#a0a0ff" stroke="#6464ff" stroke-width="0.75"/>
<circle cx="59.9" cy="378.5" r="1.15" fill="#a0a0ff" stroke="#6464ff" stroke-width="0.75"/>
<circle cx="68.4" cy="390.8" r="1.15" fill="#a0a0ff" stroke="#6464ff" stroke-width="0.75"/>
<circle cx="116.6" cy="367.8" r="1.15" fill="#a0a0ff" stroke="#6464ff" stroke-width="0.75"/>
<circle cx="58.0" cy="412.3" r="1.15" fill="#a0a0ff" stroke="#6464ff" stroke-width="0.75"/>
<circle cx="64.4" cy="403.1" r="1.15" fill="#a0a0ff" stroke="#6464ff" stroke-width="0.75"/>
<circle cx="47.4" cy="400.2" r="1.15" fill="#a0a0ff" stroke="#6464ff" stroke-width="0.75"/>
<circle cx="79.5" cy="384.5" r="1.15" fill="#a0a0ff" stroke="#6464ff" stroke-width="0.75"/>
<circle cx="93.3" cy="389.4" r="1.15" fill="#a0a0ff" stroke="#6464ff" stroke-width="0.75"/>
<circle cx="93.6" cy="378.9" r="1.15" fill="#a0a0ff" stroke="#6464ff" stroke-width="0.75"/>
<circle cx="92.3" cy="385.8" r="1.15" fill="#a0a0ff" stroke="#6464ff" stroke-width="0.75"/>
<circle cx="109.3" cy="375.2" r="1.15" fill="#a0a0ff" stroke="#6464ff" stroke-width="0.75"/>
<circle cx="76.8" cy="384.1" r="1.15" fill="#a0a0ff" stroke="#6464ff" stroke-width="0.75"/>
<circle cx="116.1" cy="368.5" r="1.15" fill="#a0a0ff" stroke="#6464ff" stroke-width="0.75"/>
<circle cx="47.2" cy="425.8" r="1.15" fill="#a0a0ff" stroke="#6464ff" stroke-width="0.75"/>
<circle cx="92.3" cy="383.0" r="1.15" fill="#a0a0ff" stroke="#6464ff" stroke-width="0.75"/>
<circle cx="59.4" cy="381.3" r="1.15" fill="#a0a0ff" stroke="#6464ff" stroke-width="0.75"/>
<circle cx="72.8" cy="400.6" r="1.15" fill="#a0a0ff" stroke="#6464ff" stroke-width="0.75"/>
<circle cx="65.7" cy="397.6" r="1.15" fill="#a0a0ff" stroke="#6464ff" stroke-width="0.75"/>
<circle cx="31.5" cy="423.3" r="1.15" fill="#a0a0ff" stroke="#6464ff" stroke-width="0.75"/>
<circle cx="63.2" cy="396.5" r="1.15" fill="#a0a0ff" stroke="#6464ff" stroke-width="0.75"/>
<circle cx="69.1" cy="414.2" r="1.15" fill="#a0a0ff" stroke="#6464ff" stroke-width="0.75"/>
<circle cx="120.1" cy="380.2" r="1.15" fill="#a0a0ff" stroke="#6464ff" stroke-width="0.75"/>
<circle cx="27.1" cy="406.7" r="1.15" fill="#a0a0ff" stroke="#6464ff" stroke-width="0.75"/>
<circle cx="109.4" cy="368.7" r="1.15" fill="#a0a0ff" stroke="#6464ff" stroke-width="0.75"/>
<circle cx="74.5" cy="398.7" r="1.15" fill="#a0a0ff" stroke="#6464ff" stroke-width="0.75"/>
<circle cx="87.6" cy="371.9" r="1.15" fill="#a0a0ff" stroke="#6464ff" stroke-width="0.75"/>
<circle cx="71.6" cy="393.6" r="1.15" fill="#a0a0ff" stroke="#6464ff" stroke-width="0.75"/>
<circle cx="107.5" cy="375.3" r="1.15" fill="#a0a0ff" stroke="#6464ff" stroke-width="0.75"/>
<circle cx="75.8" cy="356.9" r="1.15" fill="#a0a0ff" stroke="#6464ff" stroke-width="0.75"/>
<circle cx="54.1" cy="403.3" r="1.15" fill="#a0a0ff" stroke="#6464ff" stroke-width="0.75"/>
<circle cx="88.9" cy="374.0" r="1.15" fill="#a0a0ff" stroke="#6464ff" stroke-width="0.75"/>
<circle cx="119.3" cy="360.2" r="1.15" fill="#a0a0ff" stroke="#6464ff" stroke-width="0.75"/>
<circle cx="109.7" cy="380.1" r="1.15" fill="#a0a0ff" stroke="#6464ff" stroke-width="0.75"/>
<circle cx="73.2" cy="372.2" r="1.15" fill="#a0a0ff" stroke="#6464ff" stroke-width="0.75"/>
<circle cx="84.1" cy="374.0" r="1.15" fill="#a0a0ff" stroke="#6464ff" stroke-width="0.75"/>
<circle cx="29.0" cy="379.9" r="1.15" fill="#a0a0ff" stroke="#6464ff" stroke-width="0.75"/>
<circle cx="68.3" cy="407.2" r="1.15" fill="#a0a0ff" stroke="#6464ff" stroke-width="0.75"/>
<circle cx="22.5" cy="426.8" r="1.15" fill="#a0a0ff" stroke="#6464ff" stroke-width="0.75"/>
<circle cx="91.1" cy="366.3" r="1.15" fill="#a0a0ff" stroke="#6464ff" stroke-width="0.75"/>
<circle cx="42.6" cy="393.1" r="1.15" fill="#a0a0ff" stroke="#6464ff" stroke-width="0.75"/>
<circle cx="20.1" cy="431.6" r="1.15" fill="#a0a0ff" stroke="#6464ff" stroke-width="0.75"/>
<circle cx="107.1" cy="385.0" r="1.15" fill="#a0a0ff" stroke="#6464ff" stroke-width="0.75"/>
<circle cx="64.6" cy="400.5" r="1.15" fill="#a0a0ff" stroke="#6464ff" stroke-width="0.75"/>
<circle cx="77.2" cy="376.5" r="1.15" fill="#a0a0ff" stroke="#6464ff" stroke-width="0.75"/>
<circle cx="55.4" cy="394.5" r="1.15" fill="#a0a0ff" stroke="#6464ff" stroke-width="0.75"/>
<circle cx="67.5" cy="392.2" r="1.15" fill="#a0a0ff" stroke="#6464ff" stroke-width="0.75"/>
<circle cx="120.3" cy="381.8" r="1.15" fill="#a0a0ff" stroke="#6464ff" stroke-width="0.75"/>
<circle cx="88.6" cy="384.4" r="1.15" fill="#a0a0ff" stroke="#6464ff" stroke-width="0.75"/>
<circle cx="55.6" cy="391.0" r="1.15" fill="#a0a0ff" stroke="#6464ff" stroke-width="0.75"/>
<circle cx="60.9" cy="392.6" r="1.15" fill="#a0a0ff" stroke="#6464ff" stroke-width="0.75"/>
<circle cx="120.0" cy="379.0" r="1.15" fill="#a0a0ff" stroke="#6464ff" stroke-width="0.75"/>
<circle cx="93.5" cy="378.4" r="1.15" fill="#a0a0ff" stroke="#6464ff" stroke-width="0.75"/>
<circle cx="76.4" cy="368.6" r="1.15" fill="#a0a0ff" stroke="#6464ff" stroke-width="0.75"/>
<circle cx="76.4" cy="377.0" r="1.15" fill="#a0a0ff" stroke="#6464ff" stroke-width="0.75"/>
<circle cx="109.1" cy="367.5" r="1.15" fill="#a0a0ff" stroke="#6464ff" stroke-width="0.75"/>
<circle cx="60.5" cy="413.4" r="1.15" fill="#a0a0ff" stroke="#6464ff" stroke-width="0.75"/>
<circle cx="84.5" cy="363.9" r="1.15" fill="#a0a0ff" stroke="#6464ff" stroke-width="0.75"/>
<circle cx="80.4" cy="373.6" r="1.15" fill="#a0a0ff" stroke="#6464ff" stroke-width="0.75"/>
<circle cx="44.9" cy="390.9" r="1.15" fill="#a0a0ff" stroke="#6464ff" stroke-width="0.75"/>
<circle cx="76.5" cy="383.8" r="1.15" fill="#a0a0ff" stroke="#6464ff" stroke-width="0.75"/>
<circle cx="69.1" cy="391.9" r="1.15" fill="#a0a0ff" stroke="#6464ff" stroke-width="0.75"/>
<circle cx="35.0" cy="412.5" r="1.15" fill="#a0a0ff" stroke="#6464ff" stroke-width="0.75"/>
<circle cx="117.3" cy="394.1" r="1.15" fill="#a0a0ff" stroke="#6464ff" stroke-width="0.75"/>
<circle cx="86.0" cy="380.2" r="1.15" fill="#a0a0ff" stroke="#6464ff" stroke-width="0.75"/>
<circle cx="118.8" cy="379.8" r="1.15" fill="#a0a0ff" stroke="#6464ff" stroke-width="0.75"/>
<circle cx="112.2" cy="382.6" r="1.15" fill="#a0a0ff" stroke="#6464ff" stroke-width="0.75"/>
<circle cx="119.2" cy="370.8" r="1.15" fill="#a0a0ff" stroke="#6464ff" stroke-width="0.75"/>
<circle cx="81.1" cy="380.4" r="1.15" fill="#a0a0ff" stroke="#6464ff" stroke-width="0.75"/>
<circle cx="71.0" cy="391.1" r="1.15" fill="#a0a0ff" stroke="#6464ff" stroke-width="0.75"/>
<circle cx="79.6" cy="390.1" r="1.15" fill="#a0a0ff" stroke="#6464ff" stroke-width="0.75"/>
<circle cx="47.4" cy="396.5" r="1.15" fill="#a0a0ff" stroke="#6464ff" stroke-width="0.75"/>
<circle cx="75.0" cy="390.5" r="1.15" fill="#a0a0ff" stroke="#6464ff" stroke-width="0.75"/>
<circle cx="72.0" cy="396.3" r="1.15" fill="#a0a0ff" stroke="#6464ff" stroke-width="0.75"/>
<circle cx="116.6" cy="381.5" r="1.15" fill="#a0a0ff" stroke="#6464ff" stroke-width="0.75"/>
<circle cx="85.5" cy="391.8" r="1.15" fill="#a0a0ff" stroke="#6464ff" stroke-width="0.75"/>
<circle cx="64.2" cy="411.2" r="1.15" fill="#a0a0ff" stroke="#6464ff" stroke-width="0.75"/>
<circle cx="68.0" cy="371.9" r="1.15" fill="#a0a0ff" stroke="#6464ff" stroke-width="0.75"/>
<circle cx="49.3" cy="409.4" r="1.15" fill="#a0a0ff" stroke="#6464ff" stroke-width="0.75"/>
<circle cx="61.9" cy="399.3" r="1.15" fill="#a0a0ff" stroke="#6464ff" stroke-width="0.75"/>
<circle cx="79.2" cy="384.1" r="1.15" fill="#a0a0ff" stroke="#6464ff" stroke-width="0.75"/>
<circle cx="59.9" cy="397.8" r="1.15" fill="#a0a0ff" stroke="#6464ff" stroke-width="0.75"/>
<circle cx="113.7" cy="373.3" r="1.15" fill="#a0a0ff" stroke="#6464ff" stroke-width="0.75"/>
<circle cx="54.8" cy="406.2" r="1.15" fill="#a0a0ff" stroke="#6464ff" stroke-width="0.75"/>
<circle cx="76.8" cy="384.4" r="1.15" fill="#a0a0ff" stroke="#6464ff" stroke-width="0.75"/>
<circle cx="105.5" cy="366.7" r="1.15" fill="#a0a0ff" stroke="#6464ff" stroke-width="0.75"/>
<circle cx="80.2" cy="369.7" r="1.15" fill="#a0a0ff" stroke="#6464ff" stroke-width="0.75"/>
<circle cx="110.8" cy="369.9" r="1.15" fill="#a0a0ff" stroke="#6464ff" stroke-width="0.75"/>
<circle cx="88.7" cy="369.6" r="1.15" fill="#a0a0ff" stroke="#6464ff" stroke-width="0.75"/>
<circle cx="117.3" cy="392.7" r="1.15" fill="#a0a0ff" stroke="#6464ff" stroke-width="0.75"/>
<circle cx="37.0" cy="396.2" r="1.15" fill="#a0a0ff" stroke="#6464ff" stroke-width="0.75"/>
<circle cx="93.1" cy="380.1" r="1.15" fill="#a0a0ff" stroke="#6464ff" stroke-width="0.75"/>
<circle cx="72.3" cy="379.1" r="1.15" fill="#a0a0ff" stroke="#6464ff" stroke-width="0.75"/>
<circle cx="104.3" cy="397.1" r="1.15" fill="#a0a0ff" stroke="#6464ff" stroke-width="0.75"/>
<circle cx="102.5" cy="387.0" r="1.15" fill="#a0a0ff" stroke="#6464ff" stroke-width="0.75"/>
<circle cx="51.0" cy="393.6" r="1.15" fill="#a0a0ff" stroke="#6464ff" stroke-width="0.75"/>
<circle cx="73.7" cy="386.2" r="1.15" fill="#a0a0ff" stroke="#6464ff" stroke-width="0.75"/>
<circle cx="75.9" cy="384.0" r="1.15" fill="#a0a0ff" stroke="#6464ff" stroke-width="0.75"/>
<circle cx="68.3" cy="404.4" r="1.15" fill="#a0a0ff" stroke="#6464ff" stroke-width="0.75"/>
<circle cx="49.8" cy="399.3" r="1.15" fill="#a0a0ff" stroke="#6464ff" stroke-width="0.75"/>
<circle cx="121.4" cy="376.5" r="1.15" fill="#a0a0ff" stroke="#6464ff" stroke-width="0.75"/>
<circle cx="98.4" cy="381.7" r="1.15" fill="#a0a0ff" stroke="#6464ff" stroke-width="0.75"/>
<circle cx="103.4" cy="372.5" r="1.15" fill="#a0a0ff" stroke="#6464ff" stroke-width="0.75"/>
<circle cx="96.3" cy="373.0" r="1.15" fill="#a0a0ff" stroke="#6464ff" stroke-width="0.75"/>
<circle cx="25.0" cy="401.2" r="1.15" fill="#a0a0ff" stroke="#6464ff" stroke-width="0.75"/>
<circle cx="56.9" cy="396.5" r="1.15" fill="#a0a0ff" stroke="#6464ff" stroke-width="0.75"/>
<circle cx="72.6" cy="383.1" r="1.15" fill="#a0a0ff" stroke="#6464ff" stroke-width="0.75"/>
<circle cx="87.2" cy="393.1" r="1.15" fill="#a0a0ff" stroke="#6464ff" stroke-width="0.75"/>
<circle cx="115.8" cy="365.9" r="1.15" fill="#a0a0ff" stroke="#6464ff" stroke-width="0.75"/>
<circle cx="103.3" cy="374.9" r="1.15" fill="#a0a0ff" stroke="#6464ff" stroke-width="0.75"/>
<circle cx="38.4" cy="384.1" r="1.15" fill="#a0a0ff" stroke="#6464ff" stroke-width="0.75"/>
<circle cx="51.7" cy="399.1" r="1.15" fill="#a0a0ff" stroke="#6464ff" stroke-width="0.75"/>
<circle cx="124.4" cy="370.7" r="1.15" fill="#a0a0ff" stroke="#6464ff" stroke-width="0.75"/>
<circle cx="83.8" cy="382.8" r="1.15" fill="#a0a0ff" stroke="#6464ff" stroke-width="0.75"/>
<circle cx="117.4" cy="376.5" r="1.15" fill="#a0a0ff" stroke="#6464ff" stroke-width="0.75"/>
<circle cx="31.4" cy="404.4" r="1.15" fill="#a0a0ff" stroke="#6464ff" stroke-width="0.75"/>
<circle cx="111.1" cy="376.6" r="1.15" fill="#a0a0ff" stroke="#6464ff" stroke-width="0.75"/>
<circle cx="99.2" cy="385.1" r="1.15" fill="#a0a0ff" stroke="#6464ff" stroke-width="0.75"/>
<circle cx="85.1" cy="396.2" r="1.15" fill="#a0a0ff" stroke="#6464ff" stroke-width="0.75"/>
<circle cx="100.1" cy="390.2" r="1.15" fill="#a0a0ff" stroke="#6464ff" stroke-width="0.75"/>
<circle cx="111.3" cy="368.4" r="1.15" fill="#a0a0ff" stroke="#6464ff" stroke-width="0.75"/>
<circle cx="104.4" cy="374.4" r="1.15" fill="#a0a0ff" stroke="#6464ff" stroke-width="0.75"/>
<circle cx="59.6" cy="401.1" r="1.15" fill="#a0a0ff" stroke="#6464ff" stroke-width="0.75"/>
<circle cx="95.8" cy="396.0" r="1.15" fill="#a0a0ff" stroke="#6464ff" stroke-width="0.75"/>
<circle cx="53.4" cy="380.9" r="1.15" fill="#a0a0ff" stroke="#6464ff" stroke-width="0.75"/>
<circle cx="73.9" cy="382.9" r="1.15" fill="#a0a0ff" stroke="#6464ff" stroke-width="0.75"/>
<circle cx="91.1" cy="371.2" r="1.15" fill="#a0a0ff" stroke="#6464ff" stroke-width="0.75"/>
<circle cx="54.5" cy="382.6" r="1.15" fill="#a0a0ff" stroke="#6464ff" stroke-width="0.75"/>
<circle cx="115.3" cy="373.4" r="1.15" fill="#a0a0ff" stroke="#6464ff" stroke-width="0.75"/>
<circle cx="120.6" cy="397.3" r="1.15" fill="#a0a0ff" stroke="#6464ff" stroke-width="0.75"/>
<circle cx="54.8" cy="393.9" r="1.15" fill="#a0a0ff" stroke="#6464ff" stroke-width="0.75"/>
<circle cx="101.3" cy="397.5" r="1.15" fill="#a0a0ff" stroke="#6464ff" stroke-width="0.75"/>
<circle cx="84.7" cy="364.6" r="1.15" fill="#a0a0ff" stroke="#6464ff" stroke-width="0.75"/>
<circle cx="81.1" cy="389.0" r="1.15" fill="#a0a0ff" stroke="#6464ff" stroke-width="0.75"/>
<circle cx="102.5" cy="377.2" r="1.15" fill="#a0a0ff" stroke="#6464ff" stroke-width="0.75"/>
<circle cx="82.4" cy="375.3" r="1.15" fill="#a0a0ff" stroke="#6464ff" stroke-width="0.75"/>
<circle cx="86.8" cy="393.8" r="1.15" fill="#a0a0ff" stroke="#6464ff" stroke-width="0.75"/>
<circle cx="61.6" cy="397.6" r="1.15" fill="#a0a0ff" stroke="#6464ff" stroke-width="0.75"/>
<circle cx="85.9" cy="381.5" r="1.15" fill="#a0a0ff" stroke="#6464ff" stroke-width="0.75"/>
<circle cx="60.3" cy="375.7" r="1.15" fill="#a0a0ff" stroke="#6464ff" stroke-width="0.75"/>
<circle cx="42.2" cy="381.6" r="1.15" fill="#a0a0ff" stroke="#6464ff" stroke-width="0.75"/>
<circle cx="46.2" cy="362.5" r="1.15" fill="#a0a0ff" stroke="#6464ff" stroke-width="0.75"/>
<circle cx="55.6" cy="403.4" r="1.15" fill="#a0a0ff" stroke="#6464ff" stroke-width="0.75"/>
<circle cx="109.8" cy="384.6" r="1.15" fill="#a0a0ff" stroke="#6464ff" stroke-width="0.75"/>
<circle cx="97.6" cy="376.6" r="1.15" fill="#a0a0ff" stroke="#6464ff" stroke-width="0.75"/>
<circle cx="40.2" cy="405.3" r="1.15" fill="#a0a0ff" stroke="#6464ff" stroke-width="0.75"/>
<circle cx="67.7" cy="373.3" r="1.15" fill="#a0a0ff" stroke="#6464ff" stroke-width="0.75"/>
<circle cx="94.6" cy="388.1" r="1.15" fill="#a0a0ff" stroke="#6464ff" stroke-width="0.75"/>
<circle cx="112.8" cy="381.4" r="1.15" fill="#a0a0ff" stroke="#6464ff" stroke-width="0.75"/>
<circle cx="77.9" cy="381.0" r="1.15" fill="#a0a0ff" stroke="#6464ff" stroke-width="0.75"/>
<circle cx="52.8" cy="384.1" r="1.15" fill="#a0a0ff" stroke="#6464ff" stroke-width="0.75"/>
<circle cx="62.1" cy="399.5" r="1.15" fill="#a0a0ff" stroke="#6464ff" stroke-width="0.75"/>
<circle cx="91.2" cy="378.9" r="1.15" fill="#a0a0ff" stroke="#6464ff" stroke-width="0.75"/>
<circle cx="33.4" cy="404.4" r="1.15" fill="#a0a0ff" stroke="#6464ff" stroke-width="0.75"/>
<circle cx="71.0" cy="388.4" r="1.15" fill="#a0a0ff" stroke="#6464ff" stroke-width="0.75"/>
<circle cx="55.8" cy="404.1" r="1.15" fill="#a0a0ff" stroke="#6464ff" stroke-width="0.75"/>
<polygon points="140.4,351.1 140.4,351.1 140.6,351.5 140.8,352.0 141.1,352.7 141.4,353.4 141.7,354.2 142.1,355.0 142.6,355.8 143.1,356.6 143.7,357.4 144.3,358.3 145.0,359.3 145.7,360.2 146.5,361.2 147.3,362.1 148.1,363.0 148.9,363.9 149.7,364.7 150.5,365.5 151.4,366.2 152.2,366.9 153.1,367.6 154.1,368.3 155.0,369.0 156.1,369.7 157.2,370.4 158.4,371.0 159.6,371.7 160.9,372.3 162.2,373.0 163.6,373.6 164.9,374.2 166.3,374.8 167.7,375.4 169.2,375.9 170.7,376.5 172.2,377.0 173.7,377.6 175.2,378.1 176.6,378.6 177.9,379.1 179.2,379.6 180.4,380.0 181.6,380.5 182.8,380.9 183.9,381.4 184.9,381.8 185.8,382.3 186.6,382.7 187.3,383.2 187.9,383.6 188.5,384.1 188.9,384.6 189.3,385.0 189.6,385.5 189.7,385.9 189.8,386.4 189.7,386.8 189.6,387.3 189.3,387.7 188.9,388.1 188.5,388.5 187.9,389.0 187.3,389.5 186.6,390.0 185.8,390.6 184.8,391.2 183.8,391.8 182.7,392.4 181.5,393.1 180.3,393.7 179.1,394.4 177.9,395.1 176.7,395.8 175.4,396.5 174.1,397.2 172.7,397.9 171.4,398.6 170.1,399.4 168.8,400.1 167.7,400.9 166.6,401.7 165.6,402.5 164.7,403.3 163.7,404.1 162.9,404.9 162.0,405.8 161.2,406.6 160.5,407.4 159.8,408.2 159.2,409.0 158.6,409.8 158.1,410.6 157.6,411.5 157.1,412.3 156.6,413.1 156.1,413.9 155.6,414.7 155.0,415.6 154.5,416.4 153.9,417.2 153.4,418.1 152.9,418.9 152.3,419.7 151.8,420.5 151.3,421.3 150.7,422.0 150.2,422.8 149.6,423.5 149.0,424.2 148.5,424.9 147.9,425.6 147.4,426.3 146.8,427.0 146.3,427.6 145.7,428.3 145.1,428.9 144.6,429.6 144.1,430.2 143.6,430.8 143.1,431.4 142.7,432.0 142.2,432.6 141.9,433.3 141.5,433.9 141.1,434.4 140.8,434.9 140.6,435.4 140.4,435.7 140.4,435.7" fill="#ccccff" stroke="none"/>
<line x1="140.4" y1="347.8" x2="140.4" y2="438.3" stroke="#9a9a9a" stroke-width="1"/>
<line x1="140.4" y1="351.10" x2="140.4" y2="435.70" stroke="#1c1cf4" stroke-width="1.1"/>
<polyline points="140.4,351.1 140.6,351.5 140.8,352.0 141.1,352.7 141.4,353.4 141.7,354.2 142.1,355.0 142.6,355.8 143.1,356.6 143.7,357.4 144.3,358.3 145.0,359.3 145.7,360.2 146.5,361.2 147.3,362.1 148.1,363.0 148.9,363.9 149.7,364.7 150.5,365.5 151.4,366.2 152.2,366.9 153.1,367.6 154.1,368.3 155.0,369.0 156.1,369.7 157.2,370.4 158.4,371.0 159.6,371.7 160.9,372.3 162.2,373.0 163.6,373.6 164.9,374.2 166.3,374.8 167.7,375.4 169.2,375.9 170.7,376.5 172.2,377.0 173.7,377.6 175.2,378.1 176.6,378.6 177.9,379.1 179.2,379.6 180.4,380.0 181.6,380.5 182.8,380.9 183.9,381.4 184.9,381.8 185.8,382.3 186.6,382.7 187.3,383.2 187.9,383.6 188.5,384.1 188.9,384.6 189.3,385.0 189.6,385.5 189.7,385.9 189.8,386.4 189.7,386.8 189.6,387.3 189.3,387.7 188.9,388.1 188.5,388.5 187.9,389.0 187.3,389.5 186.6,390.0 185.8,390.6 184.8,391.2 183.8,391.8 182.7,392.4 181.5,393.1 180.3,393.7 179.1,394.4 177.9,395.1 176.7,395.8 175.4,396.5 174.1,397.2 172.7,397.9 171.4,398.6 170.1,399.4 168.8,400.1 167.7,400.9 166.6,401.7 165.6,402.5 164.7,403.3 163.7,404.1 162.9,404.9 162.0,405.8 161.2,406.6 160.5,407.4 159.8,408.2 159.2,409.0 158.6,409.8 158.1,410.6 157.6,411.5 157.1,412.3 156.6,413.1 156.1,413.9 155.6,414.7 155.0,415.6 154.5,416.4 153.9,417.2 153.4,418.1 152.9,418.9 152.3,419.7 151.8,420.5 151.3,421.3 150.7,422.0 150.2,422.8 149.6,423.5 149.0,424.2 148.5,424.9 147.9,425.6 147.4,426.3 146.8,427.0 146.3,427.6 145.7,428.3 145.1,428.9 144.6,429.6 144.1,430.2 143.6,430.8 143.1,431.4 142.7,432.0 142.2,432.6 141.9,433.3 141.5,433.9 141.1,434.4 140.8,434.9 140.6,435.4 140.4,435.7" fill="none" stroke="#fff" stroke-width="2.8" stroke-linejoin="round"/>
<line x1="140.4" y1="351.10" x2="140.4" y2="435.70" stroke="#1c1cf4" stroke-width="1.1"/>
<polyline points="140.4,351.1 140.6,351.5 140.8,352.0 141.1,352.7 141.4,353.4 141.7,354.2 142.1,355.0 142.6,355.8 143.1,356.6 143.7,357.4 144.3,358.3 145.0,359.3 145.7,360.2 146.5,361.2 147.3,362.1 148.1,363.0 148.9,363.9 149.7,364.7 150.5,365.5 151.4,366.2 152.2,366.9 153.1,367.6 154.1,368.3 155.0,369.0 156.1,369.7 157.2,370.4 158.4,371.0 159.6,371.7 160.9,372.3 162.2,373.0 163.6,373.6 164.9,374.2 166.3,374.8 167.7,375.4 169.2,375.9 170.7,376.5 172.2,377.0 173.7,377.6 175.2,378.1 176.6,378.6 177.9,379.1 179.2,379.6 180.4,380.0 181.6,380.5 182.8,380.9 183.9,381.4 184.9,381.8 185.8,382.3 186.6,382.7 187.3,383.2 187.9,383.6 188.5,384.1 188.9,384.6 189.3,385.0 189.6,385.5 189.7,385.9 189.8,386.4 189.7,386.8 189.6,387.3 189.3,387.7 188.9,388.1 188.5,388.5 187.9,389.0 187.3,389.5 186.6,390.0 185.8,390.6 184.8,391.2 183.8,391.8 182.7,392.4 181.5,393.1 180.3,393.7 179.1,394.4 177.9,395.1 176.7,395.8 175.4,396.5 174.1,397.2 172.7,397.9 171.4,398.6 170.1,399.4 168.8,400.1 167.7,400.9 166.6,401.7 165.6,402.5 164.7,403.3 163.7,404.1 162.9,404.9 162.0,405.8 161.2,406.6 160.5,407.4 159.8,408.2 159.2,409.0 158.6,409.8 158.1,410.6 157.6,411.5 157.1,412.3 156.6,413.1 156.1,413.9 155.6,414.7 155.0,415.6 154.5,416.4 153.9,417.2 153.4,418.1 152.9,418.9 152.3,419.7 151.8,420.5 151.3,421.3 150.7,422.0 150.2,422.8 149.6,423.5 149.0,424.2 148.5,424.9 147.9,425.6 147.4,426.3 146.8,427.0 146.3,427.6 145.7,428.3 145.1,428.9 144.6,429.6 144.1,430.2 143.6,430.8 143.1,431.4 142.7,432.0 142.2,432.6 141.9,433.3 141.5,433.9 141.1,434.4 140.8,434.9 140.6,435.4 140.4,435.7" fill="none" stroke="#1c1cf4" stroke-width="1.35" stroke-linejoin="round"/>
<polygon points="19.5,457.4 19.5,463.4 20.1,463.7 20.8,464.0 21.7,464.4 22.8,464.9 23.8,465.4 24.9,465.9 26.0,466.5 27.0,467.0 28.0,467.6 29.0,468.2 30.0,468.9 31.0,469.5 32.0,470.2 33.0,470.9 34.0,471.5 35.0,472.0 36.0,472.5 37.0,472.9 38.0,473.3 39.0,473.6 40.0,474.0 41.0,474.3 42.0,474.6 43.0,475.0 44.0,475.4 45.0,475.7 46.0,476.0 47.0,476.3 48.0,476.7 49.0,477.0 50.0,477.5 51.0,478.0 52.0,478.6 53.0,479.3 54.0,480.1 55.0,480.9 56.0,481.7 57.0,482.5 58.0,483.3 59.0,484.0 60.0,484.6 61.0,485.3 62.0,485.9 63.0,486.5 64.0,487.0 65.0,487.5 66.0,488.0 67.0,488.4 68.0,488.8 69.0,489.1 70.0,489.4 71.0,489.6 72.0,489.8 73.0,489.9 74.0,490.0 75.0,490.0 76.0,489.9 77.0,489.8 78.0,489.6 79.0,489.4 80.0,489.1 81.0,488.8 82.0,488.4 83.0,488.0 84.0,487.5 85.0,487.0 86.0,486.4 87.0,485.8 88.0,485.1 89.0,484.4 90.0,483.7 91.0,483.0 92.0,482.3 93.0,481.5 94.0,480.8 95.0,480.0 96.0,479.2 97.0,478.5 98.0,477.7 99.0,477.0 100.0,476.3 101.0,475.7 102.0,475.0 103.0,474.4 104.0,473.8 105.0,473.2 106.0,472.6 107.0,472.0 108.0,471.4 109.0,470.9 109.9,470.3 110.9,469.8 111.9,469.3 112.9,468.7 113.9,468.2 115.0,467.6 116.2,467.0 117.5,466.2 118.9,465.5 120.2,464.7 121.6,464.0 122.8,463.4 123.8,462.8 124.5,462.4 124.5,457.4" fill="#ccccff" stroke="none"/>
<polyline points="19.5,463.4 20.1,463.7 20.8,464.0 21.7,464.4 22.8,464.9 23.8,465.4 24.9,465.9 26.0,466.5 27.0,467.0 28.0,467.6 29.0,468.2 30.0,468.9 31.0,469.5 32.0,470.2 33.0,470.9 34.0,471.5 35.0,472.0 36.0,472.5 37.0,472.9 38.0,473.3 39.0,473.6 40.0,474.0 41.0,474.3 42.0,474.6 43.0,475.0 44.0,475.4 45.0,475.7 46.0,476.0 47.0,476.3 48.0,476.7 49.0,477.0 50.0,477.5 51.0,478.0 52.0,478.6 53.0,479.3 54.0,480.1 55.0,480.9 56.0,481.7 57.0,482.5 58.0,483.3 59.0,484.0 60.0,484.6 61.0,485.3 62.0,485.9 63.0,486.5 64.0,487.0 65.0,487.5 66.0,488.0 67.0,488.4 68.0,488.8 69.0,489.1 70.0,489.4 71.0,489.6 72.0,489.8 73.0,489.9 74.0,490.0 75.0,490.0 76.0,489.9 77.0,489.8 78.0,489.6 79.0,489.4 80.0,489.1 81.0,488.8 82.0,488.4 83.0,488.0 84.0,487.5 85.0,487.0 86.0,486.4 87.0,485.8 88.0,485.1 89.0,484.4 90.0,483.7 91.0,483.0 92.0,482.3 93.0,481.5 94.0,480.8 95.0,480.0 96.0,479.2 97.0,478.5 98.0,477.7 99.0,477.0 100.0,476.3 101.0,475.7 102.0,475.0 103.0,474.4 104.0,473.8 105.0,473.2 106.0,472.6 107.0,472.0 108.0,471.4 109.0,470.9 109.9,470.3 110.9,469.8 111.9,469.3 112.9,468.7 113.9,468.2 115.0,467.6 116.2,467.0 117.5,466.2 118.9,465.5 120.2,464.7 121.6,464.0 122.8,463.4 123.8,462.8 124.5,462.4" fill="none" stroke="#fff" stroke-width="2.8" stroke-linejoin="round"/>
<line x1="19.5" y1="457.4" x2="124.8" y2="457.4" stroke="#1c1cf4" stroke-width="1.5" opacity="0.8"/>
<polyline points="19.5,463.4 20.1,463.7 20.8,464.0 21.7,464.4 22.8,464.9 23.8,465.4 24.9,465.9 26.0,466.5 27.0,467.0 28.0,467.6 29.0,468.2 30.0,468.9 31.0,469.5 32.0,470.2 33.0,470.9 34.0,471.5 35.0,472.0 36.0,472.5 37.0,472.9 38.0,473.3 39.0,473.6 40.0,474.0 41.0,474.3 42.0,474.6 43.0,475.0 44.0,475.4 45.0,475.7 46.0,476.0 47.0,476.3 48.0,476.7 49.0,477.0 50.0,477.5 51.0,478.0 52.0,478.6 53.0,479.3 54.0,480.1 55.0,480.9 56.0,481.7 57.0,482.5 58.0,483.3 59.0,484.0 60.0,484.6 61.0,485.3 62.0,485.9 63.0,486.5 64.0,487.0 65.0,487.5 66.0,488.0 67.0,488.4 68.0,488.8 69.0,489.1 70.0,489.4 71.0,489.6 72.0,489.8 73.0,489.9 74.0,490.0 75.0,490.0 76.0,489.9 77.0,489.8 78.0,489.6 79.0,489.4 80.0,489.1 81.0,488.8 82.0,488.4 83.0,488.0 84.0,487.5 85.0,487.0 86.0,486.4 87.0,485.8 88.0,485.1 89.0,484.4 90.0,483.7 91.0,483.0 92.0,482.3 93.0,481.5 94.0,480.8 95.0,480.0 96.0,479.2 97.0,478.5 98.0,477.7 99.0,477.0 100.0,476.3 101.0,475.7 102.0,475.0 103.0,474.4 104.0,473.8 105.0,473.2 106.0,472.6 107.0,472.0 108.0,471.4 109.0,470.9 109.9,470.3 110.9,469.8 111.9,469.3 112.9,468.7 113.9,468.2 115.0,467.6 116.2,467.0 117.5,466.2 118.9,465.5 120.2,464.7 121.6,464.0 122.8,463.4 123.8,462.8 124.5,462.4" fill="none" stroke="#1c1cf4" stroke-width="1.35" stroke-linejoin="round"/>
<text x="191.40" y="341.60" font-size="15" font-weight="bold" text-anchor="start" fill="#000" stroke="#000" stroke-width="0.35">H</text>
<text x="264.35" y="343.40" font-size="7" font-weight="bold" text-anchor="middle" fill="#000">Average Potassium</text>
<rect x="211.7" y="347.8" width="105.30" height="90.50" fill="none" stroke="#9a9a9a" stroke-width="1"/>
<line x1="211.7" y1="363.80" x2="213.2" y2="363.80" stroke="#9a9a9a" stroke-width="0.8"/>
<line x1="317.0" y1="363.80" x2="315.5" y2="363.80" stroke="#9a9a9a" stroke-width="0.8"/>
<text x="319.00" y="365.40" font-size="4.6" font-weight="bold" text-anchor="start" fill="#000">150</text>
<line x1="211.7" y1="379.70" x2="213.2" y2="379.70" stroke="#9a9a9a" stroke-width="0.8"/>
<line x1="317.0" y1="379.70" x2="315.5" y2="379.70" stroke="#9a9a9a" stroke-width="0.8"/>
<text x="319.00" y="381.30" font-size="4.6" font-weight="bold" text-anchor="start" fill="#000">140</text>
<line x1="211.7" y1="395.60" x2="213.2" y2="395.60" stroke="#9a9a9a" stroke-width="0.8"/>
<line x1="317.0" y1="395.60" x2="315.5" y2="395.60" stroke="#9a9a9a" stroke-width="0.8"/>
<text x="319.00" y="397.20" font-size="4.6" font-weight="bold" text-anchor="start" fill="#000">130</text>
<line x1="211.7" y1="411.50" x2="213.2" y2="411.50" stroke="#9a9a9a" stroke-width="0.8"/>
<line x1="317.0" y1="411.50" x2="315.5" y2="411.50" stroke="#9a9a9a" stroke-width="0.8"/>
<text x="319.00" y="413.10" font-size="4.6" font-weight="bold" text-anchor="start" fill="#000">120</text>
<line x1="211.7" y1="427.40" x2="213.2" y2="427.40" stroke="#9a9a9a" stroke-width="0.8"/>
<line x1="317.0" y1="427.40" x2="315.5" y2="427.40" stroke="#9a9a9a" stroke-width="0.8"/>
<text x="319.00" y="429.00" font-size="4.6" font-weight="bold" text-anchor="start" fill="#000">110</text>
<line x1="224.70" y1="438.3" x2="224.70" y2="436.8" stroke="#9a9a9a" stroke-width="0.8"/>
<line x1="224.70" y1="347.8" x2="224.70" y2="349.3" stroke="#9a9a9a" stroke-width="0.8"/>
<text x="224.70" y="445.40" font-size="4.6" font-weight="bold" text-anchor="middle" fill="#000">110</text>
<line x1="243.20" y1="438.3" x2="243.20" y2="436.8" stroke="#9a9a9a" stroke-width="0.8"/>
<line x1="243.20" y1="347.8" x2="243.20" y2="349.3" stroke="#9a9a9a" stroke-width="0.8"/>
<text x="243.20" y="445.40" font-size="4.6" font-weight="bold" text-anchor="middle" fill="#000">120</text>
<line x1="261.70" y1="438.3" x2="261.70" y2="436.8" stroke="#9a9a9a" stroke-width="0.8"/>
<line x1="261.70" y1="347.8" x2="261.70" y2="349.3" stroke="#9a9a9a" stroke-width="0.8"/>
<text x="261.70" y="445.40" font-size="4.6" font-weight="bold" text-anchor="middle" fill="#000">130</text>
<line x1="280.20" y1="438.3" x2="280.20" y2="436.8" stroke="#9a9a9a" stroke-width="0.8"/>
<line x1="280.20" y1="347.8" x2="280.20" y2="349.3" stroke="#9a9a9a" stroke-width="0.8"/>
<text x="280.20" y="445.40" font-size="4.6" font-weight="bold" text-anchor="middle" fill="#000">140</text>
<line x1="298.70" y1="438.3" x2="298.70" y2="436.8" stroke="#9a9a9a" stroke-width="0.8"/>
<line x1="298.70" y1="347.8" x2="298.70" y2="349.3" stroke="#9a9a9a" stroke-width="0.8"/>
<text x="298.70" y="445.40" font-size="4.6" font-weight="bold" text-anchor="middle" fill="#000">150</text>
<text x="264.35" y="453.00" font-size="5.5" font-weight="bold" text-anchor="middle" fill="#000">• Na/K dynamics</text>
<text x="333.30" y="392.80" font-size="5.5" font-weight="bold" text-anchor="middle" fill="#000" transform="rotate(-90 333.30 392.80)">• Na/K dynamics</text>
<circle cx="227.3" cy="430.8" r="1.15" fill="#a8a8ff" stroke="#6464ff" stroke-width="0.75"/>
<circle cx="262.6" cy="392.5" r="1.15" fill="#a8a8ff" stroke="#6464ff" stroke-width="0.75"/>
<circle cx="272.1" cy="382.4" r="1.15" fill="#a8a8ff" stroke="#6464ff" stroke-width="0.75"/>
<circle cx="230.2" cy="431.2" r="1.15" fill="#a8a8ff" stroke="#6464ff" stroke-width="0.75"/>
<circle cx="245.3" cy="410.3" r="1.15" fill="#a8a8ff" stroke="#6464ff" stroke-width="0.75"/>
<circle cx="269.5" cy="396.0" r="1.15" fill="#a8a8ff" stroke="#6464ff" stroke-width="0.75"/>
<circle cx="252.7" cy="396.7" r="1.15" fill="#a8a8ff" stroke="#6464ff" stroke-width="0.75"/>
<circle cx="242.0" cy="416.3" r="1.15" fill="#a8a8ff" stroke="#6464ff" stroke-width="0.75"/>
<circle cx="294.8" cy="366.5" r="1.15" fill="#a8a8ff" stroke="#6464ff" stroke-width="0.75"/>
<circle cx="249.2" cy="401.9" r="1.15" fill="#a8a8ff" stroke="#6464ff" stroke-width="0.75"/>
<circle cx="256.9" cy="396.2" r="1.15" fill="#a8a8ff" stroke="#6464ff" stroke-width="0.75"/>
<circle cx="278.3" cy="382.3" r="1.15" fill="#a8a8ff" stroke="#6464ff" stroke-width="0.75"/>
<circle cx="254.7" cy="399.0" r="1.15" fill="#a8a8ff" stroke="#6464ff" stroke-width="0.75"/>
<circle cx="263.3" cy="399.9" r="1.15" fill="#a8a8ff" stroke="#6464ff" stroke-width="0.75"/>
<circle cx="263.7" cy="396.5" r="1.15" fill="#a8a8ff" stroke="#6464ff" stroke-width="0.75"/>
<circle cx="250.7" cy="401.7" r="1.15" fill="#a8a8ff" stroke="#6464ff" stroke-width="0.75"/>
<circle cx="309.5" cy="361.6" r="1.15" fill="#a8a8ff" stroke="#6464ff" stroke-width="0.75"/>
<circle cx="254.3" cy="400.5" r="1.15" fill="#a8a8ff" stroke="#6464ff" stroke-width="0.75"/>
<circle cx="282.7" cy="377.5" r="1.15" fill="#a8a8ff" stroke="#6464ff" stroke-width="0.75"/>
<circle cx="286.8" cy="371.2" r="1.15" fill="#a8a8ff" stroke="#6464ff" stroke-width="0.75"/>
<circle cx="310.3" cy="351.6" r="1.15" fill="#a8a8ff" stroke="#6464ff" stroke-width="0.75"/>
<circle cx="256.0" cy="395.5" r="1.15" fill="#a8a8ff" stroke="#6464ff" stroke-width="0.75"/>
<circle cx="281.4" cy="379.7" r="1.15" fill="#a8a8ff" stroke="#6464ff" stroke-width="0.75"/>
<circle cx="272.1" cy="392.7" r="1.15" fill="#a8a8ff" stroke="#6464ff" stroke-width="0.75"/>
<circle cx="313.4" cy="348.9" r="1.15" fill="#a8a8ff" stroke="#6464ff" stroke-width="0.75"/>
<circle cx="217.1" cy="437.4" r="1.15" fill="#a8a8ff" stroke="#6464ff" stroke-width="0.75"/>
<circle cx="256.4" cy="400.0" r="1.15" fill="#a8a8ff" stroke="#6464ff" stroke-width="0.75"/>
<circle cx="275.4" cy="381.0" r="1.15" fill="#a8a8ff" stroke="#6464ff" stroke-width="0.75"/>
<circle cx="231.4" cy="411.3" r="1.15" fill="#a8a8ff" stroke="#6464ff" stroke-width="0.75"/>
<circle cx="236.9" cy="423.0" r="1.15" fill="#a8a8ff" stroke="#6464ff" stroke-width="0.75"/>
<circle cx="310.1" cy="359.2" r="1.15" fill="#a8a8ff" stroke="#6464ff" stroke-width="0.75"/>
<circle cx="299.3" cy="365.6" r="1.15" fill="#a8a8ff" stroke="#6464ff" stroke-width="0.75"/>
<circle cx="298.2" cy="360.9" r="1.15" fill="#a8a8ff" stroke="#6464ff" stroke-width="0.75"/>
<circle cx="288.6" cy="375.9" r="1.15" fill="#a8a8ff" stroke="#6464ff" stroke-width="0.75"/>
<circle cx="292.2" cy="369.7" r="1.15" fill="#a8a8ff" stroke="#6464ff" stroke-width="0.75"/>
<circle cx="236.8" cy="411.3" r="1.15" fill="#a8a8ff" stroke="#6464ff" stroke-width="0.75"/>
<circle cx="284.3" cy="372.2" r="1.15" fill="#a8a8ff" stroke="#6464ff" stroke-width="0.75"/>
<circle cx="314.8" cy="349.1" r="1.15" fill="#a8a8ff" stroke="#6464ff" stroke-width="0.75"/>
<circle cx="227.5" cy="424.5" r="1.15" fill="#a8a8ff" stroke="#6464ff" stroke-width="0.75"/>
<circle cx="287.0" cy="370.9" r="1.15" fill="#a8a8ff" stroke="#6464ff" stroke-width="0.75"/>
<circle cx="311.5" cy="352.9" r="1.15" fill="#a8a8ff" stroke="#6464ff" stroke-width="0.75"/>
<circle cx="270.2" cy="392.8" r="1.15" fill="#a8a8ff" stroke="#6464ff" stroke-width="0.75"/>
<circle cx="265.8" cy="394.4" r="1.15" fill="#a8a8ff" stroke="#6464ff" stroke-width="0.75"/>
<circle cx="308.1" cy="360.9" r="1.15" fill="#a8a8ff" stroke="#6464ff" stroke-width="0.75"/>
<circle cx="281.2" cy="377.3" r="1.15" fill="#a8a8ff" stroke="#6464ff" stroke-width="0.75"/>
<circle cx="259.8" cy="403.2" r="1.15" fill="#a8a8ff" stroke="#6464ff" stroke-width="0.75"/>
<circle cx="226.5" cy="421.5" r="1.15" fill="#a8a8ff" stroke="#6464ff" stroke-width="0.75"/>
<circle cx="266.9" cy="388.4" r="1.15" fill="#a8a8ff" stroke="#6464ff" stroke-width="0.75"/>
<circle cx="247.8" cy="403.1" r="1.15" fill="#a8a8ff" stroke="#6464ff" stroke-width="0.75"/>
<circle cx="293.3" cy="371.6" r="1.15" fill="#a8a8ff" stroke="#6464ff" stroke-width="0.75"/>
<circle cx="285.7" cy="376.6" r="1.15" fill="#a8a8ff" stroke="#6464ff" stroke-width="0.75"/>
<circle cx="285.6" cy="376.9" r="1.15" fill="#a8a8ff" stroke="#6464ff" stroke-width="0.75"/>
<circle cx="239.9" cy="410.3" r="1.15" fill="#a8a8ff" stroke="#6464ff" stroke-width="0.75"/>
<circle cx="249.9" cy="404.4" r="1.15" fill="#a8a8ff" stroke="#6464ff" stroke-width="0.75"/>
<circle cx="251.9" cy="403.3" r="1.15" fill="#a8a8ff" stroke="#6464ff" stroke-width="0.75"/>
<circle cx="282.3" cy="379.9" r="1.15" fill="#a8a8ff" stroke="#6464ff" stroke-width="0.75"/>
<circle cx="305.0" cy="361.6" r="1.15" fill="#a8a8ff" stroke="#6464ff" stroke-width="0.75"/>
<circle cx="310.1" cy="354.8" r="1.15" fill="#a8a8ff" stroke="#6464ff" stroke-width="0.75"/>
<circle cx="226.4" cy="427.1" r="1.15" fill="#a8a8ff" stroke="#6464ff" stroke-width="0.75"/>
<circle cx="222.7" cy="429.5" r="1.15" fill="#a8a8ff" stroke="#6464ff" stroke-width="0.75"/>
<circle cx="237.7" cy="409.6" r="1.15" fill="#a8a8ff" stroke="#6464ff" stroke-width="0.75"/>
<circle cx="263.7" cy="393.3" r="1.15" fill="#a8a8ff" stroke="#6464ff" stroke-width="0.75"/>
<circle cx="297.8" cy="364.3" r="1.15" fill="#a8a8ff" stroke="#6464ff" stroke-width="0.75"/>
<circle cx="303.1" cy="362.0" r="1.15" fill="#a8a8ff" stroke="#6464ff" stroke-width="0.75"/>
<circle cx="288.4" cy="378.4" r="1.15" fill="#a8a8ff" stroke="#6464ff" stroke-width="0.75"/>
<circle cx="249.0" cy="407.8" r="1.15" fill="#a8a8ff" stroke="#6464ff" stroke-width="0.75"/>
<circle cx="261.4" cy="393.7" r="1.15" fill="#a8a8ff" stroke="#6464ff" stroke-width="0.75"/>
<circle cx="242.6" cy="405.0" r="1.15" fill="#a8a8ff" stroke="#6464ff" stroke-width="0.75"/>
<circle cx="273.5" cy="387.8" r="1.15" fill="#a8a8ff" stroke="#6464ff" stroke-width="0.75"/>
<circle cx="277.6" cy="384.5" r="1.15" fill="#a8a8ff" stroke="#6464ff" stroke-width="0.75"/>
<circle cx="236.1" cy="416.5" r="1.15" fill="#a8a8ff" stroke="#6464ff" stroke-width="0.75"/>
<circle cx="280.2" cy="385.3" r="1.15" fill="#a8a8ff" stroke="#6464ff" stroke-width="0.75"/>
<circle cx="252.2" cy="410.8" r="1.15" fill="#a8a8ff" stroke="#6464ff" stroke-width="0.75"/>
<circle cx="255.7" cy="394.1" r="1.15" fill="#a8a8ff" stroke="#6464ff" stroke-width="0.75"/>
<circle cx="309.6" cy="358.1" r="1.15" fill="#a8a8ff" stroke="#6464ff" stroke-width="0.75"/>
<circle cx="284.2" cy="378.1" r="1.15" fill="#a8a8ff" stroke="#6464ff" stroke-width="0.75"/>
<circle cx="287.9" cy="376.3" r="1.15" fill="#a8a8ff" stroke="#6464ff" stroke-width="0.75"/>
<circle cx="238.2" cy="420.4" r="1.15" fill="#a8a8ff" stroke="#6464ff" stroke-width="0.75"/>
<circle cx="234.1" cy="413.4" r="1.15" fill="#a8a8ff" stroke="#6464ff" stroke-width="0.75"/>
<circle cx="251.3" cy="404.8" r="1.15" fill="#a8a8ff" stroke="#6464ff" stroke-width="0.75"/>
<circle cx="220.7" cy="435.3" r="1.15" fill="#a8a8ff" stroke="#6464ff" stroke-width="0.75"/>
<circle cx="288.5" cy="379.3" r="1.15" fill="#a8a8ff" stroke="#6464ff" stroke-width="0.75"/>
<circle cx="270.8" cy="390.3" r="1.15" fill="#a8a8ff" stroke="#6464ff" stroke-width="0.75"/>
<circle cx="274.1" cy="385.8" r="1.15" fill="#a8a8ff" stroke="#6464ff" stroke-width="0.75"/>
<circle cx="250.0" cy="405.6" r="1.15" fill="#a8a8ff" stroke="#6464ff" stroke-width="0.75"/>
<circle cx="217.4" cy="428.0" r="1.15" fill="#a8a8ff" stroke="#6464ff" stroke-width="0.75"/>
<circle cx="226.3" cy="430.4" r="1.15" fill="#a8a8ff" stroke="#6464ff" stroke-width="0.75"/>
<circle cx="231.7" cy="421.1" r="1.15" fill="#a8a8ff" stroke="#6464ff" stroke-width="0.75"/>
<circle cx="240.0" cy="410.6" r="1.15" fill="#a8a8ff" stroke="#6464ff" stroke-width="0.75"/>
<circle cx="244.1" cy="405.1" r="1.15" fill="#a8a8ff" stroke="#6464ff" stroke-width="0.75"/>
<circle cx="261.1" cy="394.7" r="1.15" fill="#a8a8ff" stroke="#6464ff" stroke-width="0.75"/>
<circle cx="252.2" cy="407.7" r="1.15" fill="#a8a8ff" stroke="#6464ff" stroke-width="0.75"/>
<circle cx="250.5" cy="404.7" r="1.15" fill="#a8a8ff" stroke="#6464ff" stroke-width="0.75"/>
<circle cx="241.6" cy="415.1" r="1.15" fill="#a8a8ff" stroke="#6464ff" stroke-width="0.75"/>
<circle cx="213.8" cy="433.5" r="1.15" fill="#a8a8ff" stroke="#6464ff" stroke-width="0.75"/>
<circle cx="243.2" cy="415.3" r="1.15" fill="#a8a8ff" stroke="#6464ff" stroke-width="0.75"/>
<circle cx="225.9" cy="427.5" r="1.15" fill="#a8a8ff" stroke="#6464ff" stroke-width="0.75"/>
<circle cx="264.6" cy="389.5" r="1.15" fill="#a8a8ff" stroke="#6464ff" stroke-width="0.75"/>
<circle cx="247.7" cy="411.6" r="1.15" fill="#a8a8ff" stroke="#6464ff" stroke-width="0.75"/>
<circle cx="275.8" cy="379.5" r="1.15" fill="#a8a8ff" stroke="#6464ff" stroke-width="0.75"/>
<circle cx="280.8" cy="377.7" r="1.15" fill="#a8a8ff" stroke="#6464ff" stroke-width="0.75"/>
<circle cx="254.0" cy="397.7" r="1.15" fill="#a8a8ff" stroke="#6464ff" stroke-width="0.75"/>
<circle cx="251.5" cy="399.7" r="1.15" fill="#a8a8ff" stroke="#6464ff" stroke-width="0.75"/>
<circle cx="268.0" cy="389.9" r="1.15" fill="#a8a8ff" stroke="#6464ff" stroke-width="0.75"/>
<circle cx="269.3" cy="390.7" r="1.15" fill="#a8a8ff" stroke="#6464ff" stroke-width="0.75"/>
<circle cx="232.6" cy="412.1" r="1.15" fill="#a8a8ff" stroke="#6464ff" stroke-width="0.75"/>
<circle cx="215.2" cy="433.9" r="1.15" fill="#a8a8ff" stroke="#6464ff" stroke-width="0.75"/>
<circle cx="296.3" cy="367.2" r="1.15" fill="#a8a8ff" stroke="#6464ff" stroke-width="0.75"/>
<circle cx="277.3" cy="381.7" r="1.15" fill="#a8a8ff" stroke="#6464ff" stroke-width="0.75"/>
<circle cx="304.5" cy="361.8" r="1.15" fill="#a8a8ff" stroke="#6464ff" stroke-width="0.75"/>
<circle cx="298.8" cy="361.9" r="1.15" fill="#a8a8ff" stroke="#6464ff" stroke-width="0.75"/>
<circle cx="287.9" cy="368.2" r="1.15" fill="#a8a8ff" stroke="#6464ff" stroke-width="0.75"/>
<circle cx="258.5" cy="394.3" r="1.15" fill="#a8a8ff" stroke="#6464ff" stroke-width="0.75"/>
<circle cx="305.9" cy="361.0" r="1.15" fill="#a8a8ff" stroke="#6464ff" stroke-width="0.75"/>
<circle cx="219.0" cy="427.5" r="1.15" fill="#a8a8ff" stroke="#6464ff" stroke-width="0.75"/>
<circle cx="240.9" cy="417.2" r="1.15" fill="#a8a8ff" stroke="#6464ff" stroke-width="0.75"/>
<circle cx="266.1" cy="390.7" r="1.15" fill="#a8a8ff" stroke="#6464ff" stroke-width="0.75"/>
<circle cx="246.6" cy="410.7" r="1.15" fill="#a8a8ff" stroke="#6464ff" stroke-width="0.75"/>
<circle cx="221.2" cy="429.8" r="1.15" fill="#a8a8ff" stroke="#6464ff" stroke-width="0.75"/>
<circle cx="228.4" cy="423.1" r="1.15" fill="#a8a8ff" stroke="#6464ff" stroke-width="0.75"/>
<circle cx="253.0" cy="401.4" r="1.15" fill="#a8a8ff" stroke="#6464ff" stroke-width="0.75"/>
<circle cx="270.8" cy="386.3" r="1.15" fill="#a8a8ff" stroke="#6464ff" stroke-width="0.75"/>
<circle cx="307.9" cy="350.9" r="1.15" fill="#a8a8ff" stroke="#6464ff" stroke-width="0.75"/>
<circle cx="275.8" cy="385.9" r="1.15" fill="#a8a8ff" stroke="#6464ff" stroke-width="0.75"/>
<circle cx="274.5" cy="386.4" r="1.15" fill="#a8a8ff" stroke="#6464ff" stroke-width="0.75"/>
<circle cx="308.4" cy="359.8" r="1.15" fill="#a8a8ff" stroke="#6464ff" stroke-width="0.75"/>
<circle cx="283.5" cy="377.8" r="1.15" fill="#a8a8ff" stroke="#6464ff" stroke-width="0.75"/>
<circle cx="271.4" cy="391.0" r="1.15" fill="#a8a8ff" stroke="#6464ff" stroke-width="0.75"/>
<circle cx="245.8" cy="404.0" r="1.15" fill="#a8a8ff" stroke="#6464ff" stroke-width="0.75"/>
<circle cx="213.7" cy="433.0" r="1.15" fill="#a8a8ff" stroke="#6464ff" stroke-width="0.75"/>
<circle cx="235.2" cy="416.0" r="1.15" fill="#a8a8ff" stroke="#6464ff" stroke-width="0.75"/>
<circle cx="219.5" cy="428.4" r="1.15" fill="#a8a8ff" stroke="#6464ff" stroke-width="0.75"/>
<circle cx="290.0" cy="367.0" r="1.15" fill="#a8a8ff" stroke="#6464ff" stroke-width="0.75"/>
<circle cx="275.0" cy="392.1" r="1.15" fill="#a8a8ff" stroke="#6464ff" stroke-width="0.75"/>
<circle cx="222.6" cy="426.1" r="1.15" fill="#a8a8ff" stroke="#6464ff" stroke-width="0.75"/>
<circle cx="296.6" cy="363.9" r="1.15" fill="#a8a8ff" stroke="#6464ff" stroke-width="0.75"/>
<circle cx="288.3" cy="373.0" r="1.15" fill="#a8a8ff" stroke="#6464ff" stroke-width="0.75"/>
<circle cx="215.9" cy="432.3" r="1.15" fill="#a8a8ff" stroke="#6464ff" stroke-width="0.75"/>
<circle cx="296.7" cy="367.5" r="1.15" fill="#a8a8ff" stroke="#6464ff" stroke-width="0.75"/>
<circle cx="217.0" cy="434.5" r="1.15" fill="#a8a8ff" stroke="#6464ff" stroke-width="0.75"/>
<circle cx="225.5" cy="416.4" r="1.15" fill="#a8a8ff" stroke="#6464ff" stroke-width="0.75"/>
<circle cx="247.2" cy="408.9" r="1.15" fill="#a8a8ff" stroke="#6464ff" stroke-width="0.75"/>
<circle cx="240.5" cy="414.1" r="1.15" fill="#a8a8ff" stroke="#6464ff" stroke-width="0.75"/>
<circle cx="278.0" cy="379.5" r="1.15" fill="#a8a8ff" stroke="#6464ff" stroke-width="0.75"/>
<circle cx="277.5" cy="383.1" r="1.15" fill="#a8a8ff" stroke="#6464ff" stroke-width="0.75"/>
<circle cx="271.4" cy="386.7" r="1.15" fill="#a8a8ff" stroke="#6464ff" stroke-width="0.75"/>
<circle cx="253.4" cy="403.4" r="1.15" fill="#a8a8ff" stroke="#6464ff" stroke-width="0.75"/>
<circle cx="286.1" cy="372.3" r="1.15" fill="#a8a8ff" stroke="#6464ff" stroke-width="0.75"/>
<circle cx="227.5" cy="414.2" r="1.15" fill="#a8a8ff" stroke="#6464ff" stroke-width="0.75"/>
<circle cx="238.1" cy="415.3" r="1.15" fill="#a8a8ff" stroke="#6464ff" stroke-width="0.75"/>
<circle cx="244.3" cy="414.5" r="1.15" fill="#a8a8ff" stroke="#6464ff" stroke-width="0.75"/>
<circle cx="218.5" cy="428.7" r="1.15" fill="#a8a8ff" stroke="#6464ff" stroke-width="0.75"/>
<circle cx="232.5" cy="419.9" r="1.15" fill="#a8a8ff" stroke="#6464ff" stroke-width="0.75"/>
<circle cx="302.3" cy="364.3" r="1.15" fill="#a8a8ff" stroke="#6464ff" stroke-width="0.75"/>
<circle cx="288.5" cy="378.2" r="1.15" fill="#a8a8ff" stroke="#6464ff" stroke-width="0.75"/>
<circle cx="278.0" cy="381.0" r="1.15" fill="#a8a8ff" stroke="#6464ff" stroke-width="0.75"/>
<circle cx="252.4" cy="402.2" r="1.15" fill="#a8a8ff" stroke="#6464ff" stroke-width="0.75"/>
<circle cx="217.1" cy="428.4" r="1.15" fill="#a8a8ff" stroke="#6464ff" stroke-width="0.75"/>
<circle cx="262.5" cy="391.2" r="1.15" fill="#a8a8ff" stroke="#6464ff" stroke-width="0.75"/>
<circle cx="219.5" cy="433.5" r="1.15" fill="#a8a8ff" stroke="#6464ff" stroke-width="0.75"/>
<circle cx="217.6" cy="435.6" r="1.15" fill="#a8a8ff" stroke="#6464ff" stroke-width="0.75"/>
<circle cx="247.1" cy="407.1" r="1.15" fill="#a8a8ff" stroke="#6464ff" stroke-width="0.75"/>
<circle cx="225.1" cy="419.1" r="1.15" fill="#a8a8ff" stroke="#6464ff" stroke-width="0.75"/>
<circle cx="229.6" cy="417.7" r="1.15" fill="#a8a8ff" stroke="#6464ff" stroke-width="0.75"/>
<circle cx="262.0" cy="388.8" r="1.15" fill="#a8a8ff" stroke="#6464ff" stroke-width="0.75"/>
<circle cx="271.8" cy="386.8" r="1.15" fill="#a8a8ff" stroke="#6464ff" stroke-width="0.75"/>
<circle cx="238.9" cy="416.5" r="1.15" fill="#a8a8ff" stroke="#6464ff" stroke-width="0.75"/>
<circle cx="223.8" cy="432.4" r="1.15" fill="#a8a8ff" stroke="#6464ff" stroke-width="0.75"/>
<circle cx="304.1" cy="362.1" r="1.15" fill="#a8a8ff" stroke="#6464ff" stroke-width="0.75"/>
<circle cx="261.9" cy="395.6" r="1.15" fill="#a8a8ff" stroke="#6464ff" stroke-width="0.75"/>
<circle cx="298.6" cy="360.0" r="1.15" fill="#a8a8ff" stroke="#6464ff" stroke-width="0.75"/>
<circle cx="290.1" cy="367.4" r="1.15" fill="#a8a8ff" stroke="#6464ff" stroke-width="0.75"/>
<circle cx="291.3" cy="377.0" r="1.15" fill="#a8a8ff" stroke="#6464ff" stroke-width="0.75"/>
<circle cx="229.4" cy="424.4" r="1.15" fill="#a8a8ff" stroke="#6464ff" stroke-width="0.75"/>
<circle cx="230.3" cy="422.4" r="1.15" fill="#a8a8ff" stroke="#6464ff" stroke-width="0.75"/>
<circle cx="304.3" cy="359.8" r="1.15" fill="#a8a8ff" stroke="#6464ff" stroke-width="0.75"/>
<circle cx="253.1" cy="403.4" r="1.15" fill="#a8a8ff" stroke="#6464ff" stroke-width="0.75"/>
<circle cx="301.3" cy="362.7" r="1.15" fill="#a8a8ff" stroke="#6464ff" stroke-width="0.75"/>
<circle cx="276.0" cy="384.2" r="1.15" fill="#a8a8ff" stroke="#6464ff" stroke-width="0.75"/>
<circle cx="224.5" cy="425.9" r="1.15" fill="#a8a8ff" stroke="#6464ff" stroke-width="0.75"/>
<circle cx="243.1" cy="411.4" r="1.15" fill="#a8a8ff" stroke="#6464ff" stroke-width="0.75"/>
<circle cx="234.7" cy="419.5" r="1.15" fill="#a8a8ff" stroke="#6464ff" stroke-width="0.75"/>
<circle cx="280.1" cy="380.9" r="1.15" fill="#a8a8ff" stroke="#6464ff" stroke-width="0.75"/>
<circle cx="269.6" cy="390.5" r="1.15" fill="#a8a8ff" stroke="#6464ff" stroke-width="0.75"/>
<circle cx="253.4" cy="405.0" r="1.15" fill="#a8a8ff" stroke="#6464ff" stroke-width="0.75"/>
<circle cx="267.7" cy="394.1" r="1.15" fill="#a8a8ff" stroke="#6464ff" stroke-width="0.75"/>
<circle cx="252.8" cy="401.6" r="1.15" fill="#a8a8ff" stroke="#6464ff" stroke-width="0.75"/>
<circle cx="277.0" cy="382.6" r="1.15" fill="#a8a8ff" stroke="#6464ff" stroke-width="0.75"/>
<circle cx="233.0" cy="419.0" r="1.15" fill="#a8a8ff" stroke="#6464ff" stroke-width="0.75"/>
<circle cx="305.5" cy="359.0" r="1.15" fill="#a8a8ff" stroke="#6464ff" stroke-width="0.75"/>
<circle cx="272.4" cy="382.8" r="1.15" fill="#a8a8ff" stroke="#6464ff" stroke-width="0.75"/>
<circle cx="312.2" cy="355.9" r="1.15" fill="#a8a8ff" stroke="#6464ff" stroke-width="0.75"/>
<circle cx="224.6" cy="422.0" r="1.15" fill="#a8a8ff" stroke="#6464ff" stroke-width="0.75"/>
<circle cx="253.6" cy="405.9" r="1.15" fill="#a8a8ff" stroke="#6464ff" stroke-width="0.75"/>
<circle cx="286.9" cy="375.0" r="1.15" fill="#a8a8ff" stroke="#6464ff" stroke-width="0.75"/>
<circle cx="242.3" cy="410.9" r="1.15" fill="#a8a8ff" stroke="#6464ff" stroke-width="0.75"/>
<circle cx="243.5" cy="410.5" r="1.15" fill="#a8a8ff" stroke="#6464ff" stroke-width="0.75"/>
<circle cx="282.6" cy="371.4" r="1.15" fill="#a8a8ff" stroke="#6464ff" stroke-width="0.75"/>
<circle cx="309.9" cy="356.4" r="1.15" fill="#a8a8ff" stroke="#6464ff" stroke-width="0.75"/>
<circle cx="303.4" cy="363.8" r="1.15" fill="#a8a8ff" stroke="#6464ff" stroke-width="0.75"/>
<circle cx="296.4" cy="374.0" r="1.15" fill="#a8a8ff" stroke="#6464ff" stroke-width="0.75"/>
<circle cx="293.3" cy="375.5" r="1.15" fill="#a8a8ff" stroke="#6464ff" stroke-width="0.75"/>
<circle cx="301.5" cy="358.8" r="1.15" fill="#a8a8ff" stroke="#6464ff" stroke-width="0.75"/>
<circle cx="314.6" cy="354.8" r="1.15" fill="#a8a8ff" stroke="#6464ff" stroke-width="0.75"/>
<circle cx="303.0" cy="353.9" r="1.15" fill="#a8a8ff" stroke="#6464ff" stroke-width="0.75"/>
<circle cx="297.7" cy="359.9" r="1.15" fill="#a8a8ff" stroke="#6464ff" stroke-width="0.75"/>
<circle cx="224.2" cy="419.0" r="1.15" fill="#a8a8ff" stroke="#6464ff" stroke-width="0.75"/>
<circle cx="254.1" cy="399.8" r="1.15" fill="#a8a8ff" stroke="#6464ff" stroke-width="0.75"/>
<circle cx="293.8" cy="367.6" r="1.15" fill="#a8a8ff" stroke="#6464ff" stroke-width="0.75"/>
<circle cx="218.5" cy="429.4" r="1.15" fill="#a8a8ff" stroke="#6464ff" stroke-width="0.75"/>
<polygon points="336.0,347.7 354.9,347.7 355.4,348.1 356.1,348.6 357.0,349.2 357.9,349.9 358.9,350.6 359.9,351.3 360.8,352.1 361.7,352.8 362.5,353.5 363.3,354.2 364.2,355.0 365.0,355.7 365.8,356.5 366.6,357.3 367.3,358.2 368.1,359.2 368.8,360.2 369.6,361.4 370.3,362.6 371.0,363.8 371.6,365.1 372.3,366.3 373.0,367.6 373.7,368.8 374.4,370.0 375.2,371.2 375.9,372.4 376.7,373.7 377.4,374.9 378.1,376.1 378.7,377.3 379.3,378.5 379.8,379.7 380.3,380.9 380.8,382.1 381.2,383.3 381.6,384.5 381.9,385.7 382.1,386.9 382.2,388.1 382.2,389.3 382.1,390.5 381.8,391.7 381.5,392.9 381.2,394.1 380.8,395.3 380.4,396.5 380.1,397.7 379.8,398.9 379.4,400.1 379.0,401.2 378.6,402.4 378.2,403.6 377.8,404.8 377.3,406.0 376.9,407.3 376.5,408.6 376.0,410.0 375.6,411.5 375.1,412.9 374.6,414.3 374.1,415.8 373.5,417.2 372.9,418.5 372.2,419.8 371.5,421.1 370.7,422.4 369.9,423.6 369.1,424.8 368.3,426.0 367.4,427.1 366.5,428.1 365.6,429.1 364.6,430.0 363.5,430.9 362.4,431.7 361.4,432.5 360.4,433.3 359.4,434.0 358.5,434.6 357.6,435.2 356.8,435.8 356.0,436.3 355.2,436.8 354.5,437.2 353.8,437.5 353.3,437.9 352.9,438.1 336.0,438.1" fill="#ccccff" stroke="none"/>
<line x1="336.0" y1="347.8" x2="336.0" y2="438.3" stroke="#9a9a9a" stroke-width="1"/>
<line x1="336.0" y1="347.70" x2="336.0" y2="438.10" stroke="#1c1cf4" stroke-width="1.1"/>
<polyline points="354.9,347.7 355.4,348.1 356.1,348.6 357.0,349.2 357.9,349.9 358.9,350.6 359.9,351.3 360.8,352.1 361.7,352.8 362.5,353.5 363.3,354.2 364.2,355.0 365.0,355.7 365.8,356.5 366.6,357.3 367.3,358.2 368.1,359.2 368.8,360.2 369.6,361.4 370.3,362.6 371.0,363.8 371.6,365.1 372.3,366.3 373.0,367.6 373.7,368.8 374.4,370.0 375.2,371.2 375.9,372.4 376.7,373.7 377.4,374.9 378.1,376.1 378.7,377.3 379.3,378.5 379.8,379.7 380.3,380.9 380.8,382.1 381.2,383.3 381.6,384.5 381.9,385.7 382.1,386.9 382.2,388.1 382.2,389.3 382.1,390.5 381.8,391.7 381.5,392.9 381.2,394.1 380.8,395.3 380.4,396.5 380.1,397.7 379.8,398.9 379.4,400.1 379.0,401.2 378.6,402.4 378.2,403.6 377.8,404.8 377.3,406.0 376.9,407.3 376.5,408.6 376.0,410.0 375.6,411.5 375.1,412.9 374.6,414.3 374.1,415.8 373.5,417.2 372.9,418.5 372.2,419.8 371.5,421.1 370.7,422.4 369.9,423.6 369.1,424.8 368.3,426.0 367.4,427.1 366.5,428.1 365.6,429.1 364.6,430.0 363.5,430.9 362.4,431.7 361.4,432.5 360.4,433.3 359.4,434.0 358.5,434.6 357.6,435.2 356.8,435.8 356.0,436.3 355.2,436.8 354.5,437.2 353.8,437.5 353.3,437.9 352.9,438.1" fill="none" stroke="#fff" stroke-width="2.8" stroke-linejoin="round"/>
<line x1="336.0" y1="347.70" x2="336.0" y2="438.10" stroke="#1c1cf4" stroke-width="1.1"/>
<polyline points="354.9,347.7 355.4,348.1 356.1,348.6 357.0,349.2 357.9,349.9 358.9,350.6 359.9,351.3 360.8,352.1 361.7,352.8 362.5,353.5 363.3,354.2 364.2,355.0 365.0,355.7 365.8,356.5 366.6,357.3 367.3,358.2 368.1,359.2 368.8,360.2 369.6,361.4 370.3,362.6 371.0,363.8 371.6,365.1 372.3,366.3 373.0,367.6 373.7,368.8 374.4,370.0 375.2,371.2 375.9,372.4 376.7,373.7 377.4,374.9 378.1,376.1 378.7,377.3 379.3,378.5 379.8,379.7 380.3,380.9 380.8,382.1 381.2,383.3 381.6,384.5 381.9,385.7 382.1,386.9 382.2,388.1 382.2,389.3 382.1,390.5 381.8,391.7 381.5,392.9 381.2,394.1 380.8,395.3 380.4,396.5 380.1,397.7 379.8,398.9 379.4,400.1 379.0,401.2 378.6,402.4 378.2,403.6 377.8,404.8 377.3,406.0 376.9,407.3 376.5,408.6 376.0,410.0 375.6,411.5 375.1,412.9 374.6,414.3 374.1,415.8 373.5,417.2 372.9,418.5 372.2,419.8 371.5,421.1 370.7,422.4 369.9,423.6 369.1,424.8 368.3,426.0 367.4,427.1 366.5,428.1 365.6,429.1 364.6,430.0 363.5,430.9 362.4,431.7 361.4,432.5 360.4,433.3 359.4,434.0 358.5,434.6 357.6,435.2 356.8,435.8 356.0,436.3 355.2,436.8 354.5,437.2 353.8,437.5 353.3,437.9 352.9,438.1" fill="none" stroke="#1c1cf4" stroke-width="1.35" stroke-linejoin="round"/>
<polygon points="211.3,457.9 211.3,468.4 211.9,468.9 212.7,469.6 213.7,470.4 214.8,471.3 216.0,472.3 217.2,473.2 218.4,474.1 219.6,475.0 220.8,475.8 222.0,476.7 223.2,477.5 224.5,478.4 225.8,479.2 227.2,480.0 228.6,480.7 230.0,481.3 231.5,481.8 233.0,482.3 234.6,482.7 236.2,483.1 237.8,483.5 239.4,483.8 241.0,484.1 242.6,484.4 244.2,484.7 245.7,485.0 247.3,485.3 248.9,485.5 250.4,485.8 252.0,486.0 253.5,486.2 255.1,486.5 256.7,486.8 258.2,487.1 259.8,487.4 261.3,487.7 262.9,488.0 264.5,488.3 266.0,488.5 267.6,488.6 269.2,488.6 270.7,488.6 272.3,488.5 273.9,488.4 275.5,488.3 277.1,488.1 278.6,487.9 280.2,487.6 281.8,487.3 283.3,487.0 284.9,486.7 286.5,486.3 288.0,485.9 289.6,485.5 291.1,485.0 292.7,484.4 294.3,483.8 295.8,483.1 297.4,482.4 299.0,481.7 300.6,480.9 302.1,480.0 303.7,479.1 305.2,478.2 306.8,477.1 308.4,475.9 310.1,474.6 311.7,473.3 313.3,472.0 314.7,470.9 315.8,469.9 316.7,469.2 316.7,457.9" fill="#ccccff" stroke="none"/>
<polyline points="211.3,468.4 211.9,468.9 212.7,469.6 213.7,470.4 214.8,471.3 216.0,472.3 217.2,473.2 218.4,474.1 219.6,475.0 220.8,475.8 222.0,476.7 223.2,477.5 224.5,478.4 225.8,479.2 227.2,480.0 228.6,480.7 230.0,481.3 231.5,481.8 233.0,482.3 234.6,482.7 236.2,483.1 237.8,483.5 239.4,483.8 241.0,484.1 242.6,484.4 244.2,484.7 245.7,485.0 247.3,485.3 248.9,485.5 250.4,485.8 252.0,486.0 253.5,486.2 255.1,486.5 256.7,486.8 258.2,487.1 259.8,487.4 261.3,487.7 262.9,488.0 264.5,488.3 266.0,488.5 267.6,488.6 269.2,488.6 270.7,488.6 272.3,488.5 273.9,488.4 275.5,488.3 277.1,488.1 278.6,487.9 280.2,487.6 281.8,487.3 283.3,487.0 284.9,486.7 286.5,486.3 288.0,485.9 289.6,485.5 291.1,485.0 292.7,484.4 294.3,483.8 295.8,483.1 297.4,482.4 299.0,481.7 300.6,480.9 302.1,480.0 303.7,479.1 305.2,478.2 306.8,477.1 308.4,475.9 310.1,474.6 311.7,473.3 313.3,472.0 314.7,470.9 315.8,469.9 316.7,469.2" fill="none" stroke="#fff" stroke-width="2.8" stroke-linejoin="round"/>
<line x1="211.7" y1="457.9" x2="317.0" y2="457.9" stroke="#1c1cf4" stroke-width="1.5" opacity="0.8"/>
<polyline points="211.3,468.4 211.9,468.9 212.7,469.6 213.7,470.4 214.8,471.3 216.0,472.3 217.2,473.2 218.4,474.1 219.6,475.0 220.8,475.8 222.0,476.7 223.2,477.5 224.5,478.4 225.8,479.2 227.2,480.0 228.6,480.7 230.0,481.3 231.5,481.8 233.0,482.3 234.6,482.7 236.2,483.1 237.8,483.5 239.4,483.8 241.0,484.1 242.6,484.4 244.2,484.7 245.7,485.0 247.3,485.3 248.9,485.5 250.4,485.8 252.0,486.0 253.5,486.2 255.1,486.5 256.7,486.8 258.2,487.1 259.8,487.4 261.3,487.7 262.9,488.0 264.5,488.3 266.0,488.5 267.6,488.6 269.2,488.6 270.7,488.6 272.3,488.5 273.9,488.4 275.5,488.3 277.1,488.1 278.6,487.9 280.2,487.6 281.8,487.3 283.3,487.0 284.9,486.7 286.5,486.3 288.0,485.9 289.6,485.5 291.1,485.0 292.7,484.4 294.3,483.8 295.8,483.1 297.4,482.4 299.0,481.7 300.6,480.9 302.1,480.0 303.7,479.1 305.2,478.2 306.8,477.1 308.4,475.9 310.1,474.6 311.7,473.3 313.3,472.0 314.7,470.9 315.8,469.9 316.7,469.2" fill="none" stroke="#1c1cf4" stroke-width="1.35" stroke-linejoin="round"/>
<text x="384.00" y="341.70" font-size="16" font-weight="bold" fill="#000" style="font-family:'Liberation Serif', serif" stroke="#000" stroke-width="0.3">I</text>
<text x="456.45" y="343.40" font-size="7" font-weight="bold" text-anchor="middle" fill="#000">Potassium Nernst Pot.</text>
<rect x="403.8" y="347.8" width="105.30" height="90.50" fill="none" stroke="#9a9a9a" stroke-width="1"/>
<line x1="403.8" y1="358.40" x2="405.3" y2="358.40" stroke="#9a9a9a" stroke-width="0.8"/>
<line x1="509.1" y1="358.40" x2="507.6" y2="358.40" stroke="#9a9a9a" stroke-width="0.8"/>
<text x="511.10" y="360.00" font-size="4.6" font-weight="bold" text-anchor="start" fill="#000">-85</text>
<line x1="403.8" y1="381.20" x2="405.3" y2="381.20" stroke="#9a9a9a" stroke-width="0.8"/>
<line x1="509.1" y1="381.20" x2="507.6" y2="381.20" stroke="#9a9a9a" stroke-width="0.8"/>
<text x="511.10" y="382.80" font-size="4.6" font-weight="bold" text-anchor="start" fill="#000">-90</text>
<line x1="403.8" y1="404.00" x2="405.3" y2="404.00" stroke="#9a9a9a" stroke-width="0.8"/>
<line x1="509.1" y1="404.00" x2="507.6" y2="404.00" stroke="#9a9a9a" stroke-width="0.8"/>
<text x="511.10" y="405.60" font-size="4.6" font-weight="bold" text-anchor="start" fill="#000">-95</text>
<line x1="403.8" y1="426.80" x2="405.3" y2="426.80" stroke="#9a9a9a" stroke-width="0.8"/>
<line x1="509.1" y1="426.80" x2="507.6" y2="426.80" stroke="#9a9a9a" stroke-width="0.8"/>
<text x="511.10" y="428.40" font-size="4.6" font-weight="bold" text-anchor="start" fill="#000">-100</text>
<line x1="419.00" y1="438.3" x2="419.00" y2="436.8" stroke="#9a9a9a" stroke-width="0.8"/>
<line x1="419.00" y1="347.8" x2="419.00" y2="349.3" stroke="#9a9a9a" stroke-width="0.8"/>
<text x="419.00" y="445.40" font-size="4.6" font-weight="bold" text-anchor="middle" fill="#000">-100</text>
<line x1="445.40" y1="438.3" x2="445.40" y2="436.8" stroke="#9a9a9a" stroke-width="0.8"/>
<line x1="445.40" y1="347.8" x2="445.40" y2="349.3" stroke="#9a9a9a" stroke-width="0.8"/>
<text x="445.40" y="445.40" font-size="4.6" font-weight="bold" text-anchor="middle" fill="#000">-95</text>
<line x1="471.80" y1="438.3" x2="471.80" y2="436.8" stroke="#9a9a9a" stroke-width="0.8"/>
<line x1="471.80" y1="347.8" x2="471.80" y2="349.3" stroke="#9a9a9a" stroke-width="0.8"/>
<text x="471.80" y="445.40" font-size="4.6" font-weight="bold" text-anchor="middle" fill="#000">-90</text>
<line x1="498.20" y1="438.3" x2="498.20" y2="436.8" stroke="#9a9a9a" stroke-width="0.8"/>
<line x1="498.20" y1="347.8" x2="498.20" y2="349.3" stroke="#9a9a9a" stroke-width="0.8"/>
<text x="498.20" y="445.40" font-size="4.6" font-weight="bold" text-anchor="middle" fill="#000">-85</text>
<text x="456.45" y="453.00" font-size="5.5" font-weight="bold" text-anchor="middle" fill="#000">• Na/K dynamics</text>
<text x="526.70" y="392.80" font-size="5.5" font-weight="bold" text-anchor="middle" fill="#000" transform="rotate(-90 526.70 392.80)">• Na/K dynamics</text>
<circle cx="440.5" cy="405.7" r="1.1" fill="#b8b8ff" stroke="#6464ff" stroke-width="0.75"/>
<circle cx="468.2" cy="385.0" r="1.1" fill="#b8b8ff" stroke="#6464ff" stroke-width="0.75"/>
<circle cx="492.3" cy="366.4" r="1.1" fill="#b8b8ff" stroke="#6464ff" stroke-width="0.75"/>
<circle cx="503.2" cy="354.9" r="1.1" fill="#b8b8ff" stroke="#6464ff" stroke-width="0.75"/>
<circle cx="476.9" cy="379.0" r="1.1" fill="#b8b8ff" stroke="#6464ff" stroke-width="0.75"/>
<circle cx="429.2" cy="417.3" r="1.1" fill="#b8b8ff" stroke="#6464ff" stroke-width="0.75"/>
<circle cx="462.5" cy="387.6" r="1.1" fill="#b8b8ff" stroke="#6464ff" stroke-width="0.75"/>
<circle cx="442.8" cy="405.3" r="1.1" fill="#b8b8ff" stroke="#6464ff" stroke-width="0.75"/>
<circle cx="411.2" cy="431.3" r="1.1" fill="#b8b8ff" stroke="#6464ff" stroke-width="0.75"/>
<circle cx="441.2" cy="405.4" r="1.1" fill="#b8b8ff" stroke="#6464ff" stroke-width="0.75"/>
<circle cx="473.9" cy="386.1" r="1.1" fill="#b8b8ff" stroke="#6464ff" stroke-width="0.75"/>
<circle cx="416.9" cy="426.2" r="1.1" fill="#b8b8ff" stroke="#6464ff" stroke-width="0.75"/>
<circle cx="455.3" cy="393.3" r="1.1" fill="#b8b8ff" stroke="#6464ff" stroke-width="0.75"/>
<circle cx="480.1" cy="377.4" r="1.1" fill="#b8b8ff" stroke="#6464ff" stroke-width="0.75"/>
<circle cx="448.4" cy="396.5" r="1.1" fill="#b8b8ff" stroke="#6464ff" stroke-width="0.75"/>
<circle cx="440.0" cy="406.0" r="1.1" fill="#b8b8ff" stroke="#6464ff" stroke-width="0.75"/>
<circle cx="480.9" cy="374.7" r="1.1" fill="#b8b8ff" stroke="#6464ff" stroke-width="0.75"/>
<circle cx="454.0" cy="395.3" r="1.1" fill="#b8b8ff" stroke="#6464ff" stroke-width="0.75"/>
<circle cx="483.6" cy="370.1" r="1.1" fill="#b8b8ff" stroke="#6464ff" stroke-width="0.75"/>
<circle cx="501.8" cy="357.1" r="1.1" fill="#b8b8ff" stroke="#6464ff" stroke-width="0.75"/>
<circle cx="427.6" cy="420.7" r="1.1" fill="#b8b8ff" stroke="#6464ff" stroke-width="0.75"/>
<circle cx="413.7" cy="428.0" r="1.1" fill="#b8b8ff" stroke="#6464ff" stroke-width="0.75"/>
<circle cx="479.7" cy="375.3" r="1.1" fill="#b8b8ff" stroke="#6464ff" stroke-width="0.75"/>
<circle cx="463.2" cy="385.6" r="1.1" fill="#b8b8ff" stroke="#6464ff" stroke-width="0.75"/>
<circle cx="413.9" cy="423.9" r="1.1" fill="#b8b8ff" stroke="#6464ff" stroke-width="0.75"/>
<circle cx="421.4" cy="425.3" r="1.1" fill="#b8b8ff" stroke="#6464ff" stroke-width="0.75"/>
<circle cx="488.4" cy="367.9" r="1.1" fill="#b8b8ff" stroke="#6464ff" stroke-width="0.75"/>
<circle cx="472.9" cy="376.0" r="1.1" fill="#b8b8ff" stroke="#6464ff" stroke-width="0.75"/>
<circle cx="445.2" cy="401.9" r="1.1" fill="#b8b8ff" stroke="#6464ff" stroke-width="0.75"/>
<circle cx="421.4" cy="422.6" r="1.1" fill="#b8b8ff" stroke="#6464ff" stroke-width="0.75"/>
<circle cx="432.3" cy="413.5" r="1.1" fill="#b8b8ff" stroke="#6464ff" stroke-width="0.75"/>
<circle cx="414.0" cy="429.4" r="1.1" fill="#b8b8ff" stroke="#6464ff" stroke-width="0.75"/>
<circle cx="461.0" cy="390.7" r="1.1" fill="#b8b8ff" stroke="#6464ff" stroke-width="0.75"/>
<circle cx="421.4" cy="419.6" r="1.1" fill="#b8b8ff" stroke="#6464ff" stroke-width="0.75"/>
<circle cx="442.0" cy="403.3" r="1.1" fill="#b8b8ff" stroke="#6464ff" stroke-width="0.75"/>
<circle cx="421.4" cy="421.2" r="1.1" fill="#b8b8ff" stroke="#6464ff" stroke-width="0.75"/>
<circle cx="492.1" cy="361.1" r="1.1" fill="#b8b8ff" stroke="#6464ff" stroke-width="0.75"/>
<circle cx="460.9" cy="386.3" r="1.1" fill="#b8b8ff" stroke="#6464ff" stroke-width="0.75"/>
<circle cx="473.3" cy="377.7" r="1.1" fill="#b8b8ff" stroke="#6464ff" stroke-width="0.75"/>
<circle cx="501.7" cy="355.4" r="1.1" fill="#b8b8ff" stroke="#6464ff" stroke-width="0.75"/>
<circle cx="472.0" cy="384.7" r="1.1" fill="#b8b8ff" stroke="#6464ff" stroke-width="0.75"/>
<circle cx="456.0" cy="396.7" r="1.1" fill="#b8b8ff" stroke="#6464ff" stroke-width="0.75"/>
<circle cx="435.7" cy="411.2" r="1.1" fill="#b8b8ff" stroke="#6464ff" stroke-width="0.75"/>
<circle cx="465.9" cy="383.3" r="1.1" fill="#b8b8ff" stroke="#6464ff" stroke-width="0.75"/>
<circle cx="416.4" cy="426.9" r="1.1" fill="#b8b8ff" stroke="#6464ff" stroke-width="0.75"/>
<circle cx="422.0" cy="419.8" r="1.1" fill="#b8b8ff" stroke="#6464ff" stroke-width="0.75"/>
<circle cx="502.6" cy="353.5" r="1.1" fill="#b8b8ff" stroke="#6464ff" stroke-width="0.75"/>
<circle cx="484.8" cy="369.7" r="1.1" fill="#b8b8ff" stroke="#6464ff" stroke-width="0.75"/>
<circle cx="459.4" cy="393.7" r="1.1" fill="#b8b8ff" stroke="#6464ff" stroke-width="0.75"/>
<circle cx="484.2" cy="366.9" r="1.1" fill="#b8b8ff" stroke="#6464ff" stroke-width="0.75"/>
<circle cx="457.8" cy="395.8" r="1.1" fill="#b8b8ff" stroke="#6464ff" stroke-width="0.75"/>
<circle cx="447.2" cy="399.4" r="1.1" fill="#b8b8ff" stroke="#6464ff" stroke-width="0.75"/>
<circle cx="504.6" cy="354.2" r="1.1" fill="#b8b8ff" stroke="#6464ff" stroke-width="0.75"/>
<circle cx="415.0" cy="427.5" r="1.1" fill="#b8b8ff" stroke="#6464ff" stroke-width="0.75"/>
<circle cx="474.6" cy="379.3" r="1.1" fill="#b8b8ff" stroke="#6464ff" stroke-width="0.75"/>
<circle cx="425.8" cy="420.6" r="1.1" fill="#b8b8ff" stroke="#6464ff" stroke-width="0.75"/>
<circle cx="468.2" cy="385.9" r="1.1" fill="#b8b8ff" stroke="#6464ff" stroke-width="0.75"/>
<circle cx="481.5" cy="371.3" r="1.1" fill="#b8b8ff" stroke="#6464ff" stroke-width="0.75"/>
<circle cx="445.7" cy="403.4" r="1.1" fill="#b8b8ff" stroke="#6464ff" stroke-width="0.75"/>
<circle cx="494.1" cy="362.7" r="1.1" fill="#b8b8ff" stroke="#6464ff" stroke-width="0.75"/>
<circle cx="494.0" cy="363.0" r="1.1" fill="#b8b8ff" stroke="#6464ff" stroke-width="0.75"/>
<circle cx="456.6" cy="394.5" r="1.1" fill="#b8b8ff" stroke="#6464ff" stroke-width="0.75"/>
<circle cx="494.7" cy="363.0" r="1.1" fill="#b8b8ff" stroke="#6464ff" stroke-width="0.75"/>
<circle cx="482.5" cy="375.2" r="1.1" fill="#b8b8ff" stroke="#6464ff" stroke-width="0.75"/>
<circle cx="431.6" cy="415.7" r="1.1" fill="#b8b8ff" stroke="#6464ff" stroke-width="0.75"/>
<circle cx="452.4" cy="396.6" r="1.1" fill="#b8b8ff" stroke="#6464ff" stroke-width="0.75"/>
<circle cx="498.3" cy="358.7" r="1.1" fill="#b8b8ff" stroke="#6464ff" stroke-width="0.75"/>
<circle cx="443.5" cy="406.9" r="1.1" fill="#b8b8ff" stroke="#6464ff" stroke-width="0.75"/>
<circle cx="422.7" cy="424.8" r="1.1" fill="#b8b8ff" stroke="#6464ff" stroke-width="0.75"/>
<circle cx="413.8" cy="427.8" r="1.1" fill="#b8b8ff" stroke="#6464ff" stroke-width="0.75"/>
<circle cx="494.2" cy="360.5" r="1.1" fill="#b8b8ff" stroke="#6464ff" stroke-width="0.75"/>
<circle cx="485.0" cy="370.3" r="1.1" fill="#b8b8ff" stroke="#6464ff" stroke-width="0.75"/>
<circle cx="467.7" cy="385.1" r="1.1" fill="#b8b8ff" stroke="#6464ff" stroke-width="0.75"/>
<circle cx="454.2" cy="394.1" r="1.1" fill="#b8b8ff" stroke="#6464ff" stroke-width="0.75"/>
<circle cx="432.8" cy="418.1" r="1.1" fill="#b8b8ff" stroke="#6464ff" stroke-width="0.75"/>
<circle cx="473.3" cy="384.3" r="1.1" fill="#b8b8ff" stroke="#6464ff" stroke-width="0.75"/>
<circle cx="500.8" cy="359.3" r="1.1" fill="#b8b8ff" stroke="#6464ff" stroke-width="0.75"/>
<circle cx="468.0" cy="382.7" r="1.1" fill="#b8b8ff" stroke="#6464ff" stroke-width="0.75"/>
<circle cx="497.0" cy="363.4" r="1.1" fill="#b8b8ff" stroke="#6464ff" stroke-width="0.75"/>
<circle cx="486.6" cy="371.4" r="1.1" fill="#b8b8ff" stroke="#6464ff" stroke-width="0.75"/>
<circle cx="424.4" cy="421.0" r="1.1" fill="#b8b8ff" stroke="#6464ff" stroke-width="0.75"/>
<circle cx="464.1" cy="391.6" r="1.1" fill="#b8b8ff" stroke="#6464ff" stroke-width="0.75"/>
<circle cx="433.6" cy="411.4" r="1.1" fill="#b8b8ff" stroke="#6464ff" stroke-width="0.75"/>
<circle cx="462.3" cy="388.4" r="1.1" fill="#b8b8ff" stroke="#6464ff" stroke-width="0.75"/>
<circle cx="481.1" cy="374.6" r="1.1" fill="#b8b8ff" stroke="#6464ff" stroke-width="0.75"/>
<circle cx="481.4" cy="371.9" r="1.1" fill="#b8b8ff" stroke="#6464ff" stroke-width="0.75"/>
<circle cx="477.1" cy="378.7" r="1.1" fill="#b8b8ff" stroke="#6464ff" stroke-width="0.75"/>
<circle cx="478.5" cy="374.5" r="1.1" fill="#b8b8ff" stroke="#6464ff" stroke-width="0.75"/>
<circle cx="420.1" cy="424.2" r="1.1" fill="#b8b8ff" stroke="#6464ff" stroke-width="0.75"/>
<circle cx="427.4" cy="419.1" r="1.1" fill="#b8b8ff" stroke="#6464ff" stroke-width="0.75"/>
<circle cx="470.1" cy="380.2" r="1.1" fill="#b8b8ff" stroke="#6464ff" stroke-width="0.75"/>
<circle cx="444.6" cy="402.7" r="1.1" fill="#b8b8ff" stroke="#6464ff" stroke-width="0.75"/>
<circle cx="502.6" cy="356.6" r="1.1" fill="#b8b8ff" stroke="#6464ff" stroke-width="0.75"/>
<circle cx="468.8" cy="386.0" r="1.1" fill="#b8b8ff" stroke="#6464ff" stroke-width="0.75"/>
<circle cx="468.1" cy="386.6" r="1.1" fill="#b8b8ff" stroke="#6464ff" stroke-width="0.75"/>
<circle cx="468.5" cy="384.2" r="1.1" fill="#b8b8ff" stroke="#6464ff" stroke-width="0.75"/>
<circle cx="491.5" cy="361.8" r="1.1" fill="#b8b8ff" stroke="#6464ff" stroke-width="0.75"/>
<circle cx="500.4" cy="354.8" r="1.1" fill="#b8b8ff" stroke="#6464ff" stroke-width="0.75"/>
<circle cx="446.9" cy="403.5" r="1.1" fill="#b8b8ff" stroke="#6464ff" stroke-width="0.75"/>
<circle cx="448.3" cy="398.4" r="1.1" fill="#b8b8ff" stroke="#6464ff" stroke-width="0.75"/>
<circle cx="445.1" cy="405.6" r="1.1" fill="#b8b8ff" stroke="#6464ff" stroke-width="0.75"/>
<circle cx="445.0" cy="405.6" r="1.1" fill="#b8b8ff" stroke="#6464ff" stroke-width="0.75"/>
<circle cx="472.6" cy="377.2" r="1.1" fill="#b8b8ff" stroke="#6464ff" stroke-width="0.75"/>
<circle cx="488.7" cy="364.7" r="1.1" fill="#b8b8ff" stroke="#6464ff" stroke-width="0.75"/>
<circle cx="435.5" cy="413.3" r="1.1" fill="#b8b8ff" stroke="#6464ff" stroke-width="0.75"/>
<circle cx="442.1" cy="408.9" r="1.1" fill="#b8b8ff" stroke="#6464ff" stroke-width="0.75"/>
<circle cx="498.3" cy="361.5" r="1.1" fill="#b8b8ff" stroke="#6464ff" stroke-width="0.75"/>
<circle cx="438.9" cy="407.6" r="1.1" fill="#b8b8ff" stroke="#6464ff" stroke-width="0.75"/>
<circle cx="424.7" cy="420.9" r="1.1" fill="#b8b8ff" stroke="#6464ff" stroke-width="0.75"/>
<circle cx="471.0" cy="382.5" r="1.1" fill="#b8b8ff" stroke="#6464ff" stroke-width="0.75"/>
<circle cx="434.5" cy="411.4" r="1.1" fill="#b8b8ff" stroke="#6464ff" stroke-width="0.75"/>
<circle cx="482.3" cy="373.1" r="1.1" fill="#b8b8ff" stroke="#6464ff" stroke-width="0.75"/>
<circle cx="446.2" cy="406.8" r="1.1" fill="#b8b8ff" stroke="#6464ff" stroke-width="0.75"/>
<circle cx="455.5" cy="395.1" r="1.1" fill="#b8b8ff" stroke="#6464ff" stroke-width="0.75"/>
<circle cx="451.6" cy="399.6" r="1.1" fill="#b8b8ff" stroke="#6464ff" stroke-width="0.75"/>
<circle cx="437.0" cy="409.9" r="1.1" fill="#b8b8ff" stroke="#6464ff" stroke-width="0.75"/>
<circle cx="470.5" cy="381.7" r="1.1" fill="#b8b8ff" stroke="#6464ff" stroke-width="0.75"/>
<circle cx="485.7" cy="368.9" r="1.1" fill="#b8b8ff" stroke="#6464ff" stroke-width="0.75"/>
<circle cx="422.8" cy="423.0" r="1.1" fill="#b8b8ff" stroke="#6464ff" stroke-width="0.75"/>
<circle cx="418.6" cy="426.0" r="1.1" fill="#b8b8ff" stroke="#6464ff" stroke-width="0.75"/>
<circle cx="411.0" cy="428.6" r="1.1" fill="#b8b8ff" stroke="#6464ff" stroke-width="0.75"/>
<circle cx="452.6" cy="395.4" r="1.1" fill="#b8b8ff" stroke="#6464ff" stroke-width="0.75"/>
<circle cx="413.7" cy="428.1" r="1.1" fill="#b8b8ff" stroke="#6464ff" stroke-width="0.75"/>
<circle cx="448.6" cy="396.7" r="1.1" fill="#b8b8ff" stroke="#6464ff" stroke-width="0.75"/>
<circle cx="446.9" cy="406.4" r="1.1" fill="#b8b8ff" stroke="#6464ff" stroke-width="0.75"/>
<circle cx="498.2" cy="361.2" r="1.1" fill="#b8b8ff" stroke="#6464ff" stroke-width="0.75"/>
<circle cx="421.7" cy="420.5" r="1.1" fill="#b8b8ff" stroke="#6464ff" stroke-width="0.75"/>
<circle cx="487.7" cy="370.3" r="1.1" fill="#b8b8ff" stroke="#6464ff" stroke-width="0.75"/>
<circle cx="420.8" cy="424.9" r="1.1" fill="#b8b8ff" stroke="#6464ff" stroke-width="0.75"/>
<circle cx="419.1" cy="423.7" r="1.1" fill="#b8b8ff" stroke="#6464ff" stroke-width="0.75"/>
<circle cx="504.1" cy="355.0" r="1.1" fill="#b8b8ff" stroke="#6464ff" stroke-width="0.75"/>
<circle cx="467.2" cy="389.3" r="1.1" fill="#b8b8ff" stroke="#6464ff" stroke-width="0.75"/>
<circle cx="480.2" cy="370.8" r="1.1" fill="#b8b8ff" stroke="#6464ff" stroke-width="0.75"/>
<circle cx="469.5" cy="379.2" r="1.1" fill="#b8b8ff" stroke="#6464ff" stroke-width="0.75"/>
<circle cx="473.9" cy="380.0" r="1.1" fill="#b8b8ff" stroke="#6464ff" stroke-width="0.75"/>
<circle cx="424.7" cy="417.9" r="1.1" fill="#b8b8ff" stroke="#6464ff" stroke-width="0.75"/>
<circle cx="459.0" cy="391.3" r="1.1" fill="#b8b8ff" stroke="#6464ff" stroke-width="0.75"/>
<circle cx="477.2" cy="375.6" r="1.1" fill="#b8b8ff" stroke="#6464ff" stroke-width="0.75"/>
<circle cx="483.4" cy="368.8" r="1.1" fill="#b8b8ff" stroke="#6464ff" stroke-width="0.75"/>
<circle cx="488.7" cy="368.2" r="1.1" fill="#b8b8ff" stroke="#6464ff" stroke-width="0.75"/>
<circle cx="415.7" cy="428.2" r="1.1" fill="#b8b8ff" stroke="#6464ff" stroke-width="0.75"/>
<circle cx="426.9" cy="420.2" r="1.1" fill="#b8b8ff" stroke="#6464ff" stroke-width="0.75"/>
<circle cx="451.8" cy="397.2" r="1.1" fill="#b8b8ff" stroke="#6464ff" stroke-width="0.75"/>
<circle cx="453.7" cy="394.5" r="1.1" fill="#b8b8ff" stroke="#6464ff" stroke-width="0.75"/>
<circle cx="483.5" cy="370.7" r="1.1" fill="#b8b8ff" stroke="#6464ff" stroke-width="0.75"/>
<circle cx="443.1" cy="407.1" r="1.1" fill="#b8b8ff" stroke="#6464ff" stroke-width="0.75"/>
<circle cx="409.5" cy="429.5" r="1.1" fill="#b8b8ff" stroke="#6464ff" stroke-width="0.75"/>
<circle cx="464.1" cy="391.3" r="1.1" fill="#b8b8ff" stroke="#6464ff" stroke-width="0.75"/>
<circle cx="418.7" cy="427.6" r="1.1" fill="#b8b8ff" stroke="#6464ff" stroke-width="0.75"/>
<circle cx="436.2" cy="411.0" r="1.1" fill="#b8b8ff" stroke="#6464ff" stroke-width="0.75"/>
<circle cx="471.9" cy="378.1" r="1.1" fill="#b8b8ff" stroke="#6464ff" stroke-width="0.75"/>
<circle cx="448.9" cy="398.6" r="1.1" fill="#b8b8ff" stroke="#6464ff" stroke-width="0.75"/>
<circle cx="454.1" cy="395.6" r="1.1" fill="#b8b8ff" stroke="#6464ff" stroke-width="0.75"/>
<circle cx="434.8" cy="411.3" r="1.1" fill="#b8b8ff" stroke="#6464ff" stroke-width="0.75"/>
<circle cx="423.4" cy="420.3" r="1.1" fill="#b8b8ff" stroke="#6464ff" stroke-width="0.75"/>
<circle cx="428.1" cy="414.5" r="1.1" fill="#b8b8ff" stroke="#6464ff" stroke-width="0.75"/>
<circle cx="411.0" cy="430.9" r="1.1" fill="#b8b8ff" stroke="#6464ff" stroke-width="0.75"/>
<circle cx="503.8" cy="355.7" r="1.1" fill="#b8b8ff" stroke="#6464ff" stroke-width="0.75"/>
<circle cx="424.9" cy="418.1" r="1.1" fill="#b8b8ff" stroke="#6464ff" stroke-width="0.75"/>
<circle cx="488.9" cy="368.3" r="1.1" fill="#b8b8ff" stroke="#6464ff" stroke-width="0.75"/>
<circle cx="481.6" cy="372.8" r="1.1" fill="#b8b8ff" stroke="#6464ff" stroke-width="0.75"/>
<circle cx="488.2" cy="368.9" r="1.1" fill="#b8b8ff" stroke="#6464ff" stroke-width="0.75"/>
<circle cx="422.0" cy="421.8" r="1.1" fill="#b8b8ff" stroke="#6464ff" stroke-width="0.75"/>
<circle cx="426.7" cy="419.1" r="1.1" fill="#b8b8ff" stroke="#6464ff" stroke-width="0.75"/>
<circle cx="498.4" cy="363.8" r="1.1" fill="#b8b8ff" stroke="#6464ff" stroke-width="0.75"/>
<circle cx="456.0" cy="395.6" r="1.1" fill="#b8b8ff" stroke="#6464ff" stroke-width="0.75"/>
<circle cx="434.3" cy="413.7" r="1.1" fill="#b8b8ff" stroke="#6464ff" stroke-width="0.75"/>
<circle cx="471.3" cy="380.8" r="1.1" fill="#b8b8ff" stroke="#6464ff" stroke-width="0.75"/>
<circle cx="450.0" cy="395.4" r="1.1" fill="#b8b8ff" stroke="#6464ff" stroke-width="0.75"/>
<circle cx="452.7" cy="394.9" r="1.1" fill="#b8b8ff" stroke="#6464ff" stroke-width="0.75"/>
<circle cx="453.8" cy="396.5" r="1.1" fill="#b8b8ff" stroke="#6464ff" stroke-width="0.75"/>
<circle cx="474.8" cy="378.1" r="1.1" fill="#b8b8ff" stroke="#6464ff" stroke-width="0.75"/>
<circle cx="463.1" cy="386.4" r="1.1" fill="#b8b8ff" stroke="#6464ff" stroke-width="0.75"/>
<circle cx="425.6" cy="421.5" r="1.1" fill="#b8b8ff" stroke="#6464ff" stroke-width="0.75"/>
<circle cx="444.9" cy="404.0" r="1.1" fill="#b8b8ff" stroke="#6464ff" stroke-width="0.75"/>
<circle cx="403.5" cy="436.8" r="1.1" fill="#b8b8ff" stroke="#6464ff" stroke-width="0.75"/>
<circle cx="506.5" cy="347.5" r="1.1" fill="#b8b8ff" stroke="#6464ff" stroke-width="0.75"/>
<polygon points="529.1,347.7 531.9,347.7 532.3,348.3 532.9,349.2 533.6,350.2 534.3,351.3 535.1,352.5 535.9,353.7 536.7,354.9 537.5,356.0 538.3,357.0 539.0,358.0 539.8,359.1 540.6,360.1 541.5,361.1 542.3,362.1 543.1,363.1 543.9,364.1 544.7,365.1 545.4,366.1 546.2,367.1 546.9,368.1 547.7,369.1 548.5,370.1 549.3,371.1 550.3,372.1 551.4,373.1 552.5,374.1 553.8,375.2 555.0,376.2 556.3,377.2 557.6,378.2 558.8,379.2 560.0,380.1 561.1,381.0 562.2,381.8 563.2,382.6 564.2,383.3 565.2,384.1 566.2,384.9 567.1,385.7 568.0,386.5 568.9,387.4 569.9,388.3 570.9,389.2 571.9,390.2 572.8,391.1 573.5,392.1 574.1,393.0 574.4,393.8 574.5,394.6 574.4,395.3 574.1,396.1 573.7,396.8 573.2,397.4 572.6,398.1 571.9,398.7 571.2,399.4 570.4,400.0 569.5,400.7 568.5,401.3 567.4,401.8 566.3,402.4 565.2,403.0 564.2,403.6 563.2,404.2 562.3,404.8 561.4,405.4 560.5,405.9 559.7,406.5 558.8,407.1 558.1,407.7 557.3,408.3 556.7,409.0 556.2,409.7 555.7,410.4 555.3,411.2 555.0,412.0 554.7,412.8 554.3,413.6 554.0,414.5 553.5,415.4 553.0,416.3 552.5,417.3 551.9,418.4 551.3,419.4 550.7,420.5 550.1,421.5 549.4,422.5 548.7,423.5 548.0,424.4 547.3,425.4 546.5,426.3 545.7,427.2 544.9,428.0 544.1,428.9 543.2,429.8 542.3,430.7 541.3,431.6 540.2,432.7 539.1,433.7 537.9,434.7 536.8,435.7 535.8,436.6 534.9,437.3 534.3,437.9 529.1,437.9" fill="#ccccff" stroke="none"/>
<line x1="529.1" y1="347.8" x2="529.1" y2="438.3" stroke="#9a9a9a" stroke-width="1"/>
<line x1="529.1" y1="347.70" x2="529.1" y2="437.90" stroke="#1c1cf4" stroke-width="1.1"/>
<polyline points="531.9,347.7 532.3,348.3 532.9,349.2 533.6,350.2 534.3,351.3 535.1,352.5 535.9,353.7 536.7,354.9 537.5,356.0 538.3,357.0 539.0,358.0 539.8,359.1 540.6,360.1 541.5,361.1 542.3,362.1 543.1,363.1 543.9,364.1 544.7,365.1 545.4,366.1 546.2,367.1 546.9,368.1 547.7,369.1 548.5,370.1 549.3,371.1 550.3,372.1 551.4,373.1 552.5,374.1 553.8,375.2 555.0,376.2 556.3,377.2 557.6,378.2 558.8,379.2 560.0,380.1 561.1,381.0 562.2,381.8 563.2,382.6 564.2,383.3 565.2,384.1 566.2,384.9 567.1,385.7 568.0,386.5 568.9,387.4 569.9,388.3 570.9,389.2 571.9,390.2 572.8,391.1 573.5,392.1 574.1,393.0 574.4,393.8 574.5,394.6 574.4,395.3 574.1,396.1 573.7,396.8 573.2,397.4 572.6,398.1 571.9,398.7 571.2,399.4 570.4,400.0 569.5,400.7 568.5,401.3 567.4,401.8 566.3,402.4 565.2,403.0 564.2,403.6 563.2,404.2 562.3,404.8 561.4,405.4 560.5,405.9 559.7,406.5 558.8,407.1 558.1,407.7 557.3,408.3 556.7,409.0 556.2,409.7 555.7,410.4 555.3,411.2 555.0,412.0 554.7,412.8 554.3,413.6 554.0,414.5 553.5,415.4 553.0,416.3 552.5,417.3 551.9,418.4 551.3,419.4 550.7,420.5 550.1,421.5 549.4,422.5 548.7,423.5 548.0,424.4 547.3,425.4 546.5,426.3 545.7,427.2 544.9,428.0 544.1,428.9 543.2,429.8 542.3,430.7 541.3,431.6 540.2,432.7 539.1,433.7 537.9,434.7 536.8,435.7 535.8,436.6 534.9,437.3 534.3,437.9" fill="none" stroke="#fff" stroke-width="2.8" stroke-linejoin="round"/>
<line x1="529.1" y1="347.70" x2="529.1" y2="437.90" stroke="#1c1cf4" stroke-width="1.1"/>
<polyline points="531.9,347.7 532.3,348.3 532.9,349.2 533.6,350.2 534.3,351.3 535.1,352.5 535.9,353.7 536.7,354.9 537.5,356.0 538.3,357.0 539.0,358.0 539.8,359.1 540.6,360.1 541.5,361.1 542.3,362.1 543.1,363.1 543.9,364.1 544.7,365.1 545.4,366.1 546.2,367.1 546.9,368.1 547.7,369.1 548.5,370.1 549.3,371.1 550.3,372.1 551.4,373.1 552.5,374.1 553.8,375.2 555.0,376.2 556.3,377.2 557.6,378.2 558.8,379.2 560.0,380.1 561.1,381.0 562.2,381.8 563.2,382.6 564.2,383.3 565.2,384.1 566.2,384.9 567.1,385.7 568.0,386.5 568.9,387.4 569.9,388.3 570.9,389.2 571.9,390.2 572.8,391.1 573.5,392.1 574.1,393.0 574.4,393.8 574.5,394.6 574.4,395.3 574.1,396.1 573.7,396.8 573.2,397.4 572.6,398.1 571.9,398.7 571.2,399.4 570.4,400.0 569.5,400.7 568.5,401.3 567.4,401.8 566.3,402.4 565.2,403.0 564.2,403.6 563.2,404.2 562.3,404.8 561.4,405.4 560.5,405.9 559.7,406.5 558.8,407.1 558.1,407.7 557.3,408.3 556.7,409.0 556.2,409.7 555.7,410.4 555.3,411.2 555.0,412.0 554.7,412.8 554.3,413.6 554.0,414.5 553.5,415.4 553.0,416.3 552.5,417.3 551.9,418.4 551.3,419.4 550.7,420.5 550.1,421.5 549.4,422.5 548.7,423.5 548.0,424.4 547.3,425.4 546.5,426.3 545.7,427.2 544.9,428.0 544.1,428.9 543.2,429.8 542.3,430.7 541.3,431.6 540.2,432.7 539.1,433.7 537.9,434.7 536.8,435.7 535.8,436.6 534.9,437.3 534.3,437.9" fill="none" stroke="#1c1cf4" stroke-width="1.35" stroke-linejoin="round"/>
<polygon points="403.8,457.7 403.8,460.9 404.5,461.3 405.3,461.7 406.4,462.3 407.6,462.9 408.8,463.6 410.1,464.3 411.4,465.0 412.6,465.7 413.8,466.4 415.0,467.2 416.3,468.0 417.6,468.8 418.9,469.6 420.2,470.4 421.6,471.2 423.0,471.9 424.5,472.6 426.1,473.3 427.8,474.0 429.6,474.6 431.2,475.3 432.8,475.9 434.3,476.5 435.6,477.1 436.7,477.7 437.6,478.2 438.4,478.7 439.1,479.2 439.7,479.7 440.4,480.2 441.1,480.7 441.8,481.3 442.6,481.9 443.4,482.6 444.2,483.3 444.9,484.0 445.7,484.7 446.5,485.3 447.3,485.9 448.1,486.5 448.9,487.0 449.7,487.5 450.6,488.0 451.4,488.5 452.2,488.9 453.0,489.2 453.7,489.5 454.4,489.7 455.0,489.8 455.5,489.9 455.9,489.9 456.3,489.8 456.7,489.7 457.2,489.4 457.8,489.1 458.5,488.6 459.3,488.0 460.3,487.2 461.2,486.3 462.3,485.3 463.4,484.3 464.6,483.2 465.7,482.2 466.9,481.3 468.1,480.4 469.3,479.6 470.6,478.7 471.8,477.9 473.2,477.0 474.5,476.2 475.9,475.4 477.3,474.6 478.8,473.8 480.3,473.0 482.0,472.2 483.6,471.4 485.2,470.6 486.9,469.8 488.4,469.1 489.9,468.4 491.3,467.7 492.7,467.1 494.0,466.5 495.3,465.9 496.6,465.3 497.9,464.7 499.1,464.2 500.3,463.6 501.5,463.0 502.8,462.4 504.1,461.8 505.4,461.2 506.5,460.6 507.6,460.1 508.4,459.7 509.1,459.4 509.1,457.7" fill="#ccccff" stroke="none"/>
<polyline points="403.8,460.9 404.5,461.3 405.3,461.7 406.4,462.3 407.6,462.9 408.8,463.6 410.1,464.3 411.4,465.0 412.6,465.7 413.8,466.4 415.0,467.2 416.3,468.0 417.6,468.8 418.9,469.6 420.2,470.4 421.6,471.2 423.0,471.9 424.5,472.6 426.1,473.3 427.8,474.0 429.6,474.6 431.2,475.3 432.8,475.9 434.3,476.5 435.6,477.1 436.7,477.7 437.6,478.2 438.4,478.7 439.1,479.2 439.7,479.7 440.4,480.2 441.1,480.7 441.8,481.3 442.6,481.9 443.4,482.6 444.2,483.3 444.9,484.0 445.7,484.7 446.5,485.3 447.3,485.9 448.1,486.5 448.9,487.0 449.7,487.5 450.6,488.0 451.4,488.5 452.2,488.9 453.0,489.2 453.7,489.5 454.4,489.7 455.0,489.8 455.5,489.9 455.9,489.9 456.3,489.8 456.7,489.7 457.2,489.4 457.8,489.1 458.5,488.6 459.3,488.0 460.3,487.2 461.2,486.3 462.3,485.3 463.4,484.3 464.6,483.2 465.7,482.2 466.9,481.3 468.1,480.4 469.3,479.6 470.6,478.7 471.8,477.9 473.2,477.0 474.5,476.2 475.9,475.4 477.3,474.6 478.8,473.8 480.3,473.0 482.0,472.2 483.6,471.4 485.2,470.6 486.9,469.8 488.4,469.1 489.9,468.4 491.3,467.7 492.7,467.1 494.0,466.5 495.3,465.9 496.6,465.3 497.9,464.7 499.1,464.2 500.3,463.6 501.5,463.0 502.8,462.4 504.1,461.8 505.4,461.2 506.5,460.6 507.6,460.1 508.4,459.7 509.1,459.4" fill="none" stroke="#fff" stroke-width="2.8" stroke-linejoin="round"/>
<line x1="403.8" y1="457.70000000000005" x2="509.1" y2="457.70000000000005" stroke="#1c1cf4" stroke-width="1.5" opacity="0.8"/>
<polyline points="403.8,460.9 404.5,461.3 405.3,461.7 406.4,462.3 407.6,462.9 408.8,463.6 410.1,464.3 411.4,465.0 412.6,465.7 413.8,466.4 415.0,467.2 416.3,468.0 417.6,468.8 418.9,469.6 420.2,470.4 421.6,471.2 423.0,471.9 424.5,472.6 426.1,473.3 427.8,474.0 429.6,474.6 431.2,475.3 432.8,475.9 434.3,476.5 435.6,477.1 436.7,477.7 437.6,478.2 438.4,478.7 439.1,479.2 439.7,479.7 440.4,480.2 441.1,480.7 441.8,481.3 442.6,481.9 443.4,482.6 444.2,483.3 444.9,484.0 445.7,484.7 446.5,485.3 447.3,485.9 448.1,486.5 448.9,487.0 449.7,487.5 450.6,488.0 451.4,488.5 452.2,488.9 453.0,489.2 453.7,489.5 454.4,489.7 455.0,489.8 455.5,489.9 455.9,489.9 456.3,489.8 456.7,489.7 457.2,489.4 457.8,489.1 458.5,488.6 459.3,488.0 460.3,487.2 461.2,486.3 462.3,485.3 463.4,484.3 464.6,483.2 465.7,482.2 466.9,481.3 468.1,480.4 469.3,479.6 470.6,478.7 471.8,477.9 473.2,477.0 474.5,476.2 475.9,475.4 477.3,474.6 478.8,473.8 480.3,473.0 482.0,472.2 483.6,471.4 485.2,470.6 486.9,469.8 488.4,469.1 489.9,468.4 491.3,467.7 492.7,467.1 494.0,466.5 495.3,465.9 496.6,465.3 497.9,464.7 499.1,464.2 500.3,463.6 501.5,463.0 502.8,462.4 504.1,461.8 505.4,461.2 506.5,460.6 507.6,460.1 508.4,459.7 509.1,459.4" fill="none" stroke="#1c1cf4" stroke-width="1.35" stroke-linejoin="round"/>
<text x="191.40" y="507.20" font-size="15" font-weight="bold" text-anchor="start" fill="#000" stroke="#000" stroke-width="0.35">J</text>
<text x="264.35" y="509.00" font-size="7" font-weight="bold" text-anchor="middle" fill="#000">Average metabolic ratio</text>
<rect x="211.7" y="513.4" width="105.30" height="90.50" fill="none" stroke="#9a9a9a" stroke-width="1"/>
<line x1="211.7" y1="524.60" x2="213.2" y2="524.60" stroke="#9a9a9a" stroke-width="0.8"/>
<line x1="317.0" y1="524.60" x2="315.5" y2="524.60" stroke="#9a9a9a" stroke-width="0.8"/>
<text x="319.00" y="526.20" font-size="4.7" font-weight="bold" text-anchor="start" fill="#000">0.07</text>
<line x1="211.7" y1="537.75" x2="213.2" y2="537.75" stroke="#9a9a9a" stroke-width="0.8"/>
<line x1="317.0" y1="537.75" x2="315.5" y2="537.75" stroke="#9a9a9a" stroke-width="0.8"/>
<text x="319.00" y="539.35" font-size="4.7" font-weight="bold" text-anchor="start" fill="#000">0.06</text>
<line x1="211.7" y1="550.90" x2="213.2" y2="550.90" stroke="#9a9a9a" stroke-width="0.8"/>
<line x1="317.0" y1="550.90" x2="315.5" y2="550.90" stroke="#9a9a9a" stroke-width="0.8"/>
<text x="319.00" y="552.50" font-size="4.7" font-weight="bold" text-anchor="start" fill="#000">0.05</text>
<line x1="211.7" y1="564.05" x2="213.2" y2="564.05" stroke="#9a9a9a" stroke-width="0.8"/>
<line x1="317.0" y1="564.05" x2="315.5" y2="564.05" stroke="#9a9a9a" stroke-width="0.8"/>
<text x="319.00" y="565.65" font-size="4.7" font-weight="bold" text-anchor="start" fill="#000">0.04</text>
<line x1="211.7" y1="577.20" x2="213.2" y2="577.20" stroke="#9a9a9a" stroke-width="0.8"/>
<line x1="317.0" y1="577.20" x2="315.5" y2="577.20" stroke="#9a9a9a" stroke-width="0.8"/>
<text x="319.00" y="578.80" font-size="4.7" font-weight="bold" text-anchor="start" fill="#000">0.03</text>
<line x1="211.7" y1="590.35" x2="213.2" y2="590.35" stroke="#9a9a9a" stroke-width="0.8"/>
<line x1="317.0" y1="590.35" x2="315.5" y2="590.35" stroke="#9a9a9a" stroke-width="0.8"/>
<text x="319.00" y="591.95" font-size="4.7" font-weight="bold" text-anchor="start" fill="#000">0.02</text>
<line x1="211.7" y1="603.50" x2="213.2" y2="603.50" stroke="#9a9a9a" stroke-width="0.8"/>
<line x1="317.0" y1="603.50" x2="315.5" y2="603.50" stroke="#9a9a9a" stroke-width="0.8"/>
<text x="319.00" y="605.10" font-size="4.7" font-weight="bold" text-anchor="start" fill="#000">0.01</text>
<line x1="211.50" y1="603.9" x2="211.50" y2="602.4" stroke="#9a9a9a" stroke-width="0.8"/>
<line x1="211.50" y1="513.4" x2="211.50" y2="514.9" stroke="#9a9a9a" stroke-width="0.8"/>
<text x="211.50" y="611.00" font-size="4.7" font-weight="bold" text-anchor="middle" fill="#000">0.01</text>
<line x1="226.77" y1="603.9" x2="226.77" y2="602.4" stroke="#9a9a9a" stroke-width="0.8"/>
<line x1="226.77" y1="513.4" x2="226.77" y2="514.9" stroke="#9a9a9a" stroke-width="0.8"/>
<text x="226.77" y="611.00" font-size="4.7" font-weight="bold" text-anchor="middle" fill="#000">0.02</text>
<line x1="242.04" y1="603.9" x2="242.04" y2="602.4" stroke="#9a9a9a" stroke-width="0.8"/>
<line x1="242.04" y1="513.4" x2="242.04" y2="514.9" stroke="#9a9a9a" stroke-width="0.8"/>
<text x="242.04" y="611.00" font-size="4.7" font-weight="bold" text-anchor="middle" fill="#000">0.03</text>
<line x1="257.31" y1="603.9" x2="257.31" y2="602.4" stroke="#9a9a9a" stroke-width="0.8"/>
<line x1="257.31" y1="513.4" x2="257.31" y2="514.9" stroke="#9a9a9a" stroke-width="0.8"/>
<text x="257.31" y="611.00" font-size="4.7" font-weight="bold" text-anchor="middle" fill="#000">0.04</text>
<line x1="272.58" y1="603.9" x2="272.58" y2="602.4" stroke="#9a9a9a" stroke-width="0.8"/>
<line x1="272.58" y1="513.4" x2="272.58" y2="514.9" stroke="#9a9a9a" stroke-width="0.8"/>
<text x="272.58" y="611.00" font-size="4.7" font-weight="bold" text-anchor="middle" fill="#000">0.05</text>
<line x1="287.85" y1="603.9" x2="287.85" y2="602.4" stroke="#9a9a9a" stroke-width="0.8"/>
<line x1="287.85" y1="513.4" x2="287.85" y2="514.9" stroke="#9a9a9a" stroke-width="0.8"/>
<text x="287.85" y="611.00" font-size="4.7" font-weight="bold" text-anchor="middle" fill="#000">0.06</text>
<line x1="303.12" y1="603.9" x2="303.12" y2="602.4" stroke="#9a9a9a" stroke-width="0.8"/>
<line x1="303.12" y1="513.4" x2="303.12" y2="514.9" stroke="#9a9a9a" stroke-width="0.8"/>
<text x="303.12" y="611.00" font-size="4.7" font-weight="bold" text-anchor="middle" fill="#000">0.07</text>
<text x="264.35" y="618.60" font-size="5.5" font-weight="bold" text-anchor="middle" fill="#000">• Na/K dynamics</text>
<text x="335.10" y="558.40" font-size="5.5" font-weight="bold" text-anchor="middle" fill="#000" transform="rotate(-90 335.10 558.40)">• Na/K dynamics</text>
<circle cx="216.6" cy="603.1" r="1.15" fill="#a0a0ff" stroke="#6464ff" stroke-width="0.75"/>
<circle cx="246.4" cy="576.3" r="1.15" fill="#a0a0ff" stroke="#6464ff" stroke-width="0.75"/>
<circle cx="243.8" cy="580.3" r="1.15" fill="#a0a0ff" stroke="#6464ff" stroke-width="0.75"/>
<circle cx="226.0" cy="591.2" r="1.15" fill="#a0a0ff" stroke="#6464ff" stroke-width="0.75"/>
<circle cx="225.9" cy="595.1" r="1.15" fill="#a0a0ff" stroke="#6464ff" stroke-width="0.75"/>
<circle cx="244.2" cy="580.8" r="1.15" fill="#a0a0ff" stroke="#6464ff" stroke-width="0.75"/>
<circle cx="226.5" cy="591.0" r="1.15" fill="#a0a0ff" stroke="#6464ff" stroke-width="0.75"/>
<circle cx="214.6" cy="601.9" r="1.15" fill="#a0a0ff" stroke="#6464ff" stroke-width="0.75"/>
<circle cx="239.5" cy="580.2" r="1.15" fill="#a0a0ff" stroke="#6464ff" stroke-width="0.75"/>
<circle cx="244.1" cy="584.0" r="1.15" fill="#a0a0ff" stroke="#6464ff" stroke-width="0.75"/>
<circle cx="216.7" cy="599.7" r="1.15" fill="#a0a0ff" stroke="#6464ff" stroke-width="0.75"/>
<circle cx="241.3" cy="582.1" r="1.15" fill="#a0a0ff" stroke="#6464ff" stroke-width="0.75"/>
<circle cx="237.1" cy="579.2" r="1.15" fill="#a0a0ff" stroke="#6464ff" stroke-width="0.75"/>
<circle cx="227.8" cy="594.4" r="1.15" fill="#a0a0ff" stroke="#6464ff" stroke-width="0.75"/>
<circle cx="229.6" cy="588.5" r="1.15" fill="#a0a0ff" stroke="#6464ff" stroke-width="0.75"/>
<circle cx="238.6" cy="575.9" r="1.15" fill="#a0a0ff" stroke="#6464ff" stroke-width="0.75"/>
<circle cx="238.8" cy="568.6" r="1.15" fill="#a0a0ff" stroke="#6464ff" stroke-width="0.75"/>
<circle cx="240.9" cy="569.9" r="1.15" fill="#a0a0ff" stroke="#6464ff" stroke-width="0.75"/>
<circle cx="220.6" cy="598.4" r="1.15" fill="#a0a0ff" stroke="#6464ff" stroke-width="0.75"/>
<circle cx="240.3" cy="578.4" r="1.15" fill="#a0a0ff" stroke="#6464ff" stroke-width="0.75"/>
<circle cx="216.2" cy="596.5" r="1.15" fill="#a0a0ff" stroke="#6464ff" stroke-width="0.75"/>
<circle cx="244.3" cy="580.8" r="1.15" fill="#a0a0ff" stroke="#6464ff" stroke-width="0.75"/>
<circle cx="237.8" cy="583.9" r="1.15" fill="#a0a0ff" stroke="#6464ff" stroke-width="0.75"/>
<circle cx="247.9" cy="583.4" r="1.15" fill="#a0a0ff" stroke="#6464ff" stroke-width="0.75"/>
<circle cx="232.4" cy="589.2" r="1.15" fill="#a0a0ff" stroke="#6464ff" stroke-width="0.75"/>
<circle cx="223.6" cy="593.6" r="1.15" fill="#a0a0ff" stroke="#6464ff" stroke-width="0.75"/>
<circle cx="230.6" cy="593.4" r="1.15" fill="#a0a0ff" stroke="#6464ff" stroke-width="0.75"/>
<circle cx="239.6" cy="576.5" r="1.15" fill="#a0a0ff" stroke="#6464ff" stroke-width="0.75"/>
<circle cx="215.5" cy="599.2" r="1.15" fill="#a0a0ff" stroke="#6464ff" stroke-width="0.75"/>
<circle cx="228.9" cy="596.7" r="1.15" fill="#a0a0ff" stroke="#6464ff" stroke-width="0.75"/>
<circle cx="221.5" cy="595.6" r="1.15" fill="#a0a0ff" stroke="#6464ff" stroke-width="0.75"/>
<circle cx="227.4" cy="589.9" r="1.15" fill="#a0a0ff" stroke="#6464ff" stroke-width="0.75"/>
<circle cx="228.8" cy="582.3" r="1.15" fill="#a0a0ff" stroke="#6464ff" stroke-width="0.75"/>
<circle cx="224.9" cy="595.3" r="1.15" fill="#a0a0ff" stroke="#6464ff" stroke-width="0.75"/>
<circle cx="212.5" cy="599.2" r="1.15" fill="#a0a0ff" stroke="#6464ff" stroke-width="0.75"/>
<circle cx="227.6" cy="584.6" r="1.15" fill="#a0a0ff" stroke="#6464ff" stroke-width="0.75"/>
<circle cx="225.7" cy="590.3" r="1.15" fill="#a0a0ff" stroke="#6464ff" stroke-width="0.75"/>
<circle cx="223.9" cy="593.7" r="1.15" fill="#a0a0ff" stroke="#6464ff" stroke-width="0.75"/>
<circle cx="223.6" cy="593.3" r="1.15" fill="#a0a0ff" stroke="#6464ff" stroke-width="0.75"/>
<circle cx="229.8" cy="588.1" r="1.15" fill="#a0a0ff" stroke="#6464ff" stroke-width="0.75"/>
<circle cx="215.5" cy="602.7" r="1.15" fill="#a0a0ff" stroke="#6464ff" stroke-width="0.75"/>
<circle cx="226.3" cy="586.5" r="1.15" fill="#a0a0ff" stroke="#6464ff" stroke-width="0.75"/>
<circle cx="232.1" cy="587.8" r="1.15" fill="#a0a0ff" stroke="#6464ff" stroke-width="0.75"/>
<circle cx="239.9" cy="579.2" r="1.15" fill="#a0a0ff" stroke="#6464ff" stroke-width="0.75"/>
<circle cx="229.5" cy="582.4" r="1.15" fill="#a0a0ff" stroke="#6464ff" stroke-width="0.75"/>
<circle cx="238.6" cy="580.1" r="1.15" fill="#a0a0ff" stroke="#6464ff" stroke-width="0.75"/>
<circle cx="231.4" cy="588.5" r="1.15" fill="#a0a0ff" stroke="#6464ff" stroke-width="0.75"/>
<circle cx="238.5" cy="570.0" r="1.15" fill="#a0a0ff" stroke="#6464ff" stroke-width="0.75"/>
<circle cx="236.3" cy="579.0" r="1.15" fill="#a0a0ff" stroke="#6464ff" stroke-width="0.75"/>
<circle cx="228.5" cy="582.9" r="1.15" fill="#a0a0ff" stroke="#6464ff" stroke-width="0.75"/>
<circle cx="227.8" cy="578.9" r="1.15" fill="#a0a0ff" stroke="#6464ff" stroke-width="0.75"/>
<circle cx="241.4" cy="576.0" r="1.15" fill="#a0a0ff" stroke="#6464ff" stroke-width="0.75"/>
<circle cx="214.8" cy="599.6" r="1.15" fill="#a0a0ff" stroke="#6464ff" stroke-width="0.75"/>
<circle cx="229.6" cy="579.8" r="1.15" fill="#a0a0ff" stroke="#6464ff" stroke-width="0.75"/>
<circle cx="246.8" cy="579.1" r="1.15" fill="#a0a0ff" stroke="#6464ff" stroke-width="0.75"/>
<circle cx="226.7" cy="591.6" r="1.15" fill="#a0a0ff" stroke="#6464ff" stroke-width="0.75"/>
<circle cx="247.0" cy="576.6" r="1.15" fill="#a0a0ff" stroke="#6464ff" stroke-width="0.75"/>
<circle cx="220.9" cy="600.5" r="1.15" fill="#a0a0ff" stroke="#6464ff" stroke-width="0.75"/>
<circle cx="234.3" cy="574.6" r="1.15" fill="#a0a0ff" stroke="#6464ff" stroke-width="0.75"/>
<circle cx="223.7" cy="592.8" r="1.15" fill="#a0a0ff" stroke="#6464ff" stroke-width="0.75"/>
<circle cx="244.9" cy="578.6" r="1.15" fill="#a0a0ff" stroke="#6464ff" stroke-width="0.75"/>
<circle cx="238.0" cy="580.6" r="1.15" fill="#a0a0ff" stroke="#6464ff" stroke-width="0.75"/>
<circle cx="243.2" cy="576.8" r="1.15" fill="#a0a0ff" stroke="#6464ff" stroke-width="0.75"/>
<circle cx="213.6" cy="596.2" r="1.15" fill="#a0a0ff" stroke="#6464ff" stroke-width="0.75"/>
<circle cx="237.0" cy="581.0" r="1.15" fill="#a0a0ff" stroke="#6464ff" stroke-width="0.75"/>
<circle cx="243.8" cy="573.7" r="1.15" fill="#a0a0ff" stroke="#6464ff" stroke-width="0.75"/>
<circle cx="233.9" cy="589.8" r="1.15" fill="#a0a0ff" stroke="#6464ff" stroke-width="0.75"/>
<circle cx="225.1" cy="592.3" r="1.15" fill="#a0a0ff" stroke="#6464ff" stroke-width="0.75"/>
<circle cx="213.1" cy="592.5" r="1.15" fill="#a0a0ff" stroke="#6464ff" stroke-width="0.75"/>
<circle cx="227.6" cy="587.8" r="1.15" fill="#a0a0ff" stroke="#6464ff" stroke-width="0.75"/>
<circle cx="220.7" cy="602.7" r="1.15" fill="#a0a0ff" stroke="#6464ff" stroke-width="0.75"/>
<circle cx="221.8" cy="588.6" r="1.15" fill="#a0a0ff" stroke="#6464ff" stroke-width="0.75"/>
<circle cx="229.4" cy="590.8" r="1.15" fill="#a0a0ff" stroke="#6464ff" stroke-width="0.75"/>
<circle cx="239.0" cy="591.3" r="1.15" fill="#a0a0ff" stroke="#6464ff" stroke-width="0.75"/>
<circle cx="241.6" cy="572.8" r="1.15" fill="#a0a0ff" stroke="#6464ff" stroke-width="0.75"/>
<circle cx="241.5" cy="578.1" r="1.15" fill="#a0a0ff" stroke="#6464ff" stroke-width="0.75"/>
<circle cx="230.6" cy="590.5" r="1.15" fill="#a0a0ff" stroke="#6464ff" stroke-width="0.75"/>
<circle cx="232.9" cy="580.6" r="1.15" fill="#a0a0ff" stroke="#6464ff" stroke-width="0.75"/>
<circle cx="245.2" cy="571.4" r="1.15" fill="#a0a0ff" stroke="#6464ff" stroke-width="0.75"/>
<circle cx="224.8" cy="593.7" r="1.15" fill="#a0a0ff" stroke="#6464ff" stroke-width="0.75"/>
<circle cx="220.3" cy="595.3" r="1.15" fill="#a0a0ff" stroke="#6464ff" stroke-width="0.75"/>
<circle cx="238.3" cy="581.0" r="1.15" fill="#a0a0ff" stroke="#6464ff" stroke-width="0.75"/>
<circle cx="220.4" cy="593.6" r="1.15" fill="#a0a0ff" stroke="#6464ff" stroke-width="0.75"/>
<circle cx="222.5" cy="595.8" r="1.15" fill="#a0a0ff" stroke="#6464ff" stroke-width="0.75"/>
<circle cx="216.4" cy="586.9" r="1.15" fill="#a0a0ff" stroke="#6464ff" stroke-width="0.75"/>
<circle cx="235.9" cy="579.1" r="1.15" fill="#a0a0ff" stroke="#6464ff" stroke-width="0.75"/>
<circle cx="229.0" cy="587.7" r="1.15" fill="#a0a0ff" stroke="#6464ff" stroke-width="0.75"/>
<circle cx="225.8" cy="581.2" r="1.15" fill="#a0a0ff" stroke="#6464ff" stroke-width="0.75"/>
<circle cx="218.3" cy="588.7" r="1.15" fill="#a0a0ff" stroke="#6464ff" stroke-width="0.75"/>
<circle cx="223.4" cy="591.2" r="1.15" fill="#a0a0ff" stroke="#6464ff" stroke-width="0.75"/>
<circle cx="239.0" cy="588.3" r="1.15" fill="#a0a0ff" stroke="#6464ff" stroke-width="0.75"/>
<circle cx="225.8" cy="601.9" r="1.15" fill="#a0a0ff" stroke="#6464ff" stroke-width="0.75"/>
<circle cx="227.0" cy="602.4" r="1.15" fill="#a0a0ff" stroke="#6464ff" stroke-width="0.75"/>
<circle cx="242.8" cy="573.1" r="1.15" fill="#a0a0ff" stroke="#6464ff" stroke-width="0.75"/>
<circle cx="244.5" cy="580.9" r="1.15" fill="#a0a0ff" stroke="#6464ff" stroke-width="0.75"/>
<circle cx="228.2" cy="580.2" r="1.15" fill="#a0a0ff" stroke="#6464ff" stroke-width="0.75"/>
<circle cx="214.9" cy="598.2" r="1.15" fill="#a0a0ff" stroke="#6464ff" stroke-width="0.75"/>
<circle cx="236.4" cy="571.4" r="1.15" fill="#a0a0ff" stroke="#6464ff" stroke-width="0.75"/>
<circle cx="231.2" cy="589.3" r="1.15" fill="#a0a0ff" stroke="#6464ff" stroke-width="0.75"/>
<circle cx="246.3" cy="579.5" r="1.15" fill="#a0a0ff" stroke="#6464ff" stroke-width="0.75"/>
<circle cx="235.8" cy="581.9" r="1.15" fill="#a0a0ff" stroke="#6464ff" stroke-width="0.75"/>
<circle cx="234.7" cy="581.3" r="1.15" fill="#a0a0ff" stroke="#6464ff" stroke-width="0.75"/>
<circle cx="232.3" cy="580.2" r="1.15" fill="#a0a0ff" stroke="#6464ff" stroke-width="0.75"/>
<circle cx="218.8" cy="603.3" r="1.15" fill="#a0a0ff" stroke="#6464ff" stroke-width="0.75"/>
<circle cx="237.8" cy="575.5" r="1.15" fill="#a0a0ff" stroke="#6464ff" stroke-width="0.75"/>
<circle cx="229.5" cy="589.0" r="1.15" fill="#a0a0ff" stroke="#6464ff" stroke-width="0.75"/>
<circle cx="238.9" cy="585.4" r="1.15" fill="#a0a0ff" stroke="#6464ff" stroke-width="0.75"/>
<circle cx="231.8" cy="585.9" r="1.15" fill="#a0a0ff" stroke="#6464ff" stroke-width="0.75"/>
<circle cx="226.7" cy="590.0" r="1.15" fill="#a0a0ff" stroke="#6464ff" stroke-width="0.75"/>
<circle cx="221.6" cy="594.5" r="1.15" fill="#a0a0ff" stroke="#6464ff" stroke-width="0.75"/>
<circle cx="229.0" cy="591.6" r="1.15" fill="#a0a0ff" stroke="#6464ff" stroke-width="0.75"/>
<circle cx="240.1" cy="585.7" r="1.15" fill="#a0a0ff" stroke="#6464ff" stroke-width="0.75"/>
<circle cx="239.1" cy="572.6" r="1.15" fill="#a0a0ff" stroke="#6464ff" stroke-width="0.75"/>
<circle cx="231.1" cy="580.5" r="1.15" fill="#a0a0ff" stroke="#6464ff" stroke-width="0.75"/>
<circle cx="224.5" cy="590.4" r="1.15" fill="#a0a0ff" stroke="#6464ff" stroke-width="0.75"/>
<circle cx="251.3" cy="552.0" r="1.15" fill="#a0a0ff" stroke="#6464ff" stroke-width="0.75"/>
<circle cx="256.4" cy="554.0" r="1.15" fill="#a0a0ff" stroke="#6464ff" stroke-width="0.75"/>
<circle cx="256.6" cy="557.0" r="1.15" fill="#a0a0ff" stroke="#6464ff" stroke-width="0.75"/>
<circle cx="232.2" cy="557.8" r="1.15" fill="#a0a0ff" stroke="#6464ff" stroke-width="0.75"/>
<circle cx="233.5" cy="562.5" r="1.15" fill="#a0a0ff" stroke="#6464ff" stroke-width="0.75"/>
<circle cx="233.0" cy="565.0" r="1.15" fill="#a0a0ff" stroke="#6464ff" stroke-width="0.75"/>
<circle cx="254.4" cy="562.6" r="1.15" fill="#a0a0ff" stroke="#6464ff" stroke-width="0.75"/>
<circle cx="241.4" cy="564.4" r="1.15" fill="#a0a0ff" stroke="#6464ff" stroke-width="0.75"/>
<circle cx="243.7" cy="567.5" r="1.15" fill="#a0a0ff" stroke="#6464ff" stroke-width="0.75"/>
<circle cx="247.4" cy="570.0" r="1.15" fill="#a0a0ff" stroke="#6464ff" stroke-width="0.75"/>
<circle cx="243.0" cy="573.0" r="1.15" fill="#a0a0ff" stroke="#6464ff" stroke-width="0.75"/>
<circle cx="233.0" cy="572.5" r="1.15" fill="#a0a0ff" stroke="#6464ff" stroke-width="0.75"/>
<circle cx="237.0" cy="573.0" r="1.15" fill="#a0a0ff" stroke="#6464ff" stroke-width="0.75"/>
<circle cx="222.0" cy="580.0" r="1.15" fill="#a0a0ff" stroke="#6464ff" stroke-width="0.75"/>
<circle cx="228.0" cy="576.0" r="1.15" fill="#a0a0ff" stroke="#6464ff" stroke-width="0.75"/>
<circle cx="249.5" cy="582.0" r="1.15" fill="#a0a0ff" stroke="#6464ff" stroke-width="0.75"/>
<circle cx="265.5" cy="578.0" r="1.15" fill="#a0a0ff" stroke="#6464ff" stroke-width="0.75"/>
<circle cx="256.3" cy="586.5" r="1.15" fill="#a0a0ff" stroke="#6464ff" stroke-width="0.75"/>
<circle cx="253.5" cy="589.0" r="1.15" fill="#a0a0ff" stroke="#6464ff" stroke-width="0.75"/>
<circle cx="254.5" cy="591.0" r="1.15" fill="#a0a0ff" stroke="#6464ff" stroke-width="0.75"/>
<circle cx="259.0" cy="593.5" r="1.15" fill="#a0a0ff" stroke="#6464ff" stroke-width="0.75"/>
<circle cx="244.5" cy="595.5" r="1.15" fill="#a0a0ff" stroke="#6464ff" stroke-width="0.75"/>
<circle cx="234.0" cy="593.0" r="1.15" fill="#a0a0ff" stroke="#6464ff" stroke-width="0.75"/>
<circle cx="229.0" cy="596.0" r="1.15" fill="#a0a0ff" stroke="#6464ff" stroke-width="0.75"/>
<circle cx="265.7" cy="577.8" r="1.15" fill="#a0a0ff" stroke="#6464ff" stroke-width="0.75"/>
<circle cx="272.5" cy="577.2" r="1.15" fill="#a0a0ff" stroke="#6464ff" stroke-width="0.75"/>
<circle cx="273.5" cy="576.8" r="1.15" fill="#a0a0ff" stroke="#6464ff" stroke-width="0.75"/>
<circle cx="278.8" cy="576.6" r="1.15" fill="#a0a0ff" stroke="#6464ff" stroke-width="0.75"/>
<circle cx="276.4" cy="589.0" r="1.15" fill="#a0a0ff" stroke="#6464ff" stroke-width="0.75"/>
<circle cx="278.4" cy="593.0" r="1.15" fill="#a0a0ff" stroke="#6464ff" stroke-width="0.75"/>
<circle cx="285.5" cy="596.2" r="1.15" fill="#a0a0ff" stroke="#6464ff" stroke-width="0.75"/>
<circle cx="307.9" cy="590.2" r="1.15" fill="#a0a0ff" stroke="#6464ff" stroke-width="0.75"/>
<circle cx="308.8" cy="594.4" r="1.15" fill="#a0a0ff" stroke="#6464ff" stroke-width="0.75"/>
<circle cx="317.0" cy="580.5" r="1.15" fill="#a0a0ff" stroke="#6464ff" stroke-width="0.75"/>
<polygon points="336.2,547.1 336.2,547.1 336.3,547.4 336.3,547.7 336.4,548.1 336.5,548.5 336.7,549.0 336.8,549.6 336.9,550.1 337.0,550.7 337.1,551.3 337.2,552.0 337.3,552.7 337.4,553.4 337.5,554.1 337.6,554.9 337.7,555.6 337.8,556.4 337.9,557.2 338.0,558.0 338.1,558.8 338.2,559.6 338.3,560.4 338.4,561.2 338.5,562.0 338.6,562.8 338.7,563.6 338.8,564.3 338.9,565.1 339.1,565.9 339.2,566.6 339.4,567.2 339.6,567.9 339.8,568.4 340.1,568.8 340.3,569.2 340.6,569.5 340.9,569.8 341.3,570.0 341.7,570.2 342.2,570.5 342.7,570.8 343.3,571.2 344.0,571.5 344.8,571.9 345.6,572.2 346.4,572.6 347.3,573.1 348.2,573.5 349.1,574.0 350.0,574.5 351.0,575.1 352.0,575.7 353.0,576.3 354.0,576.9 355.1,577.6 356.1,578.2 357.1,578.8 358.1,579.4 359.1,580.0 360.0,580.6 361.0,581.2 362.0,581.9 363.0,582.5 364.0,583.1 365.1,583.7 366.3,584.3 367.5,584.9 368.7,585.5 370.0,586.2 371.3,586.8 372.5,587.4 373.7,587.9 374.8,588.5 375.8,589.0 376.9,589.6 377.8,590.1 378.8,590.7 379.6,591.2 380.4,591.6 381.0,592.1 381.5,592.5 381.9,592.9 382.3,593.2 382.6,593.5 382.8,593.8 382.8,594.0 382.5,594.3 382.0,594.6 381.2,594.9 379.9,595.3 378.3,595.7 376.3,596.1 374.1,596.5 371.8,596.9 369.5,597.3 367.2,597.7 365.1,598.1 363.1,598.5 360.9,598.9 358.8,599.2 356.7,599.6 354.6,600.0 352.7,600.3 350.8,600.7 349.1,601.0 347.5,601.3 346.1,601.6 344.7,601.9 343.4,602.2 342.3,602.5 341.2,602.8 340.3,603.0 339.4,603.2 338.7,603.4 338.1,603.6 337.6,603.7 337.2,603.8 336.9,604.0 336.6,604.0 336.4,604.1 336.2,604.2 336.2,604.2" fill="#ccccff" stroke="none"/>
<line x1="336.2" y1="513.4" x2="336.2" y2="603.9" stroke="#9a9a9a" stroke-width="1"/>
<line x1="336.2" y1="547.10" x2="336.2" y2="604.20" stroke="#1c1cf4" stroke-width="1.1"/>
<polyline points="336.2,547.1 336.3,547.4 336.3,547.7 336.4,548.1 336.5,548.5 336.7,549.0 336.8,549.6 336.9,550.1 337.0,550.7 337.1,551.3 337.2,552.0 337.3,552.7 337.4,553.4 337.5,554.1 337.6,554.9 337.7,555.6 337.8,556.4 337.9,557.2 338.0,558.0 338.1,558.8 338.2,559.6 338.3,560.4 338.4,561.2 338.5,562.0 338.6,562.8 338.7,563.6 338.8,564.3 338.9,565.1 339.1,565.9 339.2,566.6 339.4,567.2 339.6,567.9 339.8,568.4 340.1,568.8 340.3,569.2 340.6,569.5 340.9,569.8 341.3,570.0 341.7,570.2 342.2,570.5 342.7,570.8 343.3,571.2 344.0,571.5 344.8,571.9 345.6,572.2 346.4,572.6 347.3,573.1 348.2,573.5 349.1,574.0 350.0,574.5 351.0,575.1 352.0,575.7 353.0,576.3 354.0,576.9 355.1,577.6 356.1,578.2 357.1,578.8 358.1,579.4 359.1,580.0 360.0,580.6 361.0,581.2 362.0,581.9 363.0,582.5 364.0,583.1 365.1,583.7 366.3,584.3 367.5,584.9 368.7,585.5 370.0,586.2 371.3,586.8 372.5,587.4 373.7,587.9 374.8,588.5 375.8,589.0 376.9,589.6 377.8,590.1 378.8,590.7 379.6,591.2 380.4,591.6 381.0,592.1 381.5,592.5 381.9,592.9 382.3,593.2 382.6,593.5 382.8,593.8 382.8,594.0 382.5,594.3 382.0,594.6 381.2,594.9 379.9,595.3 378.3,595.7 376.3,596.1 374.1,596.5 371.8,596.9 369.5,597.3 367.2,597.7 365.1,598.1 363.1,598.5 360.9,598.9 358.8,599.2 356.7,599.6 354.6,600.0 352.7,600.3 350.8,600.7 349.1,601.0 347.5,601.3 346.1,601.6 344.7,601.9 343.4,602.2 342.3,602.5 341.2,602.8 340.3,603.0 339.4,603.2 338.7,603.4 338.1,603.6 337.6,603.7 337.2,603.8 336.9,604.0 336.6,604.0 336.4,604.1 336.2,604.2" fill="none" stroke="#fff" stroke-width="2.8" stroke-linejoin="round"/>
<line x1="336.2" y1="547.10" x2="336.2" y2="604.20" stroke="#1c1cf4" stroke-width="1.1"/>
<polyline points="336.2,547.1 336.3,547.4 336.3,547.7 336.4,548.1 336.5,548.5 336.7,549.0 336.8,549.6 336.9,550.1 337.0,550.7 337.1,551.3 337.2,552.0 337.3,552.7 337.4,553.4 337.5,554.1 337.6,554.9 337.7,555.6 337.8,556.4 337.9,557.2 338.0,558.0 338.1,558.8 338.2,559.6 338.3,560.4 338.4,561.2 338.5,562.0 338.6,562.8 338.7,563.6 338.8,564.3 338.9,565.1 339.1,565.9 339.2,566.6 339.4,567.2 339.6,567.9 339.8,568.4 340.1,568.8 340.3,569.2 340.6,569.5 340.9,569.8 341.3,570.0 341.7,570.2 342.2,570.5 342.7,570.8 343.3,571.2 344.0,571.5 344.8,571.9 345.6,572.2 346.4,572.6 347.3,573.1 348.2,573.5 349.1,574.0 350.0,574.5 351.0,575.1 352.0,575.7 353.0,576.3 354.0,576.9 355.1,577.6 356.1,578.2 357.1,578.8 358.1,579.4 359.1,580.0 360.0,580.6 361.0,581.2 362.0,581.9 363.0,582.5 364.0,583.1 365.1,583.7 366.3,584.3 367.5,584.9 368.7,585.5 370.0,586.2 371.3,586.8 372.5,587.4 373.7,587.9 374.8,588.5 375.8,589.0 376.9,589.6 377.8,590.1 378.8,590.7 379.6,591.2 380.4,591.6 381.0,592.1 381.5,592.5 381.9,592.9 382.3,593.2 382.6,593.5 382.8,593.8 382.8,594.0 382.5,594.3 382.0,594.6 381.2,594.9 379.9,595.3 378.3,595.7 376.3,596.1 374.1,596.5 371.8,596.9 369.5,597.3 367.2,597.7 365.1,598.1 363.1,598.5 360.9,598.9 358.8,599.2 356.7,599.6 354.6,600.0 352.7,600.3 350.8,600.7 349.1,601.0 347.5,601.3 346.1,601.6 344.7,601.9 343.4,602.2 342.3,602.5 341.2,602.8 340.3,603.0 339.4,603.2 338.7,603.4 338.1,603.6 337.6,603.7 337.2,603.8 336.9,604.0 336.6,604.0 336.4,604.1 336.2,604.2" fill="none" stroke="#1c1cf4" stroke-width="1.35" stroke-linejoin="round"/>
<polygon points="211.3,623.5 211.3,628.3 211.6,629.0 212.0,629.8 212.5,630.8 213.1,632.0 213.7,633.2 214.3,634.5 214.9,635.8 215.4,637.0 215.9,638.3 216.4,639.6 217.0,641.0 217.5,642.4 218.0,643.7 218.5,645.1 219.1,646.3 219.6,647.5 220.2,648.6 220.7,649.7 221.3,650.8 221.9,651.8 222.4,652.8 223.0,653.5 223.6,654.1 224.2,654.4 224.8,654.5 225.4,654.3 226.0,653.9 226.6,653.4 227.2,652.8 227.8,652.0 228.4,651.3 229.0,650.6 229.5,649.8 230.1,649.0 230.6,648.1 231.1,647.1 231.6,646.1 232.1,645.1 232.6,644.2 233.2,643.3 233.8,642.4 234.4,641.6 235.1,640.7 235.7,639.9 236.4,639.1 237.1,638.3 237.7,637.6 238.4,637.0 239.1,636.5 239.7,636.0 240.3,635.7 241.0,635.3 241.7,635.0 242.3,634.7 243.0,634.3 243.6,633.9 244.2,633.4 244.9,632.9 245.5,632.3 246.1,631.8 246.8,631.2 247.4,630.7 248.1,630.2 248.8,629.7 249.5,629.3 250.3,628.9 251.1,628.6 251.9,628.3 252.7,628.0 253.5,627.7 254.3,627.3 255.1,627.0 255.9,626.6 256.7,626.2 257.5,625.9 258.3,625.5 259.0,625.1 259.8,624.7 260.6,624.4 261.4,624.1 262.2,623.8 262.9,623.6 263.6,623.4 264.4,623.2 265.1,623.0 265.9,622.9 266.7,622.9 267.6,622.9 268.5,623.0 269.5,623.3 270.6,623.6 271.7,623.9 272.8,624.3 273.9,624.6 274.9,624.8 276.0,624.9 277.0,624.9 278.0,624.8 278.9,624.6 279.9,624.3 280.9,624.1 281.9,623.8 283.1,623.6 284.3,623.5 285.7,623.4 287.2,623.4 288.8,623.4 290.5,623.4 292.1,623.4 293.8,623.4 295.4,623.4 296.9,623.5 298.3,623.6 299.7,623.7 301.0,623.9 302.3,624.1 303.6,624.2 304.8,624.4 306.1,624.5 307.3,624.5 308.6,624.5 309.9,624.4 311.3,624.2 312.7,624.1 313.9,623.9 315.0,623.7 316.0,623.6 316.7,623.5 316.7,623.5" fill="#ccccff" stroke="none"/>
<polyline points="211.3,628.3 211.6,629.0 212.0,629.8 212.5,630.8 213.1,632.0 213.7,633.2 214.3,634.5 214.9,635.8 215.4,637.0 215.9,638.3 216.4,639.6 217.0,641.0 217.5,642.4 218.0,643.7 218.5,645.1 219.1,646.3 219.6,647.5 220.2,648.6 220.7,649.7 221.3,650.8 221.9,651.8 222.4,652.8 223.0,653.5 223.6,654.1 224.2,654.4 224.8,654.5 225.4,654.3 226.0,653.9 226.6,653.4 227.2,652.8 227.8,652.0 228.4,651.3 229.0,650.6 229.5,649.8 230.1,649.0 230.6,648.1 231.1,647.1 231.6,646.1 232.1,645.1 232.6,644.2 233.2,643.3 233.8,642.4 234.4,641.6 235.1,640.7 235.7,639.9 236.4,639.1 237.1,638.3 237.7,637.6 238.4,637.0 239.1,636.5 239.7,636.0 240.3,635.7 241.0,635.3 241.7,635.0 242.3,634.7 243.0,634.3 243.6,633.9 244.2,633.4 244.9,632.9 245.5,632.3 246.1,631.8 246.8,631.2 247.4,630.7 248.1,630.2 248.8,629.7 249.5,629.3 250.3,628.9 251.1,628.6 251.9,628.3 252.7,628.0 253.5,627.7 254.3,627.3 255.1,627.0 255.9,626.6 256.7,626.2 257.5,625.9 258.3,625.5 259.0,625.1 259.8,624.7 260.6,624.4 261.4,624.1 262.2,623.8 262.9,623.6 263.6,623.4 264.4,623.2 265.1,623.0 265.9,622.9 266.7,622.9 267.6,622.9 268.5,623.0 269.5,623.3 270.6,623.6 271.7,623.9 272.8,624.3 273.9,624.6 274.9,624.8 276.0,624.9 277.0,624.9 278.0,624.8 278.9,624.6 279.9,624.3 280.9,624.1 281.9,623.8 283.1,623.6 284.3,623.5 285.7,623.4 287.2,623.4 288.8,623.4 290.5,623.4 292.1,623.4 293.8,623.4 295.4,623.4 296.9,623.5 298.3,623.6 299.7,623.7 301.0,623.9 302.3,624.1 303.6,624.2 304.8,624.4 306.1,624.5 307.3,624.5 308.6,624.5 309.9,624.4 311.3,624.2 312.7,624.1 313.9,623.9 315.0,623.7 316.0,623.6 316.7,623.5" fill="none" stroke="#fff" stroke-width="2.8" stroke-linejoin="round"/>
<line x1="211.7" y1="623.5" x2="317.0" y2="623.5" stroke="#1c1cf4" stroke-width="1.5" opacity="0.8"/>
<polyline points="211.3,628.3 211.6,629.0 212.0,629.8 212.5,630.8 213.1,632.0 213.7,633.2 214.3,634.5 214.9,635.8 215.4,637.0 215.9,638.3 216.4,639.6 217.0,641.0 217.5,642.4 218.0,643.7 218.5,645.1 219.1,646.3 219.6,647.5 220.2,648.6 220.7,649.7 221.3,650.8 221.9,651.8 222.4,652.8 223.0,653.5 223.6,654.1 224.2,654.4 224.8,654.5 225.4,654.3 226.0,653.9 226.6,653.4 227.2,652.8 227.8,652.0 228.4,651.3 229.0,650.6 229.5,649.8 230.1,649.0 230.6,648.1 231.1,647.1 231.6,646.1 232.1,645.1 232.6,644.2 233.2,643.3 233.8,642.4 234.4,641.6 235.1,640.7 235.7,639.9 236.4,639.1 237.1,638.3 237.7,637.6 238.4,637.0 239.1,636.5 239.7,636.0 240.3,635.7 241.0,635.3 241.7,635.0 242.3,634.7 243.0,634.3 243.6,633.9 244.2,633.4 244.9,632.9 245.5,632.3 246.1,631.8 246.8,631.2 247.4,630.7 248.1,630.2 248.8,629.7 249.5,629.3 250.3,628.9 251.1,628.6 251.9,628.3 252.7,628.0 253.5,627.7 254.3,627.3 255.1,627.0 255.9,626.6 256.7,626.2 257.5,625.9 258.3,625.5 259.0,625.1 259.8,624.7 260.6,624.4 261.4,624.1 262.2,623.8 262.9,623.6 263.6,623.4 264.4,623.2 265.1,623.0 265.9,622.9 266.7,622.9 267.6,622.9 268.5,623.0 269.5,623.3 270.6,623.6 271.7,623.9 272.8,624.3 273.9,624.6 274.9,624.8 276.0,624.9 277.0,624.9 278.0,624.8 278.9,624.6 279.9,624.3 280.9,624.1 281.9,623.8 283.1,623.6 284.3,623.5 285.7,623.4 287.2,623.4 288.8,623.4 290.5,623.4 292.1,623.4 293.8,623.4 295.4,623.4 296.9,623.5 298.3,623.6 299.7,623.7 301.0,623.9 302.3,624.1 303.6,624.2 304.8,624.4 306.1,624.5 307.3,624.5 308.6,624.5 309.9,624.4 311.3,624.2 312.7,624.1 313.9,623.9 315.0,623.7 316.0,623.6 316.7,623.5" fill="none" stroke="#1c1cf4" stroke-width="1.35" stroke-linejoin="round"/></svg></body></html>
